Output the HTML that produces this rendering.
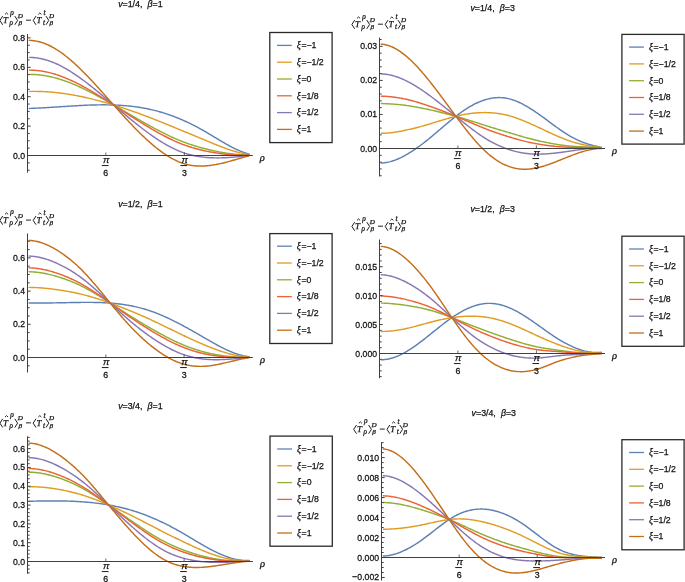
<!DOCTYPE html>
<html><head><meta charset="utf-8"><style>
html,body{margin:0;padding:0;background:#fff;}
svg{display:block;will-change:transform;}
svg{font-family:"Liberation Sans",sans-serif;}
text{fill:#111;stroke:#111;stroke-width:0.25px;}
</style></head><body>
<svg width="685" height="582" viewBox="0 0 685 582">
<rect width="685" height="582" fill="#fff"/>
<g fill="none" stroke-width="1.45" stroke-linejoin="round" stroke-linecap="round"><path d="M29.3 108.42 L30.3 108.38 L31.3 108.35 L32.3 108.31 L33.3 108.28 L34.3 108.24 L35.3 108.2 L36.3 108.15 L37.3 108.11 L38.3 108.06 L39.3 108.01 L40.3 107.96 L41.3 107.91 L42.3 107.86 L43.3 107.8 L44.3 107.75 L45.3 107.69 L46.3 107.63 L47.3 107.57 L48.3 107.51 L49.3 107.45 L50.3 107.39 L51.3 107.33 L52.3 107.27 L53.3 107.2 L54.3 107.14 L55.3 107.08 L56.3 107.01 L57.3 106.94 L58.3 106.88 L59.3 106.81 L60.3 106.75 L61.3 106.68 L62.3 106.62 L63.3 106.55 L64.3 106.48 L65.3 106.42 L66.3 106.35 L67.3 106.29 L68.3 106.23 L69.3 106.16 L70.3 106.1 L71.3 106.04 L72.3 105.98 L73.3 105.91 L74.3 105.85 L75.3 105.8 L76.3 105.74 L77.3 105.68 L78.3 105.63 L79.3 105.57 L80.3 105.52 L81.3 105.47 L82.3 105.42 L83.3 105.37 L84.3 105.32 L85.3 105.28 L86.3 105.23 L87.3 105.19 L88.3 105.15 L89.3 105.11 L90.3 105.08 L91.3 105.05 L92.3 105.01 L93.3 104.98 L94.3 104.96 L95.3 104.93 L96.3 104.91 L97.3 104.89 L98.3 104.88 L99.3 104.86 L100.3 104.85 L101.3 104.84 L102.3 104.84 L103.3 104.84 L104.3 104.84 L105.3 104.84 L106.3 104.85 L107.3 104.86 L108.3 104.87 L109.3 104.89 L110.3 104.91 L111.3 104.93 L112.3 104.96 L113.3 104.99 L114.3 105.03 L115.3 105.07 L116.3 105.11 L117.3 105.15 L118.3 105.21 L119.3 105.26 L120.3 105.32 L121.3 105.38 L122.3 105.45 L123.3 105.52 L124.3 105.6 L125.3 105.68 L126.3 105.77 L127.3 105.86 L128.3 105.96 L129.3 106.06 L130.3 106.16 L131.3 106.27 L132.3 106.39 L133.3 106.51 L134.3 106.63 L135.3 106.76 L136.3 106.9 L137.3 107.04 L138.3 107.19 L139.3 107.34 L140.3 107.5 L141.3 107.67 L142.3 107.84 L143.3 108.01 L144.3 108.19 L145.3 108.38 L146.3 108.58 L147.3 108.78 L148.3 108.98 L149.3 109.2 L150.3 109.42 L151.3 109.64 L152.3 109.87 L153.3 110.11 L154.3 110.36 L155.3 110.61 L156.3 110.87 L157.3 111.13 L158.3 111.41 L159.3 111.68 L160.3 111.97 L161.3 112.26 L162.3 112.56 L163.3 112.87 L164.3 113.18 L165.3 113.5 L166.3 113.83 L167.3 114.16 L168.3 114.5 L169.3 114.84 L170.3 115.2 L171.3 115.56 L172.3 115.92 L173.3 116.29 L174.3 116.67 L175.3 117.06 L176.3 117.45 L177.3 117.85 L178.3 118.26 L179.3 118.67 L180.3 119.09 L181.3 119.51 L182.3 119.94 L183.3 120.38 L184.3 120.83 L185.3 121.28 L186.3 121.73 L187.3 122.2 L188.3 122.67 L189.3 123.15 L190.3 123.63 L191.3 124.12 L192.3 124.62 L193.3 125.12 L194.3 125.63 L195.3 126.14 L196.3 126.67 L197.3 127.2 L198.3 127.73 L199.3 128.27 L200.3 128.82 L201.3 129.37 L202.3 129.93 L203.3 130.5 L204.3 131.07 L205.3 131.65 L206.3 132.23 L207.3 132.82 L208.3 133.41 L209.3 134.01 L210.3 134.61 L211.3 135.21 L212.3 135.81 L213.3 136.41 L214.3 137.02 L215.3 137.62 L216.3 138.22 L217.3 138.82 L218.3 139.42 L219.3 140.02 L220.3 140.62 L221.3 141.21 L222.3 141.8 L223.3 142.38 L224.3 142.96 L225.3 143.53 L226.3 144.1 L227.3 144.66 L228.3 145.21 L229.3 145.75 L230.3 146.29 L231.3 146.82 L232.3 147.33 L233.3 147.84 L234.3 148.34 L235.3 148.82 L236.3 149.3 L237.3 149.76 L238.3 150.21 L239.3 150.64 L240.3 151.06 L241.3 151.47 L242.3 151.86 L243.3 152.24 L244.3 152.6 L245.3 152.94 L246.3 153.26 L247.3 153.57 L248.3 153.86 L249 154.05" stroke="#5E81B5"/><path d="M29.3 91.4 L30.3 91.39 L31.3 91.38 L32.3 91.37 L33.3 91.37 L34.3 91.38 L35.3 91.39 L36.3 91.4 L37.3 91.41 L38.3 91.43 L39.3 91.46 L40.3 91.49 L41.3 91.52 L42.3 91.56 L43.3 91.6 L44.3 91.65 L45.3 91.71 L46.3 91.76 L47.3 91.83 L48.3 91.89 L49.3 91.97 L50.3 92.04 L51.3 92.12 L52.3 92.21 L53.3 92.3 L54.3 92.4 L55.3 92.5 L56.3 92.6 L57.3 92.71 L58.3 92.82 L59.3 92.94 L60.3 93.06 L61.3 93.19 L62.3 93.32 L63.3 93.46 L64.3 93.6 L65.3 93.74 L66.3 93.89 L67.3 94.04 L68.3 94.2 L69.3 94.36 L70.3 94.52 L71.3 94.69 L72.3 94.86 L73.3 95.04 L74.3 95.22 L75.3 95.4 L76.3 95.59 L77.3 95.78 L78.3 95.97 L79.3 96.17 L80.3 96.38 L81.3 96.58 L82.3 96.79 L83.3 97.01 L84.3 97.22 L85.3 97.44 L86.3 97.67 L87.3 97.89 L88.3 98.12 L89.3 98.36 L90.3 98.6 L91.3 98.84 L92.3 99.08 L93.3 99.33 L94.3 99.58 L95.3 99.83 L96.3 100.09 L97.3 100.35 L98.3 100.61 L99.3 100.88 L100.3 101.15 L101.3 101.42 L102.3 101.69 L103.3 101.97 L104.3 102.25 L105.3 102.53 L106.3 102.82 L107.3 103.11 L108.3 103.4 L109.3 103.69 L110.3 103.99 L111.3 104.29 L112.3 104.59 L113.3 104.9 L114.3 105.2 L115.3 105.51 L116.3 105.82 L117.3 106.14 L118.3 106.45 L119.3 106.77 L120.3 107.09 L121.3 107.42 L122.3 107.74 L123.3 108.07 L124.3 108.4 L125.3 108.74 L126.3 109.07 L127.3 109.41 L128.3 109.75 L129.3 110.09 L130.3 110.43 L131.3 110.78 L132.3 111.13 L133.3 111.48 L134.3 111.83 L135.3 112.19 L136.3 112.55 L137.3 112.9 L138.3 113.27 L139.3 113.63 L140.3 113.99 L141.3 114.36 L142.3 114.73 L143.3 115.1 L144.3 115.48 L145.3 115.85 L146.3 116.23 L147.3 116.61 L148.3 116.99 L149.3 117.37 L150.3 117.76 L151.3 118.14 L152.3 118.53 L153.3 118.92 L154.3 119.31 L155.3 119.71 L156.3 120.1 L157.3 120.5 L158.3 120.9 L159.3 121.3 L160.3 121.7 L161.3 122.1 L162.3 122.51 L163.3 122.91 L164.3 123.32 L165.3 123.72 L166.3 124.13 L167.3 124.54 L168.3 124.95 L169.3 125.36 L170.3 125.77 L171.3 126.19 L172.3 126.6 L173.3 127.01 L174.3 127.42 L175.3 127.84 L176.3 128.25 L177.3 128.67 L178.3 129.08 L179.3 129.49 L180.3 129.91 L181.3 130.32 L182.3 130.73 L183.3 131.14 L184.3 131.56 L185.3 131.97 L186.3 132.38 L187.3 132.79 L188.3 133.2 L189.3 133.61 L190.3 134.02 L191.3 134.43 L192.3 134.84 L193.3 135.25 L194.3 135.66 L195.3 136.07 L196.3 136.48 L197.3 136.89 L198.3 137.3 L199.3 137.72 L200.3 138.13 L201.3 138.55 L202.3 138.96 L203.3 139.38 L204.3 139.8 L205.3 140.22 L206.3 140.64 L207.3 141.05 L208.3 141.47 L209.3 141.89 L210.3 142.31 L211.3 142.73 L212.3 143.14 L213.3 143.55 L214.3 143.97 L215.3 144.37 L216.3 144.78 L217.3 145.18 L218.3 145.58 L219.3 145.98 L220.3 146.37 L221.3 146.76 L222.3 147.14 L223.3 147.52 L224.3 147.89 L225.3 148.26 L226.3 148.62 L227.3 148.97 L228.3 149.32 L229.3 149.66 L230.3 149.99 L231.3 150.32 L232.3 150.64 L233.3 150.95 L234.3 151.25 L235.3 151.54 L236.3 151.82 L237.3 152.1 L238.3 152.36 L239.3 152.61 L240.3 152.86 L241.3 153.09 L242.3 153.31 L243.3 153.52 L244.3 153.72 L245.3 153.9 L246.3 154.08 L247.3 154.24 L248.3 154.39 L249 154.48" stroke="#E19C24"/><path d="M29.3 74.38 L30.3 74.39 L31.3 74.41 L32.3 74.43 L33.3 74.47 L34.3 74.52 L35.3 74.58 L36.3 74.64 L37.3 74.72 L38.3 74.81 L39.3 74.91 L40.3 75.02 L41.3 75.14 L42.3 75.27 L43.3 75.41 L44.3 75.56 L45.3 75.72 L46.3 75.89 L47.3 76.08 L48.3 76.27 L49.3 76.48 L50.3 76.69 L51.3 76.92 L52.3 77.15 L53.3 77.4 L54.3 77.65 L55.3 77.92 L56.3 78.19 L57.3 78.47 L58.3 78.77 L59.3 79.07 L60.3 79.38 L61.3 79.7 L62.3 80.03 L63.3 80.36 L64.3 80.71 L65.3 81.06 L66.3 81.42 L67.3 81.79 L68.3 82.16 L69.3 82.55 L70.3 82.94 L71.3 83.34 L72.3 83.74 L73.3 84.16 L74.3 84.58 L75.3 85 L76.3 85.44 L77.3 85.88 L78.3 86.32 L79.3 86.77 L80.3 87.23 L81.3 87.7 L82.3 88.17 L83.3 88.64 L84.3 89.12 L85.3 89.61 L86.3 90.1 L87.3 90.6 L88.3 91.1 L89.3 91.6 L90.3 92.11 L91.3 92.63 L92.3 93.15 L93.3 93.67 L94.3 94.2 L95.3 94.73 L96.3 95.27 L97.3 95.8 L98.3 96.35 L99.3 96.89 L100.3 97.44 L101.3 97.99 L102.3 98.55 L103.3 99.11 L104.3 99.67 L105.3 100.23 L106.3 100.79 L107.3 101.36 L108.3 101.93 L109.3 102.5 L110.3 103.07 L111.3 103.65 L112.3 104.22 L113.3 104.8 L114.3 105.38 L115.3 105.96 L116.3 106.54 L117.3 107.12 L118.3 107.7 L119.3 108.28 L120.3 108.87 L121.3 109.45 L122.3 110.03 L123.3 110.62 L124.3 111.2 L125.3 111.79 L126.3 112.37 L127.3 112.96 L128.3 113.54 L129.3 114.12 L130.3 114.71 L131.3 115.29 L132.3 115.87 L133.3 116.45 L134.3 117.03 L135.3 117.61 L136.3 118.19 L137.3 118.77 L138.3 119.34 L139.3 119.91 L140.3 120.49 L141.3 121.06 L142.3 121.62 L143.3 122.19 L144.3 122.76 L145.3 123.32 L146.3 123.88 L147.3 124.44 L148.3 124.99 L149.3 125.55 L150.3 126.1 L151.3 126.64 L152.3 127.19 L153.3 127.73 L154.3 128.27 L155.3 128.8 L156.3 129.34 L157.3 129.86 L158.3 130.39 L159.3 130.91 L160.3 131.43 L161.3 131.94 L162.3 132.45 L163.3 132.95 L164.3 133.45 L165.3 133.95 L166.3 134.44 L167.3 134.93 L168.3 135.41 L169.3 135.88 L170.3 136.35 L171.3 136.82 L172.3 137.28 L173.3 137.73 L174.3 138.18 L175.3 138.62 L176.3 139.05 L177.3 139.48 L178.3 139.9 L179.3 140.32 L180.3 140.72 L181.3 141.13 L182.3 141.52 L183.3 141.91 L184.3 142.28 L185.3 142.66 L186.3 143.02 L187.3 143.38 L188.3 143.73 L189.3 144.07 L190.3 144.41 L191.3 144.74 L192.3 145.06 L193.3 145.38 L194.3 145.69 L195.3 145.99 L196.3 146.29 L197.3 146.59 L198.3 146.88 L199.3 147.16 L200.3 147.44 L201.3 147.72 L202.3 147.99 L203.3 148.26 L204.3 148.52 L205.3 148.78 L206.3 149.04 L207.3 149.29 L208.3 149.53 L209.3 149.78 L210.3 150.01 L211.3 150.25 L212.3 150.47 L213.3 150.7 L214.3 150.92 L215.3 151.13 L216.3 151.34 L217.3 151.54 L218.3 151.74 L219.3 151.94 L220.3 152.12 L221.3 152.31 L222.3 152.48 L223.3 152.66 L224.3 152.82 L225.3 152.98 L226.3 153.14 L227.3 153.28 L228.3 153.43 L229.3 153.56 L230.3 153.7 L231.3 153.82 L232.3 153.94 L233.3 154.05 L234.3 154.16 L235.3 154.25 L236.3 154.35 L237.3 154.43 L238.3 154.51 L239.3 154.58 L240.3 154.65 L241.3 154.71 L242.3 154.76 L243.3 154.8 L244.3 154.84 L245.3 154.87 L246.3 154.89 L247.3 154.91 L248.3 154.91 L249 154.91" stroke="#8FB032"/><path d="M29.3 70.13 L30.3 70.14 L31.3 70.16 L32.3 70.2 L33.3 70.25 L34.3 70.3 L35.3 70.37 L36.3 70.45 L37.3 70.55 L38.3 70.65 L39.3 70.77 L40.3 70.9 L41.3 71.04 L42.3 71.19 L43.3 71.36 L44.3 71.53 L45.3 71.72 L46.3 71.93 L47.3 72.14 L48.3 72.37 L49.3 72.6 L50.3 72.85 L51.3 73.11 L52.3 73.39 L53.3 73.67 L54.3 73.97 L55.3 74.27 L56.3 74.59 L57.3 74.92 L58.3 75.25 L59.3 75.6 L60.3 75.96 L61.3 76.32 L62.3 76.7 L63.3 77.09 L64.3 77.48 L65.3 77.89 L66.3 78.3 L67.3 78.73 L68.3 79.16 L69.3 79.6 L70.3 80.05 L71.3 80.5 L72.3 80.97 L73.3 81.44 L74.3 81.92 L75.3 82.4 L76.3 82.9 L77.3 83.4 L78.3 83.91 L79.3 84.42 L80.3 84.95 L81.3 85.48 L82.3 86.01 L83.3 86.55 L84.3 87.1 L85.3 87.65 L86.3 88.21 L87.3 88.77 L88.3 89.34 L89.3 89.91 L90.3 90.49 L91.3 91.08 L92.3 91.67 L93.3 92.26 L94.3 92.85 L95.3 93.46 L96.3 94.06 L97.3 94.67 L98.3 95.28 L99.3 95.9 L100.3 96.52 L101.3 97.14 L102.3 97.76 L103.3 98.39 L104.3 99.02 L105.3 99.65 L106.3 100.29 L107.3 100.92 L108.3 101.56 L109.3 102.2 L110.3 102.84 L111.3 103.49 L112.3 104.13 L113.3 104.78 L114.3 105.42 L115.3 106.07 L116.3 106.72 L117.3 107.36 L118.3 108.01 L119.3 108.66 L120.3 109.31 L121.3 109.96 L122.3 110.61 L123.3 111.26 L124.3 111.9 L125.3 112.55 L126.3 113.2 L127.3 113.84 L128.3 114.49 L129.3 115.13 L130.3 115.78 L131.3 116.42 L132.3 117.06 L133.3 117.7 L134.3 118.33 L135.3 118.97 L136.3 119.6 L137.3 120.23 L138.3 120.86 L139.3 121.49 L140.3 122.11 L141.3 122.73 L142.3 123.35 L143.3 123.96 L144.3 124.58 L145.3 125.19 L146.3 125.79 L147.3 126.39 L148.3 126.99 L149.3 127.59 L150.3 128.18 L151.3 128.77 L152.3 129.35 L153.3 129.93 L154.3 130.51 L155.3 131.08 L156.3 131.64 L157.3 132.2 L158.3 132.76 L159.3 133.31 L160.3 133.86 L161.3 134.4 L162.3 134.94 L163.3 135.46 L164.3 135.99 L165.3 136.51 L166.3 137.02 L167.3 137.52 L168.3 138.02 L169.3 138.51 L170.3 139 L171.3 139.47 L172.3 139.95 L173.3 140.41 L174.3 140.86 L175.3 141.31 L176.3 141.75 L177.3 142.18 L178.3 142.61 L179.3 143.02 L180.3 143.43 L181.3 143.83 L182.3 144.22 L183.3 144.6 L184.3 144.97 L185.3 145.33 L186.3 145.68 L187.3 146.02 L188.3 146.36 L189.3 146.69 L190.3 147 L191.3 147.31 L192.3 147.61 L193.3 147.91 L194.3 148.2 L195.3 148.48 L196.3 148.75 L197.3 149.01 L198.3 149.27 L199.3 149.53 L200.3 149.77 L201.3 150.01 L202.3 150.25 L203.3 150.48 L204.3 150.7 L205.3 150.92 L206.3 151.14 L207.3 151.35 L208.3 151.55 L209.3 151.75 L210.3 151.94 L211.3 152.13 L212.3 152.31 L213.3 152.48 L214.3 152.65 L215.3 152.82 L216.3 152.98 L217.3 153.13 L218.3 153.28 L219.3 153.42 L220.3 153.56 L221.3 153.69 L222.3 153.82 L223.3 153.94 L224.3 154.05 L225.3 154.16 L226.3 154.27 L227.3 154.36 L228.3 154.46 L229.3 154.54 L230.3 154.62 L231.3 154.7 L232.3 154.76 L233.3 154.83 L234.3 154.88 L235.3 154.93 L236.3 154.98 L237.3 155.02 L238.3 155.05 L239.3 155.08 L240.3 155.1 L241.3 155.11 L242.3 155.12 L243.3 155.12 L244.3 155.12 L245.3 155.11 L246.3 155.09 L247.3 155.07 L248.3 155.04 L249 155.02" stroke="#EB6235"/><path d="M29.3 57.37 L30.3 57.39 L31.3 57.44 L32.3 57.49 L33.3 57.57 L34.3 57.66 L35.3 57.77 L36.3 57.89 L37.3 58.03 L38.3 58.18 L39.3 58.36 L40.3 58.54 L41.3 58.75 L42.3 58.97 L43.3 59.21 L44.3 59.46 L45.3 59.73 L46.3 60.02 L47.3 60.33 L48.3 60.65 L49.3 60.99 L50.3 61.34 L51.3 61.71 L52.3 62.09 L53.3 62.49 L54.3 62.91 L55.3 63.34 L56.3 63.78 L57.3 64.24 L58.3 64.71 L59.3 65.2 L60.3 65.69 L61.3 66.21 L62.3 66.73 L63.3 67.27 L64.3 67.82 L65.3 68.38 L66.3 68.95 L67.3 69.54 L68.3 70.13 L69.3 70.74 L70.3 71.36 L71.3 71.99 L72.3 72.63 L73.3 73.28 L74.3 73.94 L75.3 74.61 L76.3 75.29 L77.3 75.97 L78.3 76.67 L79.3 77.38 L80.3 78.09 L81.3 78.81 L82.3 79.54 L83.3 80.28 L84.3 81.02 L85.3 81.77 L86.3 82.53 L87.3 83.3 L88.3 84.07 L89.3 84.85 L90.3 85.63 L91.3 86.42 L92.3 87.22 L93.3 88.02 L94.3 88.82 L95.3 89.63 L96.3 90.44 L97.3 91.26 L98.3 92.08 L99.3 92.91 L100.3 93.74 L101.3 94.57 L102.3 95.4 L103.3 96.24 L104.3 97.08 L105.3 97.92 L106.3 98.77 L107.3 99.61 L108.3 100.46 L109.3 101.31 L110.3 102.15 L111.3 103 L112.3 103.85 L113.3 104.7 L114.3 105.55 L115.3 106.4 L116.3 107.25 L117.3 108.1 L118.3 108.95 L119.3 109.8 L120.3 110.64 L121.3 111.48 L122.3 112.33 L123.3 113.17 L124.3 114 L125.3 114.84 L126.3 115.67 L127.3 116.51 L128.3 117.33 L129.3 118.16 L130.3 118.98 L131.3 119.8 L132.3 120.61 L133.3 121.42 L134.3 122.23 L135.3 123.03 L136.3 123.83 L137.3 124.63 L138.3 125.42 L139.3 126.2 L140.3 126.98 L141.3 127.75 L142.3 128.52 L143.3 129.28 L144.3 130.04 L145.3 130.79 L146.3 131.53 L147.3 132.27 L148.3 133 L149.3 133.72 L150.3 134.44 L151.3 135.14 L152.3 135.84 L153.3 136.54 L154.3 137.22 L155.3 137.9 L156.3 138.57 L157.3 139.23 L158.3 139.88 L159.3 140.52 L160.3 141.16 L161.3 141.78 L162.3 142.39 L163.3 143 L164.3 143.59 L165.3 144.17 L166.3 144.75 L167.3 145.31 L168.3 145.86 L169.3 146.4 L170.3 146.93 L171.3 147.45 L172.3 147.95 L173.3 148.45 L174.3 148.93 L175.3 149.4 L176.3 149.85 L177.3 150.29 L178.3 150.72 L179.3 151.14 L180.3 151.54 L181.3 151.93 L182.3 152.31 L183.3 152.67 L184.3 153.01 L185.3 153.35 L186.3 153.66 L187.3 153.97 L188.3 154.26 L189.3 154.53 L190.3 154.79 L191.3 155.04 L192.3 155.28 L193.3 155.51 L194.3 155.72 L195.3 155.92 L196.3 156.11 L197.3 156.29 L198.3 156.45 L199.3 156.61 L200.3 156.76 L201.3 156.89 L202.3 157.02 L203.3 157.14 L204.3 157.25 L205.3 157.35 L206.3 157.44 L207.3 157.52 L208.3 157.59 L209.3 157.66 L210.3 157.72 L211.3 157.77 L212.3 157.81 L213.3 157.84 L214.3 157.87 L215.3 157.89 L216.3 157.9 L217.3 157.9 L218.3 157.9 L219.3 157.89 L220.3 157.88 L221.3 157.86 L222.3 157.83 L223.3 157.79 L224.3 157.75 L225.3 157.71 L226.3 157.66 L227.3 157.6 L228.3 157.54 L229.3 157.47 L230.3 157.4 L231.3 157.32 L232.3 157.24 L233.3 157.15 L234.3 157.06 L235.3 156.97 L236.3 156.87 L237.3 156.77 L238.3 156.66 L239.3 156.55 L240.3 156.44 L241.3 156.33 L242.3 156.21 L243.3 156.08 L244.3 155.96 L245.3 155.83 L246.3 155.7 L247.3 155.57 L248.3 155.44 L249 155.34" stroke="#8778B3"/><path d="M29.3 40.35 L30.3 40.4 L31.3 40.46 L32.3 40.55 L33.3 40.67 L34.3 40.8 L35.3 40.96 L36.3 41.13 L37.3 41.34 L38.3 41.56 L39.3 41.8 L40.3 42.07 L41.3 42.36 L42.3 42.67 L43.3 43.01 L44.3 43.37 L45.3 43.75 L46.3 44.15 L47.3 44.58 L48.3 45.03 L49.3 45.5 L50.3 45.99 L51.3 46.5 L52.3 47.04 L53.3 47.59 L54.3 48.16 L55.3 48.76 L56.3 49.37 L57.3 50 L58.3 50.65 L59.3 51.32 L60.3 52.01 L61.3 52.71 L62.3 53.44 L63.3 54.17 L64.3 54.93 L65.3 55.7 L66.3 56.49 L67.3 57.29 L68.3 58.1 L69.3 58.94 L70.3 59.78 L71.3 60.64 L72.3 61.51 L73.3 62.4 L74.3 63.3 L75.3 64.21 L76.3 65.14 L77.3 66.07 L78.3 67.02 L79.3 67.98 L80.3 68.95 L81.3 69.93 L82.3 70.92 L83.3 71.91 L84.3 72.92 L85.3 73.94 L86.3 74.97 L87.3 76 L88.3 77.04 L89.3 78.09 L90.3 79.15 L91.3 80.21 L92.3 81.28 L93.3 82.36 L94.3 83.44 L95.3 84.53 L96.3 85.62 L97.3 86.72 L98.3 87.82 L99.3 88.92 L100.3 90.03 L101.3 91.14 L102.3 92.26 L103.3 93.38 L104.3 94.5 L105.3 95.62 L106.3 96.74 L107.3 97.86 L108.3 98.99 L109.3 100.11 L110.3 101.24 L111.3 102.36 L112.3 103.49 L113.3 104.61 L114.3 105.73 L115.3 106.85 L116.3 107.97 L117.3 109.08 L118.3 110.2 L119.3 111.31 L120.3 112.41 L121.3 113.52 L122.3 114.62 L123.3 115.71 L124.3 116.81 L125.3 117.89 L126.3 118.98 L127.3 120.05 L128.3 121.13 L129.3 122.19 L130.3 123.25 L131.3 124.31 L132.3 125.36 L133.3 126.4 L134.3 127.43 L135.3 128.46 L136.3 129.48 L137.3 130.49 L138.3 131.49 L139.3 132.48 L140.3 133.47 L141.3 134.45 L142.3 135.41 L143.3 136.37 L144.3 137.32 L145.3 138.25 L146.3 139.18 L147.3 140.1 L148.3 141 L149.3 141.89 L150.3 142.78 L151.3 143.64 L152.3 144.5 L153.3 145.35 L154.3 146.18 L155.3 147 L156.3 147.8 L157.3 148.59 L158.3 149.37 L159.3 150.14 L160.3 150.88 L161.3 151.62 L162.3 152.34 L163.3 153.04 L164.3 153.73 L165.3 154.4 L166.3 155.06 L167.3 155.69 L168.3 156.32 L169.3 156.92 L170.3 157.51 L171.3 158.08 L172.3 158.63 L173.3 159.16 L174.3 159.68 L175.3 160.17 L176.3 160.65 L177.3 161.11 L178.3 161.55 L179.3 161.96 L180.3 162.36 L181.3 162.74 L182.3 163.1 L183.3 163.43 L184.3 163.74 L185.3 164.04 L186.3 164.31 L187.3 164.56 L188.3 164.78 L189.3 164.99 L190.3 165.18 L191.3 165.35 L192.3 165.5 L193.3 165.63 L194.3 165.75 L195.3 165.84 L196.3 165.92 L197.3 165.98 L198.3 166.03 L199.3 166.06 L200.3 166.07 L201.3 166.07 L202.3 166.05 L203.3 166.02 L204.3 165.97 L205.3 165.91 L206.3 165.84 L207.3 165.75 L208.3 165.65 L209.3 165.54 L210.3 165.42 L211.3 165.29 L212.3 165.14 L213.3 164.98 L214.3 164.82 L215.3 164.64 L216.3 164.46 L217.3 164.26 L218.3 164.06 L219.3 163.85 L220.3 163.63 L221.3 163.4 L222.3 163.17 L223.3 162.93 L224.3 162.69 L225.3 162.43 L226.3 162.18 L227.3 161.91 L228.3 161.65 L229.3 161.38 L230.3 161.1 L231.3 160.82 L232.3 160.54 L233.3 160.26 L234.3 159.97 L235.3 159.69 L236.3 159.4 L237.3 159.11 L238.3 158.82 L239.3 158.52 L240.3 158.23 L241.3 157.94 L242.3 157.65 L243.3 157.37 L244.3 157.08 L245.3 156.8 L246.3 156.52 L247.3 156.24 L248.3 155.96 L249 155.77" stroke="#C56E1A"/></g><path d="M27.5 34 V172.6 M27.5 155.5 H252.8" stroke="#404040" stroke-width="1.0" fill="none"/><path d="M27.5 170.2 h2.2 M27.5 162.85 h2.2 M27.5 155.5 h3.2 M27.5 148.15 h2.2 M27.5 140.8 h2.2 M27.5 133.45 h2.2 M27.5 126.1 h3.2 M27.5 118.75 h2.2 M27.5 111.4 h2.2 M27.5 104.05 h2.2 M27.5 96.7 h3.2 M27.5 89.35 h2.2 M27.5 82 h2.2 M27.5 74.65 h2.2 M27.5 67.3 h3.2 M27.5 59.95 h2.2 M27.5 52.6 h2.2 M27.5 45.25 h2.2 M27.5 37.9 h3.2" stroke="#404040" stroke-width="1.0" fill="none"/><text transform="translate(25.1 158.5) scale(1 1.13)" text-anchor="end" font-size="8.7">0.0</text><text transform="translate(25.1 129.1) scale(1 1.13)" text-anchor="end" font-size="8.7">0.2</text><text transform="translate(25.1 99.7) scale(1 1.13)" text-anchor="end" font-size="8.7">0.4</text><text transform="translate(25.1 70.3) scale(1 1.13)" text-anchor="end" font-size="8.7">0.6</text><text transform="translate(25.1 40.9) scale(1 1.13)" text-anchor="end" font-size="8.7">0.8</text><path d="M105.8 155.5 v-3" stroke="#404040" stroke-width="0.8" fill="none"/><text x="106.2" y="163.2" text-anchor="middle" font-family="Liberation Sans" font-style="italic" font-size="9.6">π</text><rect x="101.8" y="165.1" width="6.7" height="0.95" fill="#111"/><text transform="translate(105.8 175.9) scale(1 1.08)" text-anchor="middle" font-size="8.8">6</text><path d="M184.4 155.5 v-3" stroke="#404040" stroke-width="0.8" fill="none"/><text x="184.8" y="163.2" text-anchor="middle" font-family="Liberation Sans" font-style="italic" font-size="9.6">π</text><rect x="180.4" y="165.1" width="6.7" height="0.95" fill="#111"/><text transform="translate(184.4 175.9) scale(1 1.08)" text-anchor="middle" font-size="8.8">3</text><text x="258.8" y="160.6" font-family="Liberation Serif" font-style="italic" font-size="10.6" dx="1.0">ρ</text><text x="118.2" y="7.4" font-size="8.8"><tspan font-style="italic">v</tspan>=1/4,<tspan font-style="italic" dx="5.1">β</tspan>=1</text><path d="M2.7 16.1 L-0.1 20.45 L2.7 24.8" fill="none" stroke="#111" stroke-width="0.95"/><text x="3.1" y="22.9" font-family="Liberation Serif" font-style="italic" font-size="8.9">T</text><path d="M5 14.4 L6.55 12.9 L8.1 14.4" fill="none" stroke="#111" stroke-width="0.9"/><text x="10.3" y="14.5" font-family="Liberation Serif" font-style="italic" font-size="7.4">ρ</text><text x="9.6" y="25.1" font-family="Liberation Serif" font-style="italic" font-size="7.2">ρ</text><path d="M14.8 16.1 L17.6 20.45 L14.8 24.8" fill="none" stroke="#111" stroke-width="0.95"/><text x="17.8" y="17.7" font-family="Liberation Serif" font-style="italic" font-size="7.1">D</text><text x="18.4" y="25.4" font-family="Liberation Serif" font-style="italic" font-size="7.1">β</text><rect x="26" y="19.7" width="4.9" height="0.95" fill="#111"/><path d="M36 16.1 L33.2 20.45 L36 24.8" fill="none" stroke="#111" stroke-width="0.95"/><text x="36.4" y="22.9" font-family="Liberation Serif" font-style="italic" font-size="8.9">T</text><path d="M38.3 14.4 L39.85 12.9 L41.4 14.4" fill="none" stroke="#111" stroke-width="0.9"/><text x="43.6" y="14.8" font-family="Liberation Serif" font-style="italic" font-size="7.4">t</text><text x="42.9" y="24.8" font-family="Liberation Serif" font-style="italic" font-size="7.2">t</text><path d="M46 16.1 L48.8 20.45 L46 24.8" fill="none" stroke="#111" stroke-width="0.95"/><text x="49" y="17.7" font-family="Liberation Serif" font-style="italic" font-size="7.1">D</text><text x="49.6" y="25.4" font-family="Liberation Serif" font-style="italic" font-size="7.1">β</text><rect x="269.8" y="32.5" width="62.3" height="110.1" fill="#fff" stroke="#2a2a2a" stroke-width="1.3"/><path d="M277 45.4 h14.8" stroke="#5E81B5" stroke-width="1.3"/><text x="296.8" y="48.2" font-size="8.7"><tspan font-family="Liberation Serif" font-style="italic" font-size="9.4">ξ</tspan><tspan dx="0.6">=−1</tspan></text><path d="M277 62.2 h14.8" stroke="#E19C24" stroke-width="1.3"/><text x="296.8" y="65" font-size="8.7"><tspan font-family="Liberation Serif" font-style="italic" font-size="9.4">ξ</tspan><tspan dx="0.6">=−1/2</tspan></text><path d="M277 79 h14.8" stroke="#8FB032" stroke-width="1.3"/><text x="296.8" y="81.8" font-size="8.7"><tspan font-family="Liberation Serif" font-style="italic" font-size="9.4">ξ</tspan><tspan dx="0.6">=0</tspan></text><path d="M277 95.8 h14.8" stroke="#EB6235" stroke-width="1.3"/><text x="296.8" y="98.6" font-size="8.7"><tspan font-family="Liberation Serif" font-style="italic" font-size="9.4">ξ</tspan><tspan dx="0.6">=1/8</tspan></text><path d="M277 112.6 h14.8" stroke="#8778B3" stroke-width="1.3"/><text x="296.8" y="115.4" font-size="8.7"><tspan font-family="Liberation Serif" font-style="italic" font-size="9.4">ξ</tspan><tspan dx="0.6">=1/2</tspan></text><path d="M277 129.4 h14.8" stroke="#C56E1A" stroke-width="1.3"/><text x="296.8" y="132.2" font-size="8.7"><tspan font-family="Liberation Serif" font-style="italic" font-size="9.4">ξ</tspan><tspan dx="0.6">=1</tspan></text><g fill="none" stroke-width="1.45" stroke-linejoin="round" stroke-linecap="round"><path d="M381.3 162.98 L382.3 162.93 L383.3 162.86 L384.3 162.76 L385.3 162.64 L386.3 162.49 L387.3 162.32 L388.3 162.11 L389.3 161.89 L390.3 161.64 L391.3 161.36 L392.3 161.06 L393.3 160.73 L394.3 160.39 L395.3 160.02 L396.3 159.63 L397.3 159.21 L398.3 158.78 L399.3 158.33 L400.3 157.86 L401.3 157.38 L402.3 156.87 L403.3 156.35 L404.3 155.82 L405.3 155.27 L406.3 154.7 L407.3 154.12 L408.3 153.52 L409.3 152.92 L410.3 152.3 L411.3 151.67 L412.3 151.03 L413.3 150.38 L414.3 149.72 L415.3 149.04 L416.3 148.35 L417.3 147.66 L418.3 146.95 L419.3 146.23 L420.3 145.5 L421.3 144.76 L422.3 144 L423.3 143.24 L424.3 142.47 L425.3 141.68 L426.3 140.89 L427.3 140.09 L428.3 139.28 L429.3 138.47 L430.3 137.65 L431.3 136.82 L432.3 135.98 L433.3 135.15 L434.3 134.3 L435.3 133.46 L436.3 132.61 L437.3 131.76 L438.3 130.9 L439.3 130.05 L440.3 129.2 L441.3 128.34 L442.3 127.49 L443.3 126.64 L444.3 125.79 L445.3 124.94 L446.3 124.09 L447.3 123.25 L448.3 122.42 L449.3 121.59 L450.3 120.76 L451.3 119.94 L452.3 119.13 L453.3 118.33 L454.3 117.53 L455.3 116.74 L456.3 115.97 L457.3 115.2 L458.3 114.44 L459.3 113.7 L460.3 112.96 L461.3 112.24 L462.3 111.53 L463.3 110.84 L464.3 110.16 L465.3 109.49 L466.3 108.84 L467.3 108.21 L468.3 107.59 L469.3 106.99 L470.3 106.4 L471.3 105.83 L472.3 105.28 L473.3 104.74 L474.3 104.22 L475.3 103.72 L476.3 103.23 L477.3 102.77 L478.3 102.32 L479.3 101.89 L480.3 101.48 L481.3 101.09 L482.3 100.72 L483.3 100.36 L484.3 100.03 L485.3 99.72 L486.3 99.42 L487.3 99.15 L488.3 98.9 L489.3 98.67 L490.3 98.46 L491.3 98.27 L492.3 98.11 L493.3 97.96 L494.3 97.84 L495.3 97.74 L496.3 97.67 L497.3 97.61 L498.3 97.58 L499.3 97.58 L500.3 97.6 L501.3 97.64 L502.3 97.7 L503.3 97.8 L504.3 97.91 L505.3 98.05 L506.3 98.22 L507.3 98.41 L508.3 98.63 L509.3 98.87 L510.3 99.14 L511.3 99.42 L512.3 99.73 L513.3 100.07 L514.3 100.42 L515.3 100.8 L516.3 101.19 L517.3 101.61 L518.3 102.04 L519.3 102.49 L520.3 102.96 L521.3 103.45 L522.3 103.96 L523.3 104.48 L524.3 105.02 L525.3 105.57 L526.3 106.14 L527.3 106.72 L528.3 107.31 L529.3 107.92 L530.3 108.54 L531.3 109.17 L532.3 109.81 L533.3 110.47 L534.3 111.13 L535.3 111.8 L536.3 112.49 L537.3 113.18 L538.3 113.87 L539.3 114.58 L540.3 115.29 L541.3 116.01 L542.3 116.73 L543.3 117.46 L544.3 118.19 L545.3 118.93 L546.3 119.66 L547.3 120.4 L548.3 121.14 L549.3 121.88 L550.3 122.62 L551.3 123.36 L552.3 124.09 L553.3 124.83 L554.3 125.56 L555.3 126.29 L556.3 127.01 L557.3 127.73 L558.3 128.44 L559.3 129.14 L560.3 129.84 L561.3 130.53 L562.3 131.21 L563.3 131.88 L564.3 132.54 L565.3 133.2 L566.3 133.83 L567.3 134.46 L568.3 135.08 L569.3 135.68 L570.3 136.26 L571.3 136.83 L572.3 137.39 L573.3 137.93 L574.3 138.45 L575.3 138.96 L576.3 139.45 L577.3 139.92 L578.3 140.38 L579.3 140.82 L580.3 141.25 L581.3 141.66 L582.3 142.06 L583.3 142.45 L584.3 142.82 L585.3 143.18 L586.3 143.52 L587.3 143.85 L588.3 144.17 L589.3 144.47 L590.3 144.77 L591.3 145.05 L592.3 145.32 L593.3 145.58 L594.3 145.83 L595.3 146.06 L596.3 146.29 L597.3 146.5 L598.3 146.71 L599.3 146.91 L600.3 147.09 L601.2 147.26" stroke="#5E81B5"/><path d="M381.3 133.27 L382.3 133.26 L383.3 133.24 L384.3 133.2 L385.3 133.16 L386.3 133.1 L387.3 133.04 L388.3 132.96 L389.3 132.87 L390.3 132.78 L391.3 132.67 L392.3 132.55 L393.3 132.42 L394.3 132.29 L395.3 132.14 L396.3 131.99 L397.3 131.83 L398.3 131.66 L399.3 131.48 L400.3 131.3 L401.3 131.11 L402.3 130.92 L403.3 130.71 L404.3 130.51 L405.3 130.3 L406.3 130.08 L407.3 129.86 L408.3 129.63 L409.3 129.4 L410.3 129.17 L411.3 128.94 L412.3 128.7 L413.3 128.46 L414.3 128.21 L415.3 127.96 L416.3 127.71 L417.3 127.46 L418.3 127.2 L419.3 126.93 L420.3 126.66 L421.3 126.39 L422.3 126.12 L423.3 125.83 L424.3 125.55 L425.3 125.26 L426.3 124.97 L427.3 124.68 L428.3 124.38 L429.3 124.08 L430.3 123.77 L431.3 123.47 L432.3 123.16 L433.3 122.86 L434.3 122.55 L435.3 122.24 L436.3 121.93 L437.3 121.62 L438.3 121.31 L439.3 121.01 L440.3 120.7 L441.3 120.39 L442.3 120.09 L443.3 119.79 L444.3 119.49 L445.3 119.19 L446.3 118.9 L447.3 118.61 L448.3 118.32 L449.3 118.03 L450.3 117.76 L451.3 117.48 L452.3 117.21 L453.3 116.95 L454.3 116.69 L455.3 116.43 L456.3 116.19 L457.3 115.95 L458.3 115.71 L459.3 115.48 L460.3 115.26 L461.3 115.05 L462.3 114.85 L463.3 114.65 L464.3 114.46 L465.3 114.29 L466.3 114.12 L467.3 113.96 L468.3 113.8 L469.3 113.66 L470.3 113.53 L471.3 113.4 L472.3 113.28 L473.3 113.18 L474.3 113.08 L475.3 112.99 L476.3 112.91 L477.3 112.83 L478.3 112.77 L479.3 112.72 L480.3 112.68 L481.3 112.64 L482.3 112.61 L483.3 112.6 L484.3 112.59 L485.3 112.59 L486.3 112.6 L487.3 112.63 L488.3 112.66 L489.3 112.7 L490.3 112.74 L491.3 112.8 L492.3 112.87 L493.3 112.95 L494.3 113.04 L495.3 113.14 L496.3 113.25 L497.3 113.38 L498.3 113.51 L499.3 113.66 L500.3 113.81 L501.3 113.98 L502.3 114.16 L503.3 114.36 L504.3 114.57 L505.3 114.79 L506.3 115.02 L507.3 115.26 L508.3 115.52 L509.3 115.79 L510.3 116.08 L511.3 116.37 L512.3 116.68 L513.3 116.99 L514.3 117.32 L515.3 117.66 L516.3 118 L517.3 118.36 L518.3 118.72 L519.3 119.1 L520.3 119.48 L521.3 119.87 L522.3 120.26 L523.3 120.67 L524.3 121.08 L525.3 121.49 L526.3 121.91 L527.3 122.34 L528.3 122.77 L529.3 123.2 L530.3 123.64 L531.3 124.09 L532.3 124.54 L533.3 124.99 L534.3 125.45 L535.3 125.9 L536.3 126.36 L537.3 126.83 L538.3 127.29 L539.3 127.76 L540.3 128.23 L541.3 128.7 L542.3 129.18 L543.3 129.65 L544.3 130.12 L545.3 130.59 L546.3 131.06 L547.3 131.53 L548.3 132 L549.3 132.47 L550.3 132.93 L551.3 133.4 L552.3 133.85 L553.3 134.31 L554.3 134.76 L555.3 135.21 L556.3 135.65 L557.3 136.09 L558.3 136.53 L559.3 136.96 L560.3 137.38 L561.3 137.79 L562.3 138.2 L563.3 138.6 L564.3 139 L565.3 139.39 L566.3 139.76 L567.3 140.13 L568.3 140.49 L569.3 140.85 L570.3 141.19 L571.3 141.52 L572.3 141.84 L573.3 142.15 L574.3 142.45 L575.3 142.73 L576.3 143.01 L577.3 143.28 L578.3 143.54 L579.3 143.78 L580.3 144.02 L581.3 144.25 L582.3 144.48 L583.3 144.69 L584.3 144.9 L585.3 145.1 L586.3 145.29 L587.3 145.47 L588.3 145.65 L589.3 145.83 L590.3 145.99 L591.3 146.16 L592.3 146.31 L593.3 146.47 L594.3 146.62 L595.3 146.76 L596.3 146.9 L597.3 147.04 L598.3 147.18 L599.3 147.31 L600.3 147.44 L601.2 147.56" stroke="#E19C24"/><path d="M381.3 103.57 L382.3 103.59 L383.3 103.61 L384.3 103.64 L385.3 103.67 L386.3 103.71 L387.3 103.76 L388.3 103.81 L389.3 103.86 L390.3 103.92 L391.3 103.98 L392.3 104.04 L393.3 104.11 L394.3 104.19 L395.3 104.27 L396.3 104.35 L397.3 104.44 L398.3 104.54 L399.3 104.63 L400.3 104.74 L401.3 104.85 L402.3 104.96 L403.3 105.08 L404.3 105.2 L405.3 105.33 L406.3 105.46 L407.3 105.6 L408.3 105.74 L409.3 105.89 L410.3 106.04 L411.3 106.2 L412.3 106.37 L413.3 106.54 L414.3 106.71 L415.3 106.89 L416.3 107.07 L417.3 107.26 L418.3 107.44 L419.3 107.64 L420.3 107.83 L421.3 108.03 L422.3 108.23 L423.3 108.43 L424.3 108.63 L425.3 108.84 L426.3 109.05 L427.3 109.26 L428.3 109.47 L429.3 109.69 L430.3 109.9 L431.3 110.12 L432.3 110.34 L433.3 110.57 L434.3 110.79 L435.3 111.02 L436.3 111.25 L437.3 111.49 L438.3 111.72 L439.3 111.96 L440.3 112.2 L441.3 112.45 L442.3 112.69 L443.3 112.94 L444.3 113.19 L445.3 113.44 L446.3 113.7 L447.3 113.96 L448.3 114.22 L449.3 114.48 L450.3 114.75 L451.3 115.02 L452.3 115.29 L453.3 115.57 L454.3 115.84 L455.3 116.12 L456.3 116.41 L457.3 116.69 L458.3 116.98 L459.3 117.27 L460.3 117.57 L461.3 117.86 L462.3 118.16 L463.3 118.47 L464.3 118.77 L465.3 119.08 L466.3 119.39 L467.3 119.7 L468.3 120.02 L469.3 120.33 L470.3 120.65 L471.3 120.97 L472.3 121.29 L473.3 121.61 L474.3 121.93 L475.3 122.26 L476.3 122.58 L477.3 122.9 L478.3 123.23 L479.3 123.55 L480.3 123.87 L481.3 124.19 L482.3 124.51 L483.3 124.83 L484.3 125.15 L485.3 125.47 L486.3 125.79 L487.3 126.1 L488.3 126.41 L489.3 126.72 L490.3 127.03 L491.3 127.34 L492.3 127.64 L493.3 127.94 L494.3 128.24 L495.3 128.54 L496.3 128.84 L497.3 129.14 L498.3 129.44 L499.3 129.73 L500.3 130.03 L501.3 130.33 L502.3 130.62 L503.3 130.92 L504.3 131.22 L505.3 131.52 L506.3 131.82 L507.3 132.12 L508.3 132.42 L509.3 132.72 L510.3 133.02 L511.3 133.32 L512.3 133.62 L513.3 133.92 L514.3 134.22 L515.3 134.52 L516.3 134.82 L517.3 135.11 L518.3 135.41 L519.3 135.7 L520.3 135.99 L521.3 136.28 L522.3 136.57 L523.3 136.85 L524.3 137.13 L525.3 137.41 L526.3 137.69 L527.3 137.96 L528.3 138.22 L529.3 138.49 L530.3 138.75 L531.3 139.01 L532.3 139.26 L533.3 139.51 L534.3 139.76 L535.3 140 L536.3 140.24 L537.3 140.48 L538.3 140.72 L539.3 140.95 L540.3 141.17 L541.3 141.4 L542.3 141.62 L543.3 141.83 L544.3 142.05 L545.3 142.26 L546.3 142.46 L547.3 142.66 L548.3 142.86 L549.3 143.06 L550.3 143.25 L551.3 143.43 L552.3 143.61 L553.3 143.79 L554.3 143.97 L555.3 144.13 L556.3 144.3 L557.3 144.46 L558.3 144.62 L559.3 144.77 L560.3 144.91 L561.3 145.06 L562.3 145.19 L563.3 145.32 L564.3 145.45 L565.3 145.57 L566.3 145.69 L567.3 145.8 L568.3 145.91 L569.3 146.01 L570.3 146.11 L571.3 146.2 L572.3 146.29 L573.3 146.37 L574.3 146.44 L575.3 146.51 L576.3 146.58 L577.3 146.64 L578.3 146.69 L579.3 146.75 L580.3 146.8 L581.3 146.84 L582.3 146.89 L583.3 146.93 L584.3 146.98 L585.3 147.02 L586.3 147.06 L587.3 147.1 L588.3 147.14 L589.3 147.18 L590.3 147.22 L591.3 147.26 L592.3 147.31 L593.3 147.35 L594.3 147.4 L595.3 147.46 L596.3 147.51 L597.3 147.57 L598.3 147.64 L599.3 147.71 L600.3 147.78 L601.2 147.85" stroke="#8FB032"/><path d="M381.3 96.14 L382.3 96.17 L383.3 96.2 L384.3 96.25 L385.3 96.3 L386.3 96.37 L387.3 96.44 L388.3 96.52 L389.3 96.61 L390.3 96.7 L391.3 96.81 L392.3 96.92 L393.3 97.04 L394.3 97.16 L395.3 97.3 L396.3 97.44 L397.3 97.6 L398.3 97.75 L399.3 97.92 L400.3 98.1 L401.3 98.28 L402.3 98.47 L403.3 98.67 L404.3 98.87 L405.3 99.08 L406.3 99.31 L407.3 99.53 L408.3 99.77 L409.3 100.01 L410.3 100.26 L411.3 100.52 L412.3 100.79 L413.3 101.06 L414.3 101.34 L415.3 101.62 L416.3 101.91 L417.3 102.21 L418.3 102.51 L419.3 102.81 L420.3 103.12 L421.3 103.44 L422.3 103.76 L423.3 104.08 L424.3 104.4 L425.3 104.73 L426.3 105.07 L427.3 105.4 L428.3 105.74 L429.3 106.09 L430.3 106.44 L431.3 106.79 L432.3 107.14 L433.3 107.5 L434.3 107.86 L435.3 108.22 L436.3 108.59 L437.3 108.95 L438.3 109.33 L439.3 109.7 L440.3 110.08 L441.3 110.46 L442.3 110.84 L443.3 111.23 L444.3 111.62 L445.3 112.01 L446.3 112.4 L447.3 112.8 L448.3 113.19 L449.3 113.59 L450.3 114 L451.3 114.4 L452.3 114.81 L453.3 115.22 L454.3 115.63 L455.3 116.05 L456.3 116.46 L457.3 116.88 L458.3 117.3 L459.3 117.72 L460.3 118.14 L461.3 118.57 L462.3 118.99 L463.3 119.42 L464.3 119.85 L465.3 120.28 L466.3 120.71 L467.3 121.14 L468.3 121.57 L469.3 122 L470.3 122.43 L471.3 122.86 L472.3 123.29 L473.3 123.72 L474.3 124.15 L475.3 124.57 L476.3 125 L477.3 125.42 L478.3 125.84 L479.3 126.26 L480.3 126.67 L481.3 127.08 L482.3 127.49 L483.3 127.89 L484.3 128.29 L485.3 128.69 L486.3 129.08 L487.3 129.47 L488.3 129.85 L489.3 130.23 L490.3 130.6 L491.3 130.97 L492.3 131.33 L493.3 131.69 L494.3 132.04 L495.3 132.39 L496.3 132.74 L497.3 133.08 L498.3 133.42 L499.3 133.75 L500.3 134.09 L501.3 134.41 L502.3 134.74 L503.3 135.06 L504.3 135.38 L505.3 135.7 L506.3 136.02 L507.3 136.33 L508.3 136.64 L509.3 136.95 L510.3 137.25 L511.3 137.56 L512.3 137.86 L513.3 138.15 L514.3 138.45 L515.3 138.74 L516.3 139.02 L517.3 139.3 L518.3 139.58 L519.3 139.85 L520.3 140.12 L521.3 140.39 L522.3 140.65 L523.3 140.9 L524.3 141.15 L525.3 141.39 L526.3 141.63 L527.3 141.86 L528.3 142.09 L529.3 142.31 L530.3 142.53 L531.3 142.74 L532.3 142.94 L533.3 143.14 L534.3 143.34 L535.3 143.53 L536.3 143.71 L537.3 143.89 L538.3 144.07 L539.3 144.24 L540.3 144.41 L541.3 144.57 L542.3 144.73 L543.3 144.88 L544.3 145.03 L545.3 145.17 L546.3 145.31 L547.3 145.45 L548.3 145.58 L549.3 145.7 L550.3 145.83 L551.3 145.94 L552.3 146.05 L553.3 146.16 L554.3 146.27 L555.3 146.37 L556.3 146.46 L557.3 146.55 L558.3 146.64 L559.3 146.72 L560.3 146.8 L561.3 146.87 L562.3 146.94 L563.3 147.01 L564.3 147.07 L565.3 147.12 L566.3 147.17 L567.3 147.22 L568.3 147.27 L569.3 147.31 L570.3 147.34 L571.3 147.37 L572.3 147.4 L573.3 147.42 L574.3 147.44 L575.3 147.46 L576.3 147.47 L577.3 147.48 L578.3 147.48 L579.3 147.49 L580.3 147.49 L581.3 147.49 L582.3 147.49 L583.3 147.49 L584.3 147.49 L585.3 147.5 L586.3 147.5 L587.3 147.5 L588.3 147.51 L589.3 147.52 L590.3 147.53 L591.3 147.54 L592.3 147.56 L593.3 147.58 L594.3 147.6 L595.3 147.63 L596.3 147.67 L597.3 147.71 L598.3 147.76 L599.3 147.81 L600.3 147.87 L601.2 147.93" stroke="#EB6235"/><path d="M381.3 73.87 L382.3 73.91 L383.3 73.99 L384.3 74.08 L385.3 74.19 L386.3 74.32 L387.3 74.48 L388.3 74.65 L389.3 74.84 L390.3 75.06 L391.3 75.29 L392.3 75.54 L393.3 75.81 L394.3 76.09 L395.3 76.4 L396.3 76.72 L397.3 77.06 L398.3 77.41 L399.3 77.78 L400.3 78.17 L401.3 78.58 L402.3 79 L403.3 79.44 L404.3 79.89 L405.3 80.36 L406.3 80.84 L407.3 81.34 L408.3 81.85 L409.3 82.38 L410.3 82.92 L411.3 83.47 L412.3 84.04 L413.3 84.62 L414.3 85.21 L415.3 85.81 L416.3 86.43 L417.3 87.06 L418.3 87.69 L419.3 88.34 L420.3 89 L421.3 89.66 L422.3 90.34 L423.3 91.02 L424.3 91.72 L425.3 92.42 L426.3 93.13 L427.3 93.84 L428.3 94.57 L429.3 95.3 L430.3 96.03 L431.3 96.78 L432.3 97.52 L433.3 98.28 L434.3 99.04 L435.3 99.81 L436.3 100.58 L437.3 101.35 L438.3 102.13 L439.3 102.92 L440.3 103.71 L441.3 104.5 L442.3 105.29 L443.3 106.09 L444.3 106.89 L445.3 107.7 L446.3 108.5 L447.3 109.31 L448.3 110.12 L449.3 110.93 L450.3 111.74 L451.3 112.56 L452.3 113.37 L453.3 114.18 L454.3 115 L455.3 115.81 L456.3 116.63 L457.3 117.44 L458.3 118.25 L459.3 119.06 L460.3 119.87 L461.3 120.67 L462.3 121.48 L463.3 122.28 L464.3 123.08 L465.3 123.87 L466.3 124.66 L467.3 125.45 L468.3 126.23 L469.3 127 L470.3 127.77 L471.3 128.54 L472.3 129.3 L473.3 130.05 L474.3 130.79 L475.3 131.52 L476.3 132.25 L477.3 132.97 L478.3 133.68 L479.3 134.38 L480.3 135.07 L481.3 135.75 L482.3 136.41 L483.3 137.07 L484.3 137.72 L485.3 138.35 L486.3 138.97 L487.3 139.58 L488.3 140.17 L489.3 140.75 L490.3 141.32 L491.3 141.87 L492.3 142.41 L493.3 142.93 L494.3 143.44 L495.3 143.94 L496.3 144.43 L497.3 144.9 L498.3 145.36 L499.3 145.81 L500.3 146.25 L501.3 146.67 L502.3 147.08 L503.3 147.48 L504.3 147.87 L505.3 148.25 L506.3 148.61 L507.3 148.97 L508.3 149.31 L509.3 149.64 L510.3 149.96 L511.3 150.27 L512.3 150.56 L513.3 150.85 L514.3 151.12 L515.3 151.38 L516.3 151.63 L517.3 151.87 L518.3 152.09 L519.3 152.31 L520.3 152.51 L521.3 152.7 L522.3 152.88 L523.3 153.04 L524.3 153.19 L525.3 153.33 L526.3 153.46 L527.3 153.58 L528.3 153.68 L529.3 153.77 L530.3 153.85 L531.3 153.93 L532.3 153.99 L533.3 154.03 L534.3 154.07 L535.3 154.1 L536.3 154.12 L537.3 154.13 L538.3 154.14 L539.3 154.13 L540.3 154.12 L541.3 154.09 L542.3 154.06 L543.3 154.02 L544.3 153.98 L545.3 153.92 L546.3 153.86 L547.3 153.8 L548.3 153.72 L549.3 153.65 L550.3 153.56 L551.3 153.47 L552.3 153.37 L553.3 153.27 L554.3 153.17 L555.3 153.06 L556.3 152.94 L557.3 152.83 L558.3 152.7 L559.3 152.58 L560.3 152.45 L561.3 152.32 L562.3 152.18 L563.3 152.05 L564.3 151.91 L565.3 151.76 L566.3 151.62 L567.3 151.48 L568.3 151.33 L569.3 151.18 L570.3 151.04 L571.3 150.89 L572.3 150.74 L573.3 150.59 L574.3 150.44 L575.3 150.29 L576.3 150.14 L577.3 150 L578.3 149.85 L579.3 149.71 L580.3 149.57 L581.3 149.44 L582.3 149.3 L583.3 149.18 L584.3 149.05 L585.3 148.94 L586.3 148.82 L587.3 148.72 L588.3 148.62 L589.3 148.53 L590.3 148.44 L591.3 148.37 L592.3 148.3 L593.3 148.24 L594.3 148.19 L595.3 148.16 L596.3 148.13 L597.3 148.11 L598.3 148.1 L599.3 148.11 L600.3 148.13 L601.2 148.15" stroke="#8778B3"/><path d="M381.3 44.16 L382.3 44.24 L383.3 44.36 L384.3 44.52 L385.3 44.71 L386.3 44.93 L387.3 45.2 L388.3 45.5 L389.3 45.83 L390.3 46.2 L391.3 46.6 L392.3 47.03 L393.3 47.5 L394.3 47.99 L395.3 48.52 L396.3 49.08 L397.3 49.67 L398.3 50.29 L399.3 50.93 L400.3 51.61 L401.3 52.31 L402.3 53.04 L403.3 53.8 L404.3 54.58 L405.3 55.39 L406.3 56.22 L407.3 57.08 L408.3 57.96 L409.3 58.86 L410.3 59.79 L411.3 60.74 L412.3 61.71 L413.3 62.7 L414.3 63.71 L415.3 64.74 L416.3 65.79 L417.3 66.85 L418.3 67.94 L419.3 69.04 L420.3 70.16 L421.3 71.3 L422.3 72.45 L423.3 73.62 L424.3 74.8 L425.3 75.99 L426.3 77.2 L427.3 78.43 L428.3 79.66 L429.3 80.9 L430.3 82.16 L431.3 83.43 L432.3 84.7 L433.3 85.99 L434.3 87.29 L435.3 88.59 L436.3 89.9 L437.3 91.22 L438.3 92.54 L439.3 93.87 L440.3 95.21 L441.3 96.55 L442.3 97.9 L443.3 99.24 L444.3 100.6 L445.3 101.95 L446.3 103.31 L447.3 104.66 L448.3 106.02 L449.3 107.38 L450.3 108.74 L451.3 110.09 L452.3 111.45 L453.3 112.8 L454.3 114.15 L455.3 115.5 L456.3 116.85 L457.3 118.19 L458.3 119.52 L459.3 120.85 L460.3 122.17 L461.3 123.49 L462.3 124.79 L463.3 126.09 L464.3 127.38 L465.3 128.66 L466.3 129.93 L467.3 131.19 L468.3 132.44 L469.3 133.68 L470.3 134.9 L471.3 136.11 L472.3 137.3 L473.3 138.48 L474.3 139.64 L475.3 140.79 L476.3 141.92 L477.3 143.04 L478.3 144.13 L479.3 145.21 L480.3 146.26 L481.3 147.3 L482.3 148.31 L483.3 149.31 L484.3 150.28 L485.3 151.23 L486.3 152.15 L487.3 153.05 L488.3 153.93 L489.3 154.78 L490.3 155.6 L491.3 156.4 L492.3 157.17 L493.3 157.92 L494.3 158.65 L495.3 159.34 L496.3 160.02 L497.3 160.67 L498.3 161.29 L499.3 161.89 L500.3 162.47 L501.3 163.02 L502.3 163.54 L503.3 164.05 L504.3 164.53 L505.3 164.98 L506.3 165.41 L507.3 165.82 L508.3 166.2 L509.3 166.56 L510.3 166.9 L511.3 167.22 L512.3 167.51 L513.3 167.78 L514.3 168.02 L515.3 168.25 L516.3 168.45 L517.3 168.62 L518.3 168.78 L519.3 168.91 L520.3 169.02 L521.3 169.11 L522.3 169.18 L523.3 169.23 L524.3 169.25 L525.3 169.25 L526.3 169.24 L527.3 169.2 L528.3 169.14 L529.3 169.06 L530.3 168.96 L531.3 168.84 L532.3 168.71 L533.3 168.56 L534.3 168.39 L535.3 168.2 L536.3 168 L537.3 167.79 L538.3 167.56 L539.3 167.31 L540.3 167.06 L541.3 166.79 L542.3 166.5 L543.3 166.21 L544.3 165.9 L545.3 165.59 L546.3 165.26 L547.3 164.93 L548.3 164.59 L549.3 164.23 L550.3 163.87 L551.3 163.51 L552.3 163.13 L553.3 162.76 L554.3 162.37 L555.3 161.98 L556.3 161.59 L557.3 161.19 L558.3 160.79 L559.3 160.39 L560.3 159.99 L561.3 159.58 L562.3 159.17 L563.3 158.77 L564.3 158.36 L565.3 157.95 L566.3 157.55 L567.3 157.15 L568.3 156.75 L569.3 156.35 L570.3 155.96 L571.3 155.57 L572.3 155.19 L573.3 154.81 L574.3 154.43 L575.3 154.07 L576.3 153.71 L577.3 153.35 L578.3 153.01 L579.3 152.67 L580.3 152.34 L581.3 152.03 L582.3 151.72 L583.3 151.42 L584.3 151.13 L585.3 150.86 L586.3 150.59 L587.3 150.34 L588.3 150.1 L589.3 149.88 L590.3 149.67 L591.3 149.48 L592.3 149.3 L593.3 149.13 L594.3 148.98 L595.3 148.85 L596.3 148.74 L597.3 148.64 L598.3 148.57 L599.3 148.51 L600.3 148.47 L601.2 148.45" stroke="#C56E1A"/></g><path d="M379.5 37.6 V176.4 M379.5 148.5 H605" stroke="#404040" stroke-width="1.0" fill="none"/><path d="M379.5 175.74 h2.2 M379.5 168.93 h2.2 M379.5 162.12 h2.2 M379.5 155.31 h2.2 M379.5 148.5 h3.2 M379.5 141.69 h2.2 M379.5 134.88 h2.2 M379.5 128.07 h2.2 M379.5 121.26 h2.2 M379.5 114.45 h3.2 M379.5 107.64 h2.2 M379.5 100.83 h2.2 M379.5 94.02 h2.2 M379.5 87.21 h2.2 M379.5 80.4 h3.2 M379.5 73.59 h2.2 M379.5 66.78 h2.2 M379.5 59.97 h2.2 M379.5 53.16 h2.2 M379.5 46.35 h3.2 M379.5 39.54 h2.2" stroke="#404040" stroke-width="1.0" fill="none"/><text transform="translate(377.1 151.5) scale(1 1.13)" text-anchor="end" font-size="8.7">0.00</text><text transform="translate(377.1 117.45) scale(1 1.13)" text-anchor="end" font-size="8.7">0.01</text><text transform="translate(377.1 83.4) scale(1 1.13)" text-anchor="end" font-size="8.7">0.02</text><text transform="translate(377.1 49.35) scale(1 1.13)" text-anchor="end" font-size="8.7">0.03</text><path d="M457.9 148.5 v-3" stroke="#404040" stroke-width="0.8" fill="none"/><text x="458.3" y="156.2" text-anchor="middle" font-family="Liberation Sans" font-style="italic" font-size="9.6">π</text><rect x="453.9" y="158.1" width="6.7" height="0.95" fill="#111"/><text transform="translate(457.9 168.9) scale(1 1.08)" text-anchor="middle" font-size="8.8">6</text><path d="M536.4 148.5 v-3" stroke="#404040" stroke-width="0.8" fill="none"/><text x="536.8" y="156.2" text-anchor="middle" font-family="Liberation Sans" font-style="italic" font-size="9.6">π</text><rect x="532.4" y="158.1" width="6.7" height="0.95" fill="#111"/><text transform="translate(536.4 168.9) scale(1 1.08)" text-anchor="middle" font-size="8.8">3</text><text x="611" y="153.6" font-family="Liberation Serif" font-style="italic" font-size="10.6" dx="1.0">ρ</text><text x="470.4" y="10.8" font-size="8.8"><tspan font-style="italic">v</tspan>=1/4,<tspan font-style="italic" dx="5.1">β</tspan>=3</text><path d="M354.7 20.1 L351.9 24.45 L354.7 28.8" fill="none" stroke="#111" stroke-width="0.95"/><text x="355.1" y="26.9" font-family="Liberation Serif" font-style="italic" font-size="8.9">T</text><path d="M357 18.4 L358.55 16.9 L360.1 18.4" fill="none" stroke="#111" stroke-width="0.9"/><text x="362.3" y="18.5" font-family="Liberation Serif" font-style="italic" font-size="7.4">ρ</text><text x="361.6" y="29.1" font-family="Liberation Serif" font-style="italic" font-size="7.2">ρ</text><path d="M366.8 20.1 L369.6 24.45 L366.8 28.8" fill="none" stroke="#111" stroke-width="0.95"/><text x="369.8" y="21.7" font-family="Liberation Serif" font-style="italic" font-size="7.1">D</text><text x="370.4" y="29.4" font-family="Liberation Serif" font-style="italic" font-size="7.1">β</text><rect x="378" y="23.7" width="4.9" height="0.95" fill="#111"/><path d="M388 20.1 L385.2 24.45 L388 28.8" fill="none" stroke="#111" stroke-width="0.95"/><text x="388.4" y="26.9" font-family="Liberation Serif" font-style="italic" font-size="8.9">T</text><path d="M390.3 18.4 L391.85 16.9 L393.4 18.4" fill="none" stroke="#111" stroke-width="0.9"/><text x="395.6" y="18.8" font-family="Liberation Serif" font-style="italic" font-size="7.4">t</text><text x="394.9" y="28.8" font-family="Liberation Serif" font-style="italic" font-size="7.2">t</text><path d="M398 20.1 L400.8 24.45 L398 28.8" fill="none" stroke="#111" stroke-width="0.95"/><text x="401" y="21.7" font-family="Liberation Serif" font-style="italic" font-size="7.1">D</text><text x="401.6" y="29.4" font-family="Liberation Serif" font-style="italic" font-size="7.1">β</text><rect x="621.9" y="34.4" width="62.2" height="109.7" fill="#fff" stroke="#2a2a2a" stroke-width="1.3"/><path d="M629.1 47.1 h14.8" stroke="#5E81B5" stroke-width="1.3"/><text x="648.9" y="49.9" font-size="8.7"><tspan font-family="Liberation Serif" font-style="italic" font-size="9.4">ξ</tspan><tspan dx="0.6">=−1</tspan></text><path d="M629.1 63.9 h14.8" stroke="#E19C24" stroke-width="1.3"/><text x="648.9" y="66.7" font-size="8.7"><tspan font-family="Liberation Serif" font-style="italic" font-size="9.4">ξ</tspan><tspan dx="0.6">=−1/2</tspan></text><path d="M629.1 80.7 h14.8" stroke="#8FB032" stroke-width="1.3"/><text x="648.9" y="83.5" font-size="8.7"><tspan font-family="Liberation Serif" font-style="italic" font-size="9.4">ξ</tspan><tspan dx="0.6">=0</tspan></text><path d="M629.1 97.5 h14.8" stroke="#EB6235" stroke-width="1.3"/><text x="648.9" y="100.3" font-size="8.7"><tspan font-family="Liberation Serif" font-style="italic" font-size="9.4">ξ</tspan><tspan dx="0.6">=1/8</tspan></text><path d="M629.1 114.3 h14.8" stroke="#8778B3" stroke-width="1.3"/><text x="648.9" y="117.1" font-size="8.7"><tspan font-family="Liberation Serif" font-style="italic" font-size="9.4">ξ</tspan><tspan dx="0.6">=1/2</tspan></text><path d="M629.1 131.1 h14.8" stroke="#C56E1A" stroke-width="1.3"/><text x="648.9" y="133.9" font-size="8.7"><tspan font-family="Liberation Serif" font-style="italic" font-size="9.4">ξ</tspan><tspan dx="0.6">=1</tspan></text><g fill="none" stroke-width="1.45" stroke-linejoin="round" stroke-linecap="round"><path d="M29.1 303.03 L30.1 303.03 L31.1 303.03 L32.1 303.03 L33.1 303.03 L34.1 303.03 L35.1 303.03 L36.1 303.03 L37.1 303.03 L38.1 303.02 L39.1 303.02 L40.1 303.01 L41.1 303.01 L42.1 303 L43.1 303 L44.1 302.99 L45.1 302.98 L46.1 302.97 L47.1 302.96 L48.1 302.95 L49.1 302.94 L50.1 302.93 L51.1 302.92 L52.1 302.91 L53.1 302.9 L54.1 302.88 L55.1 302.87 L56.1 302.86 L57.1 302.84 L58.1 302.82 L59.1 302.81 L60.1 302.79 L61.1 302.77 L62.1 302.75 L63.1 302.74 L64.1 302.72 L65.1 302.7 L66.1 302.68 L67.1 302.65 L68.1 302.63 L69.1 302.61 L70.1 302.59 L71.1 302.57 L72.1 302.55 L73.1 302.53 L74.1 302.51 L75.1 302.49 L76.1 302.48 L77.1 302.46 L78.1 302.44 L79.1 302.43 L80.1 302.41 L81.1 302.4 L82.1 302.39 L83.1 302.38 L84.1 302.37 L85.1 302.37 L86.1 302.36 L87.1 302.36 L88.1 302.36 L89.1 302.36 L90.1 302.37 L91.1 302.37 L92.1 302.38 L93.1 302.39 L94.1 302.41 L95.1 302.42 L96.1 302.44 L97.1 302.47 L98.1 302.49 L99.1 302.52 L100.1 302.56 L101.1 302.59 L102.1 302.63 L103.1 302.68 L104.1 302.72 L105.1 302.77 L106.1 302.83 L107.1 302.89 L108.1 302.95 L109.1 303.02 L110.1 303.09 L111.1 303.17 L112.1 303.25 L113.1 303.33 L114.1 303.43 L115.1 303.52 L116.1 303.62 L117.1 303.73 L118.1 303.84 L119.1 303.96 L120.1 304.08 L121.1 304.21 L122.1 304.34 L123.1 304.48 L124.1 304.63 L125.1 304.78 L126.1 304.94 L127.1 305.1 L128.1 305.27 L129.1 305.45 L130.1 305.63 L131.1 305.82 L132.1 306.02 L133.1 306.22 L134.1 306.43 L135.1 306.65 L136.1 306.88 L137.1 307.11 L138.1 307.35 L139.1 307.6 L140.1 307.85 L141.1 308.11 L142.1 308.38 L143.1 308.66 L144.1 308.95 L145.1 309.25 L146.1 309.55 L147.1 309.86 L148.1 310.18 L149.1 310.51 L150.1 310.85 L151.1 311.19 L152.1 311.55 L153.1 311.91 L154.1 312.28 L155.1 312.66 L156.1 313.04 L157.1 313.43 L158.1 313.83 L159.1 314.24 L160.1 314.65 L161.1 315.07 L162.1 315.5 L163.1 315.93 L164.1 316.37 L165.1 316.82 L166.1 317.27 L167.1 317.73 L168.1 318.19 L169.1 318.66 L170.1 319.14 L171.1 319.62 L172.1 320.1 L173.1 320.6 L174.1 321.09 L175.1 321.59 L176.1 322.1 L177.1 322.61 L178.1 323.12 L179.1 323.64 L180.1 324.16 L181.1 324.69 L182.1 325.22 L183.1 325.76 L184.1 326.29 L185.1 326.84 L186.1 327.38 L187.1 327.93 L188.1 328.48 L189.1 329.03 L190.1 329.59 L191.1 330.15 L192.1 330.71 L193.1 331.28 L194.1 331.84 L195.1 332.41 L196.1 332.98 L197.1 333.55 L198.1 334.13 L199.1 334.7 L200.1 335.28 L201.1 335.86 L202.1 336.43 L203.1 337.01 L204.1 337.59 L205.1 338.17 L206.1 338.76 L207.1 339.33 L208.1 339.91 L209.1 340.49 L210.1 341.06 L211.1 341.64 L212.1 342.21 L213.1 342.77 L214.1 343.33 L215.1 343.89 L216.1 344.44 L217.1 344.99 L218.1 345.53 L219.1 346.06 L220.1 346.59 L221.1 347.11 L222.1 347.62 L223.1 348.12 L224.1 348.62 L225.1 349.1 L226.1 349.58 L227.1 350.04 L228.1 350.5 L229.1 350.94 L230.1 351.37 L231.1 351.79 L232.1 352.2 L233.1 352.59 L234.1 352.97 L235.1 353.33 L236.1 353.68 L237.1 354.02 L238.1 354.34 L239.1 354.64 L240.1 354.93 L241.1 355.2 L242.1 355.45 L243.1 355.69 L244.1 355.9 L245.1 356.1 L246.1 356.28 L247.1 356.44 L248.1 356.58 L249.1 356.69" stroke="#5E81B5"/><path d="M29.1 287.39 L30.1 287.4 L31.1 287.42 L32.1 287.44 L33.1 287.47 L34.1 287.51 L35.1 287.55 L36.1 287.6 L37.1 287.65 L38.1 287.71 L39.1 287.77 L40.1 287.84 L41.1 287.91 L42.1 287.99 L43.1 288.07 L44.1 288.16 L45.1 288.25 L46.1 288.35 L47.1 288.45 L48.1 288.56 L49.1 288.67 L50.1 288.78 L51.1 288.9 L52.1 289.02 L53.1 289.15 L54.1 289.28 L55.1 289.41 L56.1 289.55 L57.1 289.69 L58.1 289.83 L59.1 289.98 L60.1 290.13 L61.1 290.28 L62.1 290.44 L63.1 290.59 L64.1 290.76 L65.1 290.92 L66.1 291.09 L67.1 291.26 L68.1 291.44 L69.1 291.62 L70.1 291.8 L71.1 291.99 L72.1 292.18 L73.1 292.38 L74.1 292.58 L75.1 292.79 L76.1 293 L77.1 293.22 L78.1 293.44 L79.1 293.67 L80.1 293.9 L81.1 294.14 L82.1 294.38 L83.1 294.63 L84.1 294.88 L85.1 295.14 L86.1 295.41 L87.1 295.67 L88.1 295.95 L89.1 296.23 L90.1 296.51 L91.1 296.8 L92.1 297.09 L93.1 297.39 L94.1 297.69 L95.1 297.99 L96.1 298.3 L97.1 298.62 L98.1 298.93 L99.1 299.26 L100.1 299.58 L101.1 299.91 L102.1 300.24 L103.1 300.58 L104.1 300.92 L105.1 301.27 L106.1 301.61 L107.1 301.96 L108.1 302.32 L109.1 302.68 L110.1 303.04 L111.1 303.4 L112.1 303.76 L113.1 304.13 L114.1 304.5 L115.1 304.88 L116.1 305.25 L117.1 305.63 L118.1 306.02 L119.1 306.4 L120.1 306.78 L121.1 307.17 L122.1 307.56 L123.1 307.95 L124.1 308.35 L125.1 308.74 L126.1 309.14 L127.1 309.54 L128.1 309.94 L129.1 310.34 L130.1 310.75 L131.1 311.16 L132.1 311.57 L133.1 311.98 L134.1 312.39 L135.1 312.81 L136.1 313.23 L137.1 313.65 L138.1 314.08 L139.1 314.5 L140.1 314.93 L141.1 315.37 L142.1 315.8 L143.1 316.24 L144.1 316.68 L145.1 317.12 L146.1 317.57 L147.1 318.02 L148.1 318.47 L149.1 318.93 L150.1 319.39 L151.1 319.85 L152.1 320.32 L153.1 320.79 L154.1 321.26 L155.1 321.73 L156.1 322.21 L157.1 322.68 L158.1 323.16 L159.1 323.64 L160.1 324.12 L161.1 324.61 L162.1 325.09 L163.1 325.58 L164.1 326.07 L165.1 326.56 L166.1 327.05 L167.1 327.54 L168.1 328.03 L169.1 328.52 L170.1 329.01 L171.1 329.5 L172.1 329.99 L173.1 330.47 L174.1 330.96 L175.1 331.45 L176.1 331.94 L177.1 332.42 L178.1 332.91 L179.1 333.39 L180.1 333.87 L181.1 334.35 L182.1 334.83 L183.1 335.31 L184.1 335.78 L185.1 336.26 L186.1 336.73 L187.1 337.19 L188.1 337.66 L189.1 338.12 L190.1 338.58 L191.1 339.04 L192.1 339.5 L193.1 339.95 L194.1 340.4 L195.1 340.85 L196.1 341.3 L197.1 341.74 L198.1 342.18 L199.1 342.62 L200.1 343.05 L201.1 343.49 L202.1 343.92 L203.1 344.34 L204.1 344.77 L205.1 345.19 L206.1 345.61 L207.1 346.02 L208.1 346.43 L209.1 346.83 L210.1 347.24 L211.1 347.63 L212.1 348.02 L213.1 348.41 L214.1 348.79 L215.1 349.16 L216.1 349.53 L217.1 349.89 L218.1 350.25 L219.1 350.6 L220.1 350.94 L221.1 351.28 L222.1 351.6 L223.1 351.93 L224.1 352.24 L225.1 352.54 L226.1 352.84 L227.1 353.13 L228.1 353.41 L229.1 353.68 L230.1 353.94 L231.1 354.2 L232.1 354.44 L233.1 354.68 L234.1 354.9 L235.1 355.11 L236.1 355.32 L237.1 355.51 L238.1 355.69 L239.1 355.87 L240.1 356.03 L241.1 356.17 L242.1 356.31 L243.1 356.44 L244.1 356.55 L245.1 356.65 L246.1 356.74 L247.1 356.82 L248.1 356.88 L249.1 356.93" stroke="#E19C24"/><path d="M29.1 271.74 L30.1 271.77 L31.1 271.8 L32.1 271.85 L33.1 271.91 L34.1 271.98 L35.1 272.07 L36.1 272.16 L37.1 272.27 L38.1 272.39 L39.1 272.52 L40.1 272.66 L41.1 272.81 L42.1 272.98 L43.1 273.15 L44.1 273.33 L45.1 273.53 L46.1 273.73 L47.1 273.94 L48.1 274.16 L49.1 274.39 L50.1 274.63 L51.1 274.88 L52.1 275.14 L53.1 275.4 L54.1 275.67 L55.1 275.95 L56.1 276.24 L57.1 276.54 L58.1 276.84 L59.1 277.15 L60.1 277.47 L61.1 277.79 L62.1 278.12 L63.1 278.45 L64.1 278.8 L65.1 279.15 L66.1 279.5 L67.1 279.87 L68.1 280.24 L69.1 280.62 L70.1 281.01 L71.1 281.41 L72.1 281.82 L73.1 282.23 L74.1 282.65 L75.1 283.08 L76.1 283.52 L77.1 283.98 L78.1 284.44 L79.1 284.9 L80.1 285.38 L81.1 285.87 L82.1 286.37 L83.1 286.88 L84.1 287.39 L85.1 287.92 L86.1 288.45 L87.1 288.99 L88.1 289.53 L89.1 290.09 L90.1 290.65 L91.1 291.22 L92.1 291.8 L93.1 292.38 L94.1 292.97 L95.1 293.56 L96.1 294.16 L97.1 294.76 L98.1 295.37 L99.1 295.99 L100.1 296.61 L101.1 297.23 L102.1 297.86 L103.1 298.49 L104.1 299.12 L105.1 299.76 L106.1 300.4 L107.1 301.04 L108.1 301.69 L109.1 302.33 L110.1 302.98 L111.1 303.63 L112.1 304.28 L113.1 304.93 L114.1 305.58 L115.1 306.23 L116.1 306.89 L117.1 307.54 L118.1 308.19 L119.1 308.84 L120.1 309.49 L121.1 310.14 L122.1 310.78 L123.1 311.43 L124.1 312.07 L125.1 312.71 L126.1 313.35 L127.1 313.98 L128.1 314.61 L129.1 315.24 L130.1 315.87 L131.1 316.5 L132.1 317.12 L133.1 317.74 L134.1 318.36 L135.1 318.97 L136.1 319.58 L137.1 320.2 L138.1 320.8 L139.1 321.41 L140.1 322.01 L141.1 322.62 L142.1 323.22 L143.1 323.81 L144.1 324.41 L145.1 325 L146.1 325.59 L147.1 326.18 L148.1 326.77 L149.1 327.35 L150.1 327.93 L151.1 328.51 L152.1 329.09 L153.1 329.66 L154.1 330.23 L155.1 330.8 L156.1 331.37 L157.1 331.93 L158.1 332.49 L159.1 333.05 L160.1 333.6 L161.1 334.14 L162.1 334.69 L163.1 335.23 L164.1 335.76 L165.1 336.29 L166.1 336.82 L167.1 337.34 L168.1 337.86 L169.1 338.37 L170.1 338.87 L171.1 339.37 L172.1 339.87 L173.1 340.35 L174.1 340.84 L175.1 341.31 L176.1 341.78 L177.1 342.24 L178.1 342.7 L179.1 343.14 L180.1 343.59 L181.1 344.02 L182.1 344.44 L183.1 344.86 L184.1 345.27 L185.1 345.68 L186.1 346.07 L187.1 346.46 L188.1 346.84 L189.1 347.21 L190.1 347.57 L191.1 347.93 L192.1 348.28 L193.1 348.62 L194.1 348.96 L195.1 349.29 L196.1 349.61 L197.1 349.93 L198.1 350.23 L199.1 350.54 L200.1 350.83 L201.1 351.12 L202.1 351.4 L203.1 351.67 L204.1 351.94 L205.1 352.2 L206.1 352.46 L207.1 352.7 L208.1 352.95 L209.1 353.18 L210.1 353.41 L211.1 353.63 L212.1 353.84 L213.1 354.04 L214.1 354.24 L215.1 354.44 L216.1 354.62 L217.1 354.8 L218.1 354.97 L219.1 355.14 L220.1 355.29 L221.1 355.45 L222.1 355.59 L223.1 355.73 L224.1 355.86 L225.1 355.99 L226.1 356.11 L227.1 356.22 L228.1 356.32 L229.1 356.42 L230.1 356.52 L231.1 356.61 L232.1 356.69 L233.1 356.76 L234.1 356.83 L235.1 356.89 L236.1 356.95 L237.1 357 L238.1 357.05 L239.1 357.09 L240.1 357.12 L241.1 357.15 L242.1 357.17 L243.1 357.19 L244.1 357.2 L245.1 357.2 L246.1 357.2 L247.1 357.2 L248.1 357.18 L249.1 357.17" stroke="#8FB032"/><path d="M29.1 267.83 L30.1 267.86 L31.1 267.9 L32.1 267.95 L33.1 268.02 L34.1 268.1 L35.1 268.2 L36.1 268.31 L37.1 268.43 L38.1 268.56 L39.1 268.71 L40.1 268.87 L41.1 269.04 L42.1 269.22 L43.1 269.42 L44.1 269.63 L45.1 269.85 L46.1 270.07 L47.1 270.31 L48.1 270.56 L49.1 270.83 L50.1 271.1 L51.1 271.38 L52.1 271.67 L53.1 271.97 L54.1 272.27 L55.1 272.59 L56.1 272.92 L57.1 273.25 L58.1 273.59 L59.1 273.94 L60.1 274.3 L61.1 274.67 L62.1 275.04 L63.1 275.42 L64.1 275.81 L65.1 276.2 L66.1 276.61 L67.1 277.02 L68.1 277.44 L69.1 277.88 L70.1 278.32 L71.1 278.76 L72.1 279.22 L73.1 279.69 L74.1 280.17 L75.1 280.66 L76.1 281.16 L77.1 281.66 L78.1 282.18 L79.1 282.71 L80.1 283.25 L81.1 283.81 L82.1 284.37 L83.1 284.94 L84.1 285.52 L85.1 286.11 L86.1 286.71 L87.1 287.32 L88.1 287.93 L89.1 288.56 L90.1 289.19 L91.1 289.83 L92.1 290.47 L93.1 291.13 L94.1 291.79 L95.1 292.45 L96.1 293.12 L97.1 293.8 L98.1 294.48 L99.1 295.17 L100.1 295.86 L101.1 296.56 L102.1 297.26 L103.1 297.96 L104.1 298.67 L105.1 299.38 L106.1 300.09 L107.1 300.81 L108.1 301.53 L109.1 302.25 L110.1 302.97 L111.1 303.69 L112.1 304.41 L113.1 305.13 L114.1 305.85 L115.1 306.57 L116.1 307.3 L117.1 308.02 L118.1 308.73 L119.1 309.45 L120.1 310.17 L121.1 310.88 L122.1 311.59 L123.1 312.3 L124.1 313 L125.1 313.7 L126.1 314.4 L127.1 315.09 L128.1 315.78 L129.1 316.47 L130.1 317.15 L131.1 317.83 L132.1 318.51 L133.1 319.18 L134.1 319.85 L135.1 320.51 L136.1 321.17 L137.1 321.83 L138.1 322.49 L139.1 323.14 L140.1 323.78 L141.1 324.43 L142.1 325.07 L143.1 325.71 L144.1 326.34 L145.1 326.97 L146.1 327.6 L147.1 328.22 L148.1 328.84 L149.1 329.46 L150.1 330.07 L151.1 330.68 L152.1 331.28 L153.1 331.88 L154.1 332.48 L155.1 333.07 L156.1 333.66 L157.1 334.24 L158.1 334.82 L159.1 335.4 L160.1 335.97 L161.1 336.53 L162.1 337.09 L163.1 337.64 L164.1 338.19 L165.1 338.73 L166.1 339.26 L167.1 339.79 L168.1 340.32 L169.1 340.83 L170.1 341.34 L171.1 341.84 L172.1 342.34 L173.1 342.82 L174.1 343.3 L175.1 343.78 L176.1 344.24 L177.1 344.7 L178.1 345.14 L179.1 345.58 L180.1 346.01 L181.1 346.43 L182.1 346.85 L183.1 347.25 L184.1 347.65 L185.1 348.03 L186.1 348.41 L187.1 348.77 L188.1 349.13 L189.1 349.48 L190.1 349.82 L191.1 350.15 L192.1 350.48 L193.1 350.79 L194.1 351.1 L195.1 351.4 L196.1 351.69 L197.1 351.97 L198.1 352.25 L199.1 352.51 L200.1 352.77 L201.1 353.02 L202.1 353.27 L203.1 353.5 L204.1 353.73 L205.1 353.96 L206.1 354.17 L207.1 354.38 L208.1 354.57 L209.1 354.77 L210.1 354.95 L211.1 355.12 L212.1 355.29 L213.1 355.45 L214.1 355.61 L215.1 355.75 L216.1 355.89 L217.1 356.03 L218.1 356.15 L219.1 356.27 L220.1 356.38 L221.1 356.49 L222.1 356.59 L223.1 356.68 L224.1 356.77 L225.1 356.85 L226.1 356.92 L227.1 356.99 L228.1 357.05 L229.1 357.11 L230.1 357.16 L231.1 357.21 L232.1 357.25 L233.1 357.28 L234.1 357.31 L235.1 357.34 L236.1 357.36 L237.1 357.38 L238.1 357.39 L239.1 357.39 L240.1 357.4 L241.1 357.39 L242.1 357.39 L243.1 357.38 L244.1 357.36 L245.1 357.34 L246.1 357.32 L247.1 357.29 L248.1 357.26 L249.1 357.23" stroke="#EB6235"/><path d="M29.1 256.1 L30.1 256.13 L31.1 256.18 L32.1 256.26 L33.1 256.35 L34.1 256.46 L35.1 256.58 L36.1 256.73 L37.1 256.89 L38.1 257.08 L39.1 257.27 L40.1 257.49 L41.1 257.72 L42.1 257.97 L43.1 258.23 L44.1 258.51 L45.1 258.8 L46.1 259.11 L47.1 259.43 L48.1 259.77 L49.1 260.12 L50.1 260.48 L51.1 260.86 L52.1 261.25 L53.1 261.65 L54.1 262.07 L55.1 262.5 L56.1 262.94 L57.1 263.39 L58.1 263.85 L59.1 264.32 L60.1 264.8 L61.1 265.3 L62.1 265.8 L63.1 266.31 L64.1 266.84 L65.1 267.37 L66.1 267.92 L67.1 268.48 L68.1 269.05 L69.1 269.63 L70.1 270.22 L71.1 270.83 L72.1 271.45 L73.1 272.08 L74.1 272.72 L75.1 273.38 L76.1 274.05 L77.1 274.73 L78.1 275.43 L79.1 276.14 L80.1 276.87 L81.1 277.61 L82.1 278.36 L83.1 279.12 L84.1 279.9 L85.1 280.69 L86.1 281.49 L87.1 282.3 L88.1 283.12 L89.1 283.95 L90.1 284.79 L91.1 285.64 L92.1 286.5 L93.1 287.37 L94.1 288.25 L95.1 289.13 L96.1 290.02 L97.1 290.91 L98.1 291.81 L99.1 292.72 L100.1 293.63 L101.1 294.55 L102.1 295.47 L103.1 296.39 L104.1 297.32 L105.1 298.25 L106.1 299.18 L107.1 300.12 L108.1 301.05 L109.1 301.99 L110.1 302.92 L111.1 303.86 L112.1 304.79 L113.1 305.73 L114.1 306.66 L115.1 307.59 L116.1 308.52 L117.1 309.44 L118.1 310.37 L119.1 311.28 L120.1 312.2 L121.1 313.1 L122.1 314.01 L123.1 314.9 L124.1 315.79 L125.1 316.68 L126.1 317.55 L127.1 318.42 L128.1 319.29 L129.1 320.14 L130.1 320.99 L131.1 321.83 L132.1 322.67 L133.1 323.5 L134.1 324.32 L135.1 325.13 L136.1 325.94 L137.1 326.74 L138.1 327.53 L139.1 328.32 L140.1 329.1 L141.1 329.87 L142.1 330.63 L143.1 331.39 L144.1 332.14 L145.1 332.88 L146.1 333.61 L147.1 334.34 L148.1 335.06 L149.1 335.77 L150.1 336.47 L151.1 337.17 L152.1 337.86 L153.1 338.54 L154.1 339.21 L155.1 339.88 L156.1 340.53 L157.1 341.18 L158.1 341.82 L159.1 342.45 L160.1 343.07 L161.1 343.68 L162.1 344.28 L163.1 344.88 L164.1 345.46 L165.1 346.03 L166.1 346.6 L167.1 347.15 L168.1 347.69 L169.1 348.22 L170.1 348.74 L171.1 349.25 L172.1 349.75 L173.1 350.23 L174.1 350.71 L175.1 351.17 L176.1 351.62 L177.1 352.06 L178.1 352.48 L179.1 352.9 L180.1 353.3 L181.1 353.68 L182.1 354.06 L183.1 354.42 L184.1 354.76 L185.1 355.09 L186.1 355.41 L187.1 355.72 L188.1 356.02 L189.1 356.3 L190.1 356.57 L191.1 356.82 L192.1 357.07 L193.1 357.3 L194.1 357.52 L195.1 357.73 L196.1 357.93 L197.1 358.11 L198.1 358.29 L199.1 358.45 L200.1 358.61 L201.1 358.75 L202.1 358.88 L203.1 359 L204.1 359.11 L205.1 359.22 L206.1 359.31 L207.1 359.39 L208.1 359.46 L209.1 359.52 L210.1 359.58 L211.1 359.62 L212.1 359.65 L213.1 359.68 L214.1 359.7 L215.1 359.71 L216.1 359.71 L217.1 359.7 L218.1 359.69 L219.1 359.67 L220.1 359.65 L221.1 359.61 L222.1 359.58 L223.1 359.53 L224.1 359.48 L225.1 359.43 L226.1 359.37 L227.1 359.31 L228.1 359.24 L229.1 359.17 L230.1 359.09 L231.1 359.01 L232.1 358.93 L233.1 358.85 L234.1 358.76 L235.1 358.68 L236.1 358.59 L237.1 358.5 L238.1 358.4 L239.1 358.31 L240.1 358.22 L241.1 358.12 L242.1 358.03 L243.1 357.94 L244.1 357.84 L245.1 357.75 L246.1 357.66 L247.1 357.58 L248.1 357.49 L249.1 357.4" stroke="#8778B3"/><path d="M29.1 240.45 L30.1 240.5 L31.1 240.57 L32.1 240.66 L33.1 240.78 L34.1 240.93 L35.1 241.1 L36.1 241.3 L37.1 241.52 L38.1 241.76 L39.1 242.02 L40.1 242.31 L41.1 242.62 L42.1 242.95 L43.1 243.31 L44.1 243.68 L45.1 244.07 L46.1 244.49 L47.1 244.92 L48.1 245.37 L49.1 245.84 L50.1 246.33 L51.1 246.84 L52.1 247.37 L53.1 247.91 L54.1 248.47 L55.1 249.04 L56.1 249.63 L57.1 250.24 L58.1 250.86 L59.1 251.49 L60.1 252.14 L61.1 252.8 L62.1 253.48 L63.1 254.17 L64.1 254.88 L65.1 255.6 L66.1 256.33 L67.1 257.09 L68.1 257.85 L69.1 258.63 L70.1 259.43 L71.1 260.25 L72.1 261.08 L73.1 261.93 L74.1 262.79 L75.1 263.67 L76.1 264.57 L77.1 265.49 L78.1 266.43 L79.1 267.38 L80.1 268.35 L81.1 269.34 L82.1 270.35 L83.1 271.37 L84.1 272.41 L85.1 273.46 L86.1 274.53 L87.1 275.61 L88.1 276.71 L89.1 277.82 L90.1 278.94 L91.1 280.07 L92.1 281.21 L93.1 282.36 L94.1 283.52 L95.1 284.7 L96.1 285.87 L97.1 287.06 L98.1 288.25 L99.1 289.45 L100.1 290.66 L101.1 291.87 L102.1 293.08 L103.1 294.3 L104.1 295.52 L105.1 296.74 L106.1 297.97 L107.1 299.19 L108.1 300.42 L109.1 301.64 L110.1 302.87 L111.1 304.09 L112.1 305.31 L113.1 306.53 L114.1 307.74 L115.1 308.95 L116.1 310.15 L117.1 311.35 L118.1 312.54 L119.1 313.72 L120.1 314.9 L121.1 316.07 L122.1 317.23 L123.1 318.38 L124.1 319.51 L125.1 320.64 L126.1 321.76 L127.1 322.86 L128.1 323.96 L129.1 325.04 L130.1 326.11 L131.1 327.17 L132.1 328.22 L133.1 329.26 L134.1 330.28 L135.1 331.29 L136.1 332.29 L137.1 333.28 L138.1 334.26 L139.1 335.23 L140.1 336.18 L141.1 337.12 L142.1 338.05 L143.1 338.96 L144.1 339.86 L145.1 340.76 L146.1 341.63 L147.1 342.5 L148.1 343.35 L149.1 344.19 L150.1 345.02 L151.1 345.83 L152.1 346.63 L153.1 347.42 L154.1 348.19 L155.1 348.95 L156.1 349.69 L157.1 350.43 L158.1 351.15 L159.1 351.85 L160.1 352.54 L161.1 353.22 L162.1 353.88 L163.1 354.52 L164.1 355.15 L165.1 355.77 L166.1 356.37 L167.1 356.95 L168.1 357.52 L169.1 358.07 L170.1 358.61 L171.1 359.13 L172.1 359.63 L173.1 360.11 L174.1 360.58 L175.1 361.03 L176.1 361.46 L177.1 361.87 L178.1 362.27 L179.1 362.65 L180.1 363.01 L181.1 363.35 L182.1 363.67 L183.1 363.97 L184.1 364.25 L185.1 364.51 L186.1 364.76 L187.1 364.99 L188.1 365.19 L189.1 365.38 L190.1 365.56 L191.1 365.71 L192.1 365.85 L193.1 365.97 L194.1 366.08 L195.1 366.17 L196.1 366.24 L197.1 366.3 L198.1 366.34 L199.1 366.37 L200.1 366.38 L201.1 366.38 L202.1 366.36 L203.1 366.33 L204.1 366.29 L205.1 366.23 L206.1 366.16 L207.1 366.07 L208.1 365.98 L209.1 365.87 L210.1 365.75 L211.1 365.61 L212.1 365.47 L213.1 365.32 L214.1 365.15 L215.1 364.98 L216.1 364.8 L217.1 364.61 L218.1 364.41 L219.1 364.21 L220.1 364 L221.1 363.78 L222.1 363.56 L223.1 363.33 L224.1 363.1 L225.1 362.87 L226.1 362.63 L227.1 362.39 L228.1 362.15 L229.1 361.91 L230.1 361.67 L231.1 361.42 L232.1 361.18 L233.1 360.94 L234.1 360.7 L235.1 360.46 L236.1 360.22 L237.1 359.99 L238.1 359.76 L239.1 359.53 L240.1 359.31 L241.1 359.1 L242.1 358.89 L243.1 358.69 L244.1 358.49 L245.1 358.3 L246.1 358.12 L247.1 357.95 L248.1 357.79 L249.1 357.64" stroke="#C56E1A"/></g><path d="M27.5 233.5 V372.5 M27.5 357.5 H252.9" stroke="#404040" stroke-width="1.0" fill="none"/><path d="M27.5 365.8 h2.2 M27.5 357.5 h3.2 M27.5 349.2 h2.2 M27.5 340.9 h2.2 M27.5 332.6 h2.2 M27.5 324.3 h3.2 M27.5 316 h2.2 M27.5 307.7 h2.2 M27.5 299.4 h2.2 M27.5 291.1 h3.2 M27.5 282.8 h2.2 M27.5 274.5 h2.2 M27.5 266.2 h2.2 M27.5 257.9 h3.2 M27.5 249.6 h2.2 M27.5 241.3 h2.2" stroke="#404040" stroke-width="1.0" fill="none"/><text transform="translate(25.1 360.5) scale(1 1.13)" text-anchor="end" font-size="8.7">0.0</text><text transform="translate(25.1 327.3) scale(1 1.13)" text-anchor="end" font-size="8.7">0.2</text><text transform="translate(25.1 294.1) scale(1 1.13)" text-anchor="end" font-size="8.7">0.4</text><text transform="translate(25.1 260.9) scale(1 1.13)" text-anchor="end" font-size="8.7">0.6</text><path d="M105.8 357.5 v-3" stroke="#404040" stroke-width="0.8" fill="none"/><text x="106.2" y="365.2" text-anchor="middle" font-family="Liberation Sans" font-style="italic" font-size="9.6">π</text><rect x="101.8" y="367.1" width="6.7" height="0.95" fill="#111"/><text transform="translate(105.8 377.9) scale(1 1.08)" text-anchor="middle" font-size="8.8">6</text><path d="M184.1 357.5 v-3" stroke="#404040" stroke-width="0.8" fill="none"/><text x="184.5" y="365.2" text-anchor="middle" font-family="Liberation Sans" font-style="italic" font-size="9.6">π</text><rect x="180.1" y="367.1" width="6.7" height="0.95" fill="#111"/><text transform="translate(184.1 377.9) scale(1 1.08)" text-anchor="middle" font-size="8.8">3</text><text x="258.9" y="362.6" font-family="Liberation Serif" font-style="italic" font-size="10.6" dx="1.0">ρ</text><text x="118.2" y="206.8" font-size="8.8"><tspan font-style="italic">v</tspan>=1/2,<tspan font-style="italic" dx="5.1">β</tspan>=1</text><path d="M2.7 216 L-0.1 220.35 L2.7 224.7" fill="none" stroke="#111" stroke-width="0.95"/><text x="3.1" y="222.8" font-family="Liberation Serif" font-style="italic" font-size="8.9">T</text><path d="M5 214.3 L6.55 212.8 L8.1 214.3" fill="none" stroke="#111" stroke-width="0.9"/><text x="10.3" y="214.4" font-family="Liberation Serif" font-style="italic" font-size="7.4">ρ</text><text x="9.6" y="225" font-family="Liberation Serif" font-style="italic" font-size="7.2">ρ</text><path d="M14.8 216 L17.6 220.35 L14.8 224.7" fill="none" stroke="#111" stroke-width="0.95"/><text x="17.8" y="217.6" font-family="Liberation Serif" font-style="italic" font-size="7.1">D</text><text x="18.4" y="225.3" font-family="Liberation Serif" font-style="italic" font-size="7.1">β</text><rect x="26" y="219.6" width="4.9" height="0.95" fill="#111"/><path d="M36 216 L33.2 220.35 L36 224.7" fill="none" stroke="#111" stroke-width="0.95"/><text x="36.4" y="222.8" font-family="Liberation Serif" font-style="italic" font-size="8.9">T</text><path d="M38.3 214.3 L39.85 212.8 L41.4 214.3" fill="none" stroke="#111" stroke-width="0.9"/><text x="43.6" y="214.7" font-family="Liberation Serif" font-style="italic" font-size="7.4">t</text><text x="42.9" y="224.7" font-family="Liberation Serif" font-style="italic" font-size="7.2">t</text><path d="M46 216 L48.8 220.35 L46 224.7" fill="none" stroke="#111" stroke-width="0.95"/><text x="49" y="217.6" font-family="Liberation Serif" font-style="italic" font-size="7.1">D</text><text x="49.6" y="225.3" font-family="Liberation Serif" font-style="italic" font-size="7.1">β</text><rect x="269.8" y="233.6" width="62.3" height="109.9" fill="#fff" stroke="#2a2a2a" stroke-width="1.3"/><path d="M277 246.2 h14.8" stroke="#5E81B5" stroke-width="1.3"/><text x="296.8" y="249" font-size="8.7"><tspan font-family="Liberation Serif" font-style="italic" font-size="9.4">ξ</tspan><tspan dx="0.6">=−1</tspan></text><path d="M277 263 h14.8" stroke="#E19C24" stroke-width="1.3"/><text x="296.8" y="265.8" font-size="8.7"><tspan font-family="Liberation Serif" font-style="italic" font-size="9.4">ξ</tspan><tspan dx="0.6">=−1/2</tspan></text><path d="M277 279.8 h14.8" stroke="#8FB032" stroke-width="1.3"/><text x="296.8" y="282.6" font-size="8.7"><tspan font-family="Liberation Serif" font-style="italic" font-size="9.4">ξ</tspan><tspan dx="0.6">=0</tspan></text><path d="M277 296.6 h14.8" stroke="#EB6235" stroke-width="1.3"/><text x="296.8" y="299.4" font-size="8.7"><tspan font-family="Liberation Serif" font-style="italic" font-size="9.4">ξ</tspan><tspan dx="0.6">=1/8</tspan></text><path d="M277 313.4 h14.8" stroke="#8778B3" stroke-width="1.3"/><text x="296.8" y="316.2" font-size="8.7"><tspan font-family="Liberation Serif" font-style="italic" font-size="9.4">ξ</tspan><tspan dx="0.6">=1/2</tspan></text><path d="M277 330.2 h14.8" stroke="#C56E1A" stroke-width="1.3"/><text x="296.8" y="333" font-size="8.7"><tspan font-family="Liberation Serif" font-style="italic" font-size="9.4">ξ</tspan><tspan dx="0.6">=1</tspan></text><g fill="none" stroke-width="1.45" stroke-linejoin="round" stroke-linecap="round"><path d="M381.3 359.77 L382.3 359.73 L383.3 359.67 L384.3 359.58 L385.3 359.47 L386.3 359.34 L387.3 359.18 L388.3 359 L389.3 358.79 L390.3 358.56 L391.3 358.31 L392.3 358.02 L393.3 357.72 L394.3 357.38 L395.3 357.03 L396.3 356.65 L397.3 356.25 L398.3 355.82 L399.3 355.38 L400.3 354.91 L401.3 354.42 L402.3 353.91 L403.3 353.39 L404.3 352.84 L405.3 352.28 L406.3 351.7 L407.3 351.11 L408.3 350.49 L409.3 349.87 L410.3 349.23 L411.3 348.57 L412.3 347.9 L413.3 347.22 L414.3 346.53 L415.3 345.82 L416.3 345.1 L417.3 344.38 L418.3 343.64 L419.3 342.9 L420.3 342.14 L421.3 341.38 L422.3 340.61 L423.3 339.84 L424.3 339.06 L425.3 338.27 L426.3 337.48 L427.3 336.69 L428.3 335.89 L429.3 335.09 L430.3 334.29 L431.3 333.49 L432.3 332.68 L433.3 331.88 L434.3 331.07 L435.3 330.27 L436.3 329.47 L437.3 328.67 L438.3 327.87 L439.3 327.08 L440.3 326.29 L441.3 325.51 L442.3 324.73 L443.3 323.96 L444.3 323.19 L445.3 322.44 L446.3 321.69 L447.3 320.95 L448.3 320.21 L449.3 319.49 L450.3 318.78 L451.3 318.08 L452.3 317.39 L453.3 316.71 L454.3 316.05 L455.3 315.4 L456.3 314.76 L457.3 314.14 L458.3 313.53 L459.3 312.93 L460.3 312.35 L461.3 311.78 L462.3 311.23 L463.3 310.69 L464.3 310.17 L465.3 309.67 L466.3 309.18 L467.3 308.71 L468.3 308.26 L469.3 307.82 L470.3 307.41 L471.3 307.01 L472.3 306.63 L473.3 306.26 L474.3 305.92 L475.3 305.6 L476.3 305.3 L477.3 305.02 L478.3 304.75 L479.3 304.51 L480.3 304.3 L481.3 304.1 L482.3 303.92 L483.3 303.77 L484.3 303.64 L485.3 303.54 L486.3 303.45 L487.3 303.39 L488.3 303.36 L489.3 303.35 L490.3 303.36 L491.3 303.4 L492.3 303.46 L493.3 303.55 L494.3 303.66 L495.3 303.79 L496.3 303.94 L497.3 304.12 L498.3 304.32 L499.3 304.53 L500.3 304.77 L501.3 305.03 L502.3 305.31 L503.3 305.61 L504.3 305.93 L505.3 306.27 L506.3 306.63 L507.3 307 L508.3 307.39 L509.3 307.8 L510.3 308.23 L511.3 308.67 L512.3 309.13 L513.3 309.61 L514.3 310.1 L515.3 310.61 L516.3 311.13 L517.3 311.67 L518.3 312.22 L519.3 312.78 L520.3 313.36 L521.3 313.95 L522.3 314.55 L523.3 315.17 L524.3 315.79 L525.3 316.43 L526.3 317.07 L527.3 317.73 L528.3 318.39 L529.3 319.06 L530.3 319.74 L531.3 320.42 L532.3 321.11 L533.3 321.81 L534.3 322.51 L535.3 323.22 L536.3 323.92 L537.3 324.63 L538.3 325.35 L539.3 326.06 L540.3 326.78 L541.3 327.49 L542.3 328.21 L543.3 328.92 L544.3 329.63 L545.3 330.34 L546.3 331.05 L547.3 331.75 L548.3 332.45 L549.3 333.15 L550.3 333.84 L551.3 334.52 L552.3 335.2 L553.3 335.86 L554.3 336.52 L555.3 337.18 L556.3 337.82 L557.3 338.45 L558.3 339.08 L559.3 339.69 L560.3 340.29 L561.3 340.89 L562.3 341.47 L563.3 342.04 L564.3 342.6 L565.3 343.15 L566.3 343.68 L567.3 344.21 L568.3 344.72 L569.3 345.21 L570.3 345.7 L571.3 346.17 L572.3 346.62 L573.3 347.06 L574.3 347.49 L575.3 347.9 L576.3 348.3 L577.3 348.68 L578.3 349.04 L579.3 349.39 L580.3 349.72 L581.3 350.04 L582.3 350.33 L583.3 350.61 L584.3 350.87 L585.3 351.12 L586.3 351.34 L587.3 351.55 L588.3 351.74 L589.3 351.9 L590.3 352.05 L591.3 352.18 L592.3 352.29 L593.3 352.37 L594.3 352.44 L595.3 352.48 L596.3 352.51 L597.3 352.51 L598.3 352.48 L599.3 352.44 L600.3 352.37 L601.3 352.28" stroke="#5E81B5"/><path d="M381.3 331.42 L382.3 331.42 L383.3 331.4 L384.3 331.38 L385.3 331.35 L386.3 331.31 L387.3 331.26 L388.3 331.2 L389.3 331.13 L390.3 331.06 L391.3 330.97 L392.3 330.87 L393.3 330.77 L394.3 330.65 L395.3 330.52 L396.3 330.38 L397.3 330.23 L398.3 330.08 L399.3 329.91 L400.3 329.74 L401.3 329.56 L402.3 329.37 L403.3 329.17 L404.3 328.97 L405.3 328.76 L406.3 328.54 L407.3 328.32 L408.3 328.09 L409.3 327.86 L410.3 327.62 L411.3 327.37 L412.3 327.12 L413.3 326.87 L414.3 326.61 L415.3 326.35 L416.3 326.08 L417.3 325.81 L418.3 325.54 L419.3 325.27 L420.3 324.99 L421.3 324.72 L422.3 324.44 L423.3 324.16 L424.3 323.89 L425.3 323.61 L426.3 323.34 L427.3 323.07 L428.3 322.79 L429.3 322.53 L430.3 322.26 L431.3 322 L432.3 321.74 L433.3 321.49 L434.3 321.24 L435.3 320.99 L436.3 320.75 L437.3 320.51 L438.3 320.28 L439.3 320.06 L440.3 319.83 L441.3 319.62 L442.3 319.4 L443.3 319.2 L444.3 319 L445.3 318.8 L446.3 318.61 L447.3 318.43 L448.3 318.25 L449.3 318.08 L450.3 317.91 L451.3 317.75 L452.3 317.6 L453.3 317.46 L454.3 317.32 L455.3 317.19 L456.3 317.07 L457.3 316.96 L458.3 316.85 L459.3 316.75 L460.3 316.66 L461.3 316.58 L462.3 316.5 L463.3 316.44 L464.3 316.38 L465.3 316.32 L466.3 316.28 L467.3 316.24 L468.3 316.22 L469.3 316.2 L470.3 316.19 L471.3 316.18 L472.3 316.19 L473.3 316.2 L474.3 316.23 L475.3 316.26 L476.3 316.3 L477.3 316.35 L478.3 316.4 L479.3 316.47 L480.3 316.55 L481.3 316.63 L482.3 316.73 L483.3 316.83 L484.3 316.95 L485.3 317.08 L486.3 317.22 L487.3 317.37 L488.3 317.53 L489.3 317.7 L490.3 317.89 L491.3 318.09 L492.3 318.3 L493.3 318.52 L494.3 318.75 L495.3 319 L496.3 319.25 L497.3 319.52 L498.3 319.79 L499.3 320.08 L500.3 320.37 L501.3 320.68 L502.3 320.99 L503.3 321.31 L504.3 321.64 L505.3 321.98 L506.3 322.33 L507.3 322.69 L508.3 323.05 L509.3 323.42 L510.3 323.8 L511.3 324.19 L512.3 324.58 L513.3 324.98 L514.3 325.39 L515.3 325.8 L516.3 326.21 L517.3 326.64 L518.3 327.07 L519.3 327.5 L520.3 327.94 L521.3 328.38 L522.3 328.83 L523.3 329.28 L524.3 329.74 L525.3 330.19 L526.3 330.65 L527.3 331.12 L528.3 331.58 L529.3 332.05 L530.3 332.51 L531.3 332.98 L532.3 333.45 L533.3 333.91 L534.3 334.38 L535.3 334.85 L536.3 335.31 L537.3 335.77 L538.3 336.23 L539.3 336.68 L540.3 337.14 L541.3 337.59 L542.3 338.03 L543.3 338.48 L544.3 338.91 L545.3 339.35 L546.3 339.78 L547.3 340.21 L548.3 340.63 L549.3 341.05 L550.3 341.47 L551.3 341.88 L552.3 342.29 L553.3 342.69 L554.3 343.09 L555.3 343.49 L556.3 343.88 L557.3 344.26 L558.3 344.64 L559.3 345.02 L560.3 345.39 L561.3 345.75 L562.3 346.11 L563.3 346.46 L564.3 346.81 L565.3 347.15 L566.3 347.48 L567.3 347.8 L568.3 348.12 L569.3 348.43 L570.3 348.73 L571.3 349.02 L572.3 349.31 L573.3 349.58 L574.3 349.85 L575.3 350.11 L576.3 350.35 L577.3 350.59 L578.3 350.82 L579.3 351.04 L580.3 351.24 L581.3 351.44 L582.3 351.62 L583.3 351.8 L584.3 351.96 L585.3 352.11 L586.3 352.24 L587.3 352.37 L588.3 352.48 L589.3 352.58 L590.3 352.67 L591.3 352.74 L592.3 352.8 L593.3 352.84 L594.3 352.87 L595.3 352.89 L596.3 352.89 L597.3 352.87 L598.3 352.85 L599.3 352.8 L600.3 352.74 L601.3 352.66" stroke="#E19C24"/><path d="M381.3 303.08 L382.3 303.1 L383.3 303.13 L384.3 303.17 L385.3 303.22 L386.3 303.27 L387.3 303.33 L388.3 303.4 L389.3 303.47 L390.3 303.55 L391.3 303.63 L392.3 303.72 L393.3 303.81 L394.3 303.91 L395.3 304.01 L396.3 304.11 L397.3 304.22 L398.3 304.34 L399.3 304.45 L400.3 304.57 L401.3 304.7 L402.3 304.83 L403.3 304.96 L404.3 305.1 L405.3 305.24 L406.3 305.39 L407.3 305.53 L408.3 305.69 L409.3 305.85 L410.3 306.01 L411.3 306.17 L412.3 306.34 L413.3 306.51 L414.3 306.69 L415.3 306.87 L416.3 307.06 L417.3 307.25 L418.3 307.44 L419.3 307.64 L420.3 307.84 L421.3 308.05 L422.3 308.27 L423.3 308.49 L424.3 308.72 L425.3 308.95 L426.3 309.19 L427.3 309.44 L428.3 309.7 L429.3 309.96 L430.3 310.23 L431.3 310.51 L432.3 310.8 L433.3 311.1 L434.3 311.4 L435.3 311.71 L436.3 312.03 L437.3 312.36 L438.3 312.69 L439.3 313.03 L440.3 313.37 L441.3 313.72 L442.3 314.08 L443.3 314.44 L444.3 314.8 L445.3 315.17 L446.3 315.54 L447.3 315.91 L448.3 316.28 L449.3 316.66 L450.3 317.04 L451.3 317.43 L452.3 317.82 L453.3 318.2 L454.3 318.6 L455.3 318.99 L456.3 319.38 L457.3 319.78 L458.3 320.18 L459.3 320.58 L460.3 320.98 L461.3 321.38 L462.3 321.78 L463.3 322.18 L464.3 322.58 L465.3 322.98 L466.3 323.38 L467.3 323.78 L468.3 324.18 L469.3 324.57 L470.3 324.97 L471.3 325.36 L472.3 325.75 L473.3 326.14 L474.3 326.53 L475.3 326.92 L476.3 327.3 L477.3 327.68 L478.3 328.05 L479.3 328.43 L480.3 328.8 L481.3 329.16 L482.3 329.53 L483.3 329.9 L484.3 330.26 L485.3 330.62 L486.3 330.98 L487.3 331.34 L488.3 331.7 L489.3 332.06 L490.3 332.42 L491.3 332.78 L492.3 333.13 L493.3 333.49 L494.3 333.85 L495.3 334.21 L496.3 334.56 L497.3 334.91 L498.3 335.27 L499.3 335.62 L500.3 335.97 L501.3 336.32 L502.3 336.67 L503.3 337.01 L504.3 337.36 L505.3 337.7 L506.3 338.04 L507.3 338.37 L508.3 338.71 L509.3 339.04 L510.3 339.37 L511.3 339.7 L512.3 340.03 L513.3 340.35 L514.3 340.67 L515.3 340.98 L516.3 341.3 L517.3 341.61 L518.3 341.91 L519.3 342.22 L520.3 342.52 L521.3 342.81 L522.3 343.11 L523.3 343.39 L524.3 343.68 L525.3 343.96 L526.3 344.23 L527.3 344.51 L528.3 344.77 L529.3 345.03 L530.3 345.29 L531.3 345.54 L532.3 345.78 L533.3 346.02 L534.3 346.25 L535.3 346.47 L536.3 346.69 L537.3 346.91 L538.3 347.11 L539.3 347.31 L540.3 347.5 L541.3 347.68 L542.3 347.86 L543.3 348.03 L544.3 348.2 L545.3 348.36 L546.3 348.51 L547.3 348.67 L548.3 348.82 L549.3 348.96 L550.3 349.1 L551.3 349.25 L552.3 349.39 L553.3 349.52 L554.3 349.66 L555.3 349.8 L556.3 349.94 L557.3 350.07 L558.3 350.21 L559.3 350.35 L560.3 350.48 L561.3 350.62 L562.3 350.75 L563.3 350.89 L564.3 351.02 L565.3 351.15 L566.3 351.28 L567.3 351.4 L568.3 351.53 L569.3 351.65 L570.3 351.77 L571.3 351.88 L572.3 351.99 L573.3 352.1 L574.3 352.21 L575.3 352.31 L576.3 352.41 L577.3 352.51 L578.3 352.6 L579.3 352.68 L580.3 352.76 L581.3 352.84 L582.3 352.91 L583.3 352.98 L584.3 353.04 L585.3 353.09 L586.3 353.14 L587.3 353.19 L588.3 353.22 L589.3 353.25 L590.3 353.28 L591.3 353.3 L592.3 353.31 L593.3 353.31 L594.3 353.3 L595.3 353.29 L596.3 353.27 L597.3 353.24 L598.3 353.21 L599.3 353.16 L600.3 353.11 L601.3 353.05" stroke="#8FB032"/><path d="M381.3 295.99 L382.3 296.02 L383.3 296.07 L384.3 296.12 L385.3 296.19 L386.3 296.26 L387.3 296.35 L388.3 296.45 L389.3 296.56 L390.3 296.67 L391.3 296.8 L392.3 296.93 L393.3 297.08 L394.3 297.23 L395.3 297.38 L396.3 297.55 L397.3 297.72 L398.3 297.9 L399.3 298.09 L400.3 298.28 L401.3 298.48 L402.3 298.69 L403.3 298.91 L404.3 299.13 L405.3 299.36 L406.3 299.6 L407.3 299.84 L408.3 300.09 L409.3 300.34 L410.3 300.6 L411.3 300.87 L412.3 301.15 L413.3 301.43 L414.3 301.71 L415.3 302 L416.3 302.3 L417.3 302.6 L418.3 302.91 L419.3 303.23 L420.3 303.56 L421.3 303.89 L422.3 304.22 L423.3 304.57 L424.3 304.92 L425.3 305.29 L426.3 305.66 L427.3 306.03 L428.3 306.42 L429.3 306.82 L430.3 307.22 L431.3 307.64 L432.3 308.06 L433.3 308.5 L434.3 308.94 L435.3 309.39 L436.3 309.85 L437.3 310.32 L438.3 310.79 L439.3 311.27 L440.3 311.76 L441.3 312.25 L442.3 312.75 L443.3 313.25 L444.3 313.75 L445.3 314.26 L446.3 314.77 L447.3 315.28 L448.3 315.79 L449.3 316.31 L450.3 316.83 L451.3 317.35 L452.3 317.87 L453.3 318.39 L454.3 318.91 L455.3 319.44 L456.3 319.96 L457.3 320.49 L458.3 321.01 L459.3 321.53 L460.3 322.06 L461.3 322.58 L462.3 323.1 L463.3 323.61 L464.3 324.13 L465.3 324.64 L466.3 325.15 L467.3 325.66 L468.3 326.17 L469.3 326.67 L470.3 327.16 L471.3 327.66 L472.3 328.15 L473.3 328.63 L474.3 329.11 L475.3 329.58 L476.3 330.05 L477.3 330.51 L478.3 330.96 L479.3 331.41 L480.3 331.86 L481.3 332.3 L482.3 332.73 L483.3 333.16 L484.3 333.59 L485.3 334.01 L486.3 334.42 L487.3 334.83 L488.3 335.24 L489.3 335.65 L490.3 336.05 L491.3 336.45 L492.3 336.84 L493.3 337.23 L494.3 337.62 L495.3 338.01 L496.3 338.39 L497.3 338.76 L498.3 339.14 L499.3 339.5 L500.3 339.87 L501.3 340.23 L502.3 340.59 L503.3 340.94 L504.3 341.28 L505.3 341.63 L506.3 341.96 L507.3 342.3 L508.3 342.62 L509.3 342.95 L510.3 343.27 L511.3 343.58 L512.3 343.89 L513.3 344.19 L514.3 344.49 L515.3 344.78 L516.3 345.07 L517.3 345.35 L518.3 345.63 L519.3 345.9 L520.3 346.16 L521.3 346.42 L522.3 346.67 L523.3 346.92 L524.3 347.16 L525.3 347.4 L526.3 347.63 L527.3 347.85 L528.3 348.07 L529.3 348.28 L530.3 348.48 L531.3 348.68 L532.3 348.86 L533.3 349.04 L534.3 349.22 L535.3 349.38 L536.3 349.54 L537.3 349.69 L538.3 349.83 L539.3 349.96 L540.3 350.09 L541.3 350.2 L542.3 350.31 L543.3 350.42 L544.3 350.52 L545.3 350.61 L546.3 350.7 L547.3 350.78 L548.3 350.86 L549.3 350.94 L550.3 351.01 L551.3 351.09 L552.3 351.16 L553.3 351.23 L554.3 351.3 L555.3 351.38 L556.3 351.45 L557.3 351.53 L558.3 351.6 L559.3 351.68 L560.3 351.76 L561.3 351.84 L562.3 351.91 L563.3 351.99 L564.3 352.07 L565.3 352.15 L566.3 352.22 L567.3 352.3 L568.3 352.38 L569.3 352.45 L570.3 352.52 L571.3 352.6 L572.3 352.67 L573.3 352.73 L574.3 352.8 L575.3 352.86 L576.3 352.93 L577.3 352.98 L578.3 353.04 L579.3 353.09 L580.3 353.14 L581.3 353.19 L582.3 353.23 L583.3 353.27 L584.3 353.31 L585.3 353.34 L586.3 353.37 L587.3 353.39 L588.3 353.41 L589.3 353.42 L590.3 353.43 L591.3 353.43 L592.3 353.43 L593.3 353.43 L594.3 353.41 L595.3 353.39 L596.3 353.37 L597.3 353.34 L598.3 353.3 L599.3 353.25 L600.3 353.2 L601.3 353.14" stroke="#EB6235"/><path d="M381.3 274.74 L382.3 274.79 L383.3 274.87 L384.3 274.97 L385.3 275.09 L386.3 275.24 L387.3 275.41 L388.3 275.6 L389.3 275.81 L390.3 276.05 L391.3 276.3 L392.3 276.57 L393.3 276.86 L394.3 277.17 L395.3 277.5 L396.3 277.85 L397.3 278.21 L398.3 278.59 L399.3 278.99 L400.3 279.41 L401.3 279.84 L402.3 280.29 L403.3 280.75 L404.3 281.23 L405.3 281.72 L406.3 282.23 L407.3 282.75 L408.3 283.28 L409.3 283.83 L410.3 284.4 L411.3 284.97 L412.3 285.56 L413.3 286.16 L414.3 286.77 L415.3 287.4 L416.3 288.03 L417.3 288.68 L418.3 289.34 L419.3 290.01 L420.3 290.69 L421.3 291.39 L422.3 292.09 L423.3 292.81 L424.3 293.55 L425.3 294.29 L426.3 295.05 L427.3 295.82 L428.3 296.6 L429.3 297.39 L430.3 298.2 L431.3 299.02 L432.3 299.86 L433.3 300.71 L434.3 301.57 L435.3 302.44 L436.3 303.31 L437.3 304.2 L438.3 305.1 L439.3 306.01 L440.3 306.92 L441.3 307.83 L442.3 308.75 L443.3 309.68 L444.3 310.6 L445.3 311.53 L446.3 312.46 L447.3 313.39 L448.3 314.32 L449.3 315.25 L450.3 316.18 L451.3 317.1 L452.3 318.03 L453.3 318.95 L454.3 319.87 L455.3 320.78 L456.3 321.7 L457.3 322.6 L458.3 323.5 L459.3 324.4 L460.3 325.29 L461.3 326.18 L462.3 327.05 L463.3 327.92 L464.3 328.78 L465.3 329.64 L466.3 330.48 L467.3 331.31 L468.3 332.14 L469.3 332.95 L470.3 333.75 L471.3 334.54 L472.3 335.32 L473.3 336.08 L474.3 336.84 L475.3 337.57 L476.3 338.3 L477.3 339.01 L478.3 339.7 L479.3 340.38 L480.3 341.05 L481.3 341.7 L482.3 342.33 L483.3 342.96 L484.3 343.57 L485.3 344.16 L486.3 344.74 L487.3 345.31 L488.3 345.87 L489.3 346.41 L490.3 346.95 L491.3 347.46 L492.3 347.97 L493.3 348.46 L494.3 348.94 L495.3 349.41 L496.3 349.87 L497.3 350.31 L498.3 350.74 L499.3 351.16 L500.3 351.57 L501.3 351.96 L502.3 352.34 L503.3 352.71 L504.3 353.07 L505.3 353.41 L506.3 353.74 L507.3 354.06 L508.3 354.37 L509.3 354.66 L510.3 354.95 L511.3 355.22 L512.3 355.47 L513.3 355.72 L514.3 355.95 L515.3 356.17 L516.3 356.38 L517.3 356.58 L518.3 356.76 L519.3 356.93 L520.3 357.1 L521.3 357.25 L522.3 357.38 L523.3 357.51 L524.3 357.62 L525.3 357.72 L526.3 357.82 L527.3 357.89 L528.3 357.96 L529.3 358.02 L530.3 358.06 L531.3 358.09 L532.3 358.11 L533.3 358.12 L534.3 358.12 L535.3 358.1 L536.3 358.08 L537.3 358.04 L538.3 357.99 L539.3 357.93 L540.3 357.86 L541.3 357.78 L542.3 357.68 L543.3 357.58 L544.3 357.48 L545.3 357.36 L546.3 357.24 L547.3 357.12 L548.3 357 L549.3 356.87 L550.3 356.74 L551.3 356.61 L552.3 356.48 L553.3 356.35 L554.3 356.23 L555.3 356.11 L556.3 355.99 L557.3 355.88 L558.3 355.78 L559.3 355.68 L560.3 355.58 L561.3 355.48 L562.3 355.39 L563.3 355.31 L564.3 355.23 L565.3 355.15 L566.3 355.07 L567.3 355 L568.3 354.93 L569.3 354.86 L570.3 354.8 L571.3 354.74 L572.3 354.68 L573.3 354.62 L574.3 354.57 L575.3 354.52 L576.3 354.47 L577.3 354.42 L578.3 354.37 L579.3 354.33 L580.3 354.28 L581.3 354.24 L582.3 354.2 L583.3 354.16 L584.3 354.12 L585.3 354.08 L586.3 354.04 L587.3 354 L588.3 353.97 L589.3 353.93 L590.3 353.89 L591.3 353.85 L592.3 353.81 L593.3 353.78 L594.3 353.74 L595.3 353.7 L596.3 353.66 L597.3 353.61 L598.3 353.57 L599.3 353.53 L600.3 353.48 L601.3 353.43" stroke="#8778B3"/><path d="M381.3 246.39 L382.3 246.48 L383.3 246.6 L384.3 246.76 L385.3 246.96 L386.3 247.21 L387.3 247.48 L388.3 247.8 L389.3 248.15 L390.3 248.54 L391.3 248.96 L392.3 249.42 L393.3 249.91 L394.3 250.44 L395.3 250.99 L396.3 251.58 L397.3 252.2 L398.3 252.85 L399.3 253.53 L400.3 254.24 L401.3 254.98 L402.3 255.74 L403.3 256.53 L404.3 257.35 L405.3 258.2 L406.3 259.07 L407.3 259.96 L408.3 260.88 L409.3 261.82 L410.3 262.79 L411.3 263.77 L412.3 264.78 L413.3 265.81 L414.3 266.86 L415.3 267.92 L416.3 269.01 L417.3 270.11 L418.3 271.24 L419.3 272.38 L420.3 273.54 L421.3 274.72 L422.3 275.92 L423.3 277.14 L424.3 278.37 L425.3 279.63 L426.3 280.9 L427.3 282.19 L428.3 283.5 L429.3 284.83 L430.3 286.17 L431.3 287.54 L432.3 288.92 L433.3 290.32 L434.3 291.73 L435.3 293.16 L436.3 294.6 L437.3 296.05 L438.3 297.51 L439.3 298.98 L440.3 300.46 L441.3 301.94 L442.3 303.43 L443.3 304.92 L444.3 306.41 L445.3 307.9 L446.3 309.39 L447.3 310.87 L448.3 312.36 L449.3 313.83 L450.3 315.31 L451.3 316.78 L452.3 318.24 L453.3 319.69 L454.3 321.14 L455.3 322.58 L456.3 324.01 L457.3 325.42 L458.3 326.83 L459.3 328.23 L460.3 329.61 L461.3 330.97 L462.3 332.33 L463.3 333.67 L464.3 334.99 L465.3 336.29 L466.3 337.58 L467.3 338.85 L468.3 340.1 L469.3 341.33 L470.3 342.53 L471.3 343.72 L472.3 344.88 L473.3 346.02 L474.3 347.14 L475.3 348.23 L476.3 349.3 L477.3 350.34 L478.3 351.35 L479.3 352.34 L480.3 353.3 L481.3 354.23 L482.3 355.14 L483.3 356.02 L484.3 356.87 L485.3 357.7 L486.3 358.51 L487.3 359.29 L488.3 360.04 L489.3 360.77 L490.3 361.47 L491.3 362.15 L492.3 362.8 L493.3 363.43 L494.3 364.04 L495.3 364.62 L496.3 365.18 L497.3 365.71 L498.3 366.22 L499.3 366.7 L500.3 367.17 L501.3 367.6 L502.3 368.02 L503.3 368.41 L504.3 368.78 L505.3 369.13 L506.3 369.45 L507.3 369.75 L508.3 370.03 L509.3 370.28 L510.3 370.52 L511.3 370.73 L512.3 370.92 L513.3 371.09 L514.3 371.23 L515.3 371.36 L516.3 371.46 L517.3 371.55 L518.3 371.61 L519.3 371.65 L520.3 371.67 L521.3 371.68 L522.3 371.66 L523.3 371.62 L524.3 371.57 L525.3 371.49 L526.3 371.4 L527.3 371.28 L528.3 371.15 L529.3 371 L530.3 370.83 L531.3 370.65 L532.3 370.45 L533.3 370.23 L534.3 369.99 L535.3 369.73 L536.3 369.46 L537.3 369.18 L538.3 368.87 L539.3 368.55 L540.3 368.22 L541.3 367.87 L542.3 367.51 L543.3 367.14 L544.3 366.76 L545.3 366.37 L546.3 365.98 L547.3 365.58 L548.3 365.18 L549.3 364.77 L550.3 364.37 L551.3 363.97 L552.3 363.58 L553.3 363.18 L554.3 362.8 L555.3 362.42 L556.3 362.05 L557.3 361.69 L558.3 361.34 L559.3 361 L560.3 360.67 L561.3 360.35 L562.3 360.04 L563.3 359.73 L564.3 359.44 L565.3 359.15 L566.3 358.87 L567.3 358.6 L568.3 358.33 L569.3 358.08 L570.3 357.83 L571.3 357.6 L572.3 357.37 L573.3 357.14 L574.3 356.93 L575.3 356.72 L576.3 356.53 L577.3 356.33 L578.3 356.15 L579.3 355.97 L580.3 355.81 L581.3 355.64 L582.3 355.49 L583.3 355.34 L584.3 355.2 L585.3 355.07 L586.3 354.94 L587.3 354.82 L588.3 354.71 L589.3 354.6 L590.3 354.5 L591.3 354.41 L592.3 354.32 L593.3 354.24 L594.3 354.17 L595.3 354.1 L596.3 354.04 L597.3 353.98 L598.3 353.93 L599.3 353.89 L600.3 353.85 L601.3 353.82" stroke="#C56E1A"/></g><path d="M379.5 239.5 V378.2 M379.5 353.5 H605" stroke="#404040" stroke-width="1.0" fill="none"/><path d="M379.5 376.64 h2.2 M379.5 370.86 h2.2 M379.5 365.07 h2.2 M379.5 359.29 h2.2 M379.5 353.5 h3.2 M379.5 347.71 h2.2 M379.5 341.93 h2.2 M379.5 336.14 h2.2 M379.5 330.36 h2.2 M379.5 324.57 h3.2 M379.5 318.79 h2.2 M379.5 313 h2.2 M379.5 307.22 h2.2 M379.5 301.44 h2.2 M379.5 295.65 h3.2 M379.5 289.87 h2.2 M379.5 284.08 h2.2 M379.5 278.29 h2.2 M379.5 272.51 h2.2 M379.5 266.73 h3.2 M379.5 260.94 h2.2 M379.5 255.15 h2.2 M379.5 249.37 h2.2 M379.5 243.59 h2.2" stroke="#404040" stroke-width="1.0" fill="none"/><text transform="translate(377.1 356.5) scale(1 1.13)" text-anchor="end" font-size="8.7">0.000</text><text transform="translate(377.1 327.57) scale(1 1.13)" text-anchor="end" font-size="8.7">0.005</text><text transform="translate(377.1 298.65) scale(1 1.13)" text-anchor="end" font-size="8.7">0.010</text><text transform="translate(377.1 269.73) scale(1 1.13)" text-anchor="end" font-size="8.7">0.015</text><path d="M457.9 353.5 v-3" stroke="#404040" stroke-width="0.8" fill="none"/><text x="458.3" y="361.2" text-anchor="middle" font-family="Liberation Sans" font-style="italic" font-size="9.6">π</text><rect x="453.9" y="363.1" width="6.7" height="0.95" fill="#111"/><text transform="translate(457.9 373.9) scale(1 1.08)" text-anchor="middle" font-size="8.8">6</text><path d="M536.4 353.5 v-3" stroke="#404040" stroke-width="0.8" fill="none"/><text x="536.8" y="361.2" text-anchor="middle" font-family="Liberation Sans" font-style="italic" font-size="9.6">π</text><rect x="532.4" y="363.1" width="6.7" height="0.95" fill="#111"/><text transform="translate(536.4 373.9) scale(1 1.08)" text-anchor="middle" font-size="8.8">3</text><text x="611" y="358.6" font-family="Liberation Serif" font-style="italic" font-size="10.6" dx="1.0">ρ</text><text x="470.4" y="212.2" font-size="8.8"><tspan font-style="italic">v</tspan>=1/2,<tspan font-style="italic" dx="5.1">β</tspan>=3</text><path d="M354.7 222.1 L351.9 226.45 L354.7 230.8" fill="none" stroke="#111" stroke-width="0.95"/><text x="355.1" y="228.9" font-family="Liberation Serif" font-style="italic" font-size="8.9">T</text><path d="M357 220.4 L358.55 218.9 L360.1 220.4" fill="none" stroke="#111" stroke-width="0.9"/><text x="362.3" y="220.5" font-family="Liberation Serif" font-style="italic" font-size="7.4">ρ</text><text x="361.6" y="231.1" font-family="Liberation Serif" font-style="italic" font-size="7.2">ρ</text><path d="M366.8 222.1 L369.6 226.45 L366.8 230.8" fill="none" stroke="#111" stroke-width="0.95"/><text x="369.8" y="223.7" font-family="Liberation Serif" font-style="italic" font-size="7.1">D</text><text x="370.4" y="231.4" font-family="Liberation Serif" font-style="italic" font-size="7.1">β</text><rect x="378" y="225.7" width="4.9" height="0.95" fill="#111"/><path d="M388 222.1 L385.2 226.45 L388 230.8" fill="none" stroke="#111" stroke-width="0.95"/><text x="388.4" y="228.9" font-family="Liberation Serif" font-style="italic" font-size="8.9">T</text><path d="M390.3 220.4 L391.85 218.9 L393.4 220.4" fill="none" stroke="#111" stroke-width="0.9"/><text x="395.6" y="220.8" font-family="Liberation Serif" font-style="italic" font-size="7.4">t</text><text x="394.9" y="230.8" font-family="Liberation Serif" font-style="italic" font-size="7.2">t</text><path d="M398 222.1 L400.8 226.45 L398 230.8" fill="none" stroke="#111" stroke-width="0.95"/><text x="401" y="223.7" font-family="Liberation Serif" font-style="italic" font-size="7.1">D</text><text x="401.6" y="231.4" font-family="Liberation Serif" font-style="italic" font-size="7.1">β</text><rect x="621.9" y="236.2" width="62.2" height="110.1" fill="#fff" stroke="#2a2a2a" stroke-width="1.3"/><path d="M629.1 249 h14.8" stroke="#5E81B5" stroke-width="1.3"/><text x="648.9" y="251.8" font-size="8.7"><tspan font-family="Liberation Serif" font-style="italic" font-size="9.4">ξ</tspan><tspan dx="0.6">=−1</tspan></text><path d="M629.1 265.8 h14.8" stroke="#E19C24" stroke-width="1.3"/><text x="648.9" y="268.6" font-size="8.7"><tspan font-family="Liberation Serif" font-style="italic" font-size="9.4">ξ</tspan><tspan dx="0.6">=−1/2</tspan></text><path d="M629.1 282.6 h14.8" stroke="#8FB032" stroke-width="1.3"/><text x="648.9" y="285.4" font-size="8.7"><tspan font-family="Liberation Serif" font-style="italic" font-size="9.4">ξ</tspan><tspan dx="0.6">=0</tspan></text><path d="M629.1 299.4 h14.8" stroke="#EB6235" stroke-width="1.3"/><text x="648.9" y="302.2" font-size="8.7"><tspan font-family="Liberation Serif" font-style="italic" font-size="9.4">ξ</tspan><tspan dx="0.6">=1/8</tspan></text><path d="M629.1 316.2 h14.8" stroke="#8778B3" stroke-width="1.3"/><text x="648.9" y="319" font-size="8.7"><tspan font-family="Liberation Serif" font-style="italic" font-size="9.4">ξ</tspan><tspan dx="0.6">=1/2</tspan></text><path d="M629.1 333 h14.8" stroke="#C56E1A" stroke-width="1.3"/><text x="648.9" y="335.8" font-size="8.7"><tspan font-family="Liberation Serif" font-style="italic" font-size="9.4">ξ</tspan><tspan dx="0.6">=1</tspan></text><g fill="none" stroke-width="1.45" stroke-linejoin="round" stroke-linecap="round"><path d="M29.1 501.26 L30.1 501.24 L31.1 501.22 L32.1 501.19 L33.1 501.17 L34.1 501.15 L35.1 501.13 L36.1 501.11 L37.1 501.09 L38.1 501.07 L39.1 501.05 L40.1 501.04 L41.1 501.02 L42.1 501 L43.1 500.99 L44.1 500.98 L45.1 500.96 L46.1 500.95 L47.1 500.94 L48.1 500.93 L49.1 500.93 L50.1 500.92 L51.1 500.92 L52.1 500.91 L53.1 500.91 L54.1 500.91 L55.1 500.91 L56.1 500.92 L57.1 500.92 L58.1 500.93 L59.1 500.94 L60.1 500.95 L61.1 500.96 L62.1 500.97 L63.1 500.99 L64.1 501.01 L65.1 501.03 L66.1 501.06 L67.1 501.08 L68.1 501.11 L69.1 501.14 L70.1 501.17 L71.1 501.21 L72.1 501.25 L73.1 501.29 L74.1 501.33 L75.1 501.38 L76.1 501.43 L77.1 501.48 L78.1 501.54 L79.1 501.6 L80.1 501.66 L81.1 501.72 L82.1 501.79 L83.1 501.86 L84.1 501.93 L85.1 502.01 L86.1 502.09 L87.1 502.18 L88.1 502.26 L89.1 502.36 L90.1 502.45 L91.1 502.55 L92.1 502.65 L93.1 502.76 L94.1 502.87 L95.1 502.98 L96.1 503.1 L97.1 503.22 L98.1 503.35 L99.1 503.48 L100.1 503.61 L101.1 503.75 L102.1 503.9 L103.1 504.04 L104.1 504.19 L105.1 504.35 L106.1 504.51 L107.1 504.68 L108.1 504.85 L109.1 505.02 L110.1 505.2 L111.1 505.39 L112.1 505.57 L113.1 505.77 L114.1 505.97 L115.1 506.17 L116.1 506.38 L117.1 506.6 L118.1 506.81 L119.1 507.04 L120.1 507.27 L121.1 507.5 L122.1 507.75 L123.1 507.99 L124.1 508.24 L125.1 508.5 L126.1 508.76 L127.1 509.03 L128.1 509.31 L129.1 509.59 L130.1 509.87 L131.1 510.17 L132.1 510.46 L133.1 510.77 L134.1 511.08 L135.1 511.4 L136.1 511.72 L137.1 512.05 L138.1 512.38 L139.1 512.72 L140.1 513.07 L141.1 513.43 L142.1 513.79 L143.1 514.15 L144.1 514.53 L145.1 514.9 L146.1 515.29 L147.1 515.68 L148.1 516.08 L149.1 516.48 L150.1 516.89 L151.1 517.3 L152.1 517.72 L153.1 518.15 L154.1 518.58 L155.1 519.02 L156.1 519.46 L157.1 519.91 L158.1 520.36 L159.1 520.82 L160.1 521.29 L161.1 521.76 L162.1 522.23 L163.1 522.72 L164.1 523.2 L165.1 523.69 L166.1 524.19 L167.1 524.69 L168.1 525.2 L169.1 525.71 L170.1 526.23 L171.1 526.75 L172.1 527.28 L173.1 527.81 L174.1 528.35 L175.1 528.89 L176.1 529.44 L177.1 529.99 L178.1 530.54 L179.1 531.1 L180.1 531.67 L181.1 532.24 L182.1 532.81 L183.1 533.39 L184.1 533.97 L185.1 534.56 L186.1 535.15 L187.1 535.74 L188.1 536.33 L189.1 536.93 L190.1 537.52 L191.1 538.12 L192.1 538.72 L193.1 539.32 L194.1 539.91 L195.1 540.51 L196.1 541.1 L197.1 541.7 L198.1 542.29 L199.1 542.88 L200.1 543.47 L201.1 544.05 L202.1 544.63 L203.1 545.21 L204.1 545.78 L205.1 546.35 L206.1 546.91 L207.1 547.47 L208.1 548.02 L209.1 548.56 L210.1 549.1 L211.1 549.63 L212.1 550.15 L213.1 550.66 L214.1 551.17 L215.1 551.67 L216.1 552.15 L217.1 552.63 L218.1 553.1 L219.1 553.56 L220.1 554 L221.1 554.44 L222.1 554.86 L223.1 555.28 L224.1 555.67 L225.1 556.06 L226.1 556.43 L227.1 556.79 L228.1 557.14 L229.1 557.47 L230.1 557.78 L231.1 558.09 L232.1 558.37 L233.1 558.64 L234.1 558.89 L235.1 559.13 L236.1 559.34 L237.1 559.54 L238.1 559.72 L239.1 559.89 L240.1 560.03 L241.1 560.16 L242.1 560.26 L243.1 560.35 L244.1 560.41 L245.1 560.45 L246.1 560.47 L247.1 560.47 L248.1 560.45 L249.1 560.41" stroke="#5E81B5"/><path d="M29.1 486.72 L30.1 486.72 L31.1 486.72 L32.1 486.73 L33.1 486.75 L34.1 486.78 L35.1 486.81 L36.1 486.84 L37.1 486.89 L38.1 486.94 L39.1 487 L40.1 487.06 L41.1 487.14 L42.1 487.21 L43.1 487.3 L44.1 487.39 L45.1 487.48 L46.1 487.59 L47.1 487.7 L48.1 487.81 L49.1 487.93 L50.1 488.06 L51.1 488.19 L52.1 488.33 L53.1 488.47 L54.1 488.62 L55.1 488.78 L56.1 488.94 L57.1 489.11 L58.1 489.28 L59.1 489.46 L60.1 489.64 L61.1 489.82 L62.1 490.02 L63.1 490.21 L64.1 490.42 L65.1 490.62 L66.1 490.84 L67.1 491.05 L68.1 491.28 L69.1 491.51 L70.1 491.74 L71.1 491.98 L72.1 492.22 L73.1 492.47 L74.1 492.73 L75.1 492.99 L76.1 493.26 L77.1 493.53 L78.1 493.81 L79.1 494.09 L80.1 494.38 L81.1 494.68 L82.1 494.98 L83.1 495.29 L84.1 495.6 L85.1 495.92 L86.1 496.25 L87.1 496.58 L88.1 496.92 L89.1 497.26 L90.1 497.61 L91.1 497.97 L92.1 498.33 L93.1 498.7 L94.1 499.07 L95.1 499.44 L96.1 499.83 L97.1 500.21 L98.1 500.61 L99.1 501 L100.1 501.4 L101.1 501.81 L102.1 502.22 L103.1 502.63 L104.1 503.04 L105.1 503.46 L106.1 503.89 L107.1 504.31 L108.1 504.74 L109.1 505.18 L110.1 505.61 L111.1 506.05 L112.1 506.49 L113.1 506.94 L114.1 507.39 L115.1 507.84 L116.1 508.29 L117.1 508.74 L118.1 509.2 L119.1 509.67 L120.1 510.13 L121.1 510.6 L122.1 511.07 L123.1 511.54 L124.1 512.01 L125.1 512.49 L126.1 512.97 L127.1 513.46 L128.1 513.94 L129.1 514.43 L130.1 514.92 L131.1 515.41 L132.1 515.91 L133.1 516.41 L134.1 516.91 L135.1 517.41 L136.1 517.91 L137.1 518.42 L138.1 518.92 L139.1 519.43 L140.1 519.94 L141.1 520.46 L142.1 520.97 L143.1 521.48 L144.1 522 L145.1 522.52 L146.1 523.03 L147.1 523.55 L148.1 524.07 L149.1 524.59 L150.1 525.11 L151.1 525.62 L152.1 526.14 L153.1 526.66 L154.1 527.18 L155.1 527.7 L156.1 528.21 L157.1 528.73 L158.1 529.24 L159.1 529.76 L160.1 530.27 L161.1 530.78 L162.1 531.29 L163.1 531.8 L164.1 532.31 L165.1 532.81 L166.1 533.31 L167.1 533.82 L168.1 534.32 L169.1 534.81 L170.1 535.31 L171.1 535.8 L172.1 536.3 L173.1 536.79 L174.1 537.28 L175.1 537.77 L176.1 538.25 L177.1 538.74 L178.1 539.23 L179.1 539.71 L180.1 540.19 L181.1 540.68 L182.1 541.16 L183.1 541.64 L184.1 542.12 L185.1 542.6 L186.1 543.07 L187.1 543.55 L188.1 544.02 L189.1 544.49 L190.1 544.96 L191.1 545.42 L192.1 545.88 L193.1 546.34 L194.1 546.8 L195.1 547.25 L196.1 547.7 L197.1 548.14 L198.1 548.58 L199.1 549.02 L200.1 549.45 L201.1 549.88 L202.1 550.3 L203.1 550.72 L204.1 551.13 L205.1 551.53 L206.1 551.93 L207.1 552.33 L208.1 552.71 L209.1 553.09 L210.1 553.47 L211.1 553.83 L212.1 554.19 L213.1 554.55 L214.1 554.89 L215.1 555.23 L216.1 555.56 L217.1 555.88 L218.1 556.19 L219.1 556.5 L220.1 556.79 L221.1 557.08 L222.1 557.36 L223.1 557.63 L224.1 557.89 L225.1 558.13 L226.1 558.37 L227.1 558.6 L228.1 558.82 L229.1 559.03 L230.1 559.22 L231.1 559.41 L232.1 559.58 L233.1 559.75 L234.1 559.9 L235.1 560.04 L236.1 560.16 L237.1 560.28 L238.1 560.38 L239.1 560.47 L240.1 560.55 L241.1 560.61 L242.1 560.66 L243.1 560.7 L244.1 560.72 L245.1 560.73 L246.1 560.72 L247.1 560.7 L248.1 560.67 L249.1 560.62" stroke="#E19C24"/><path d="M29.1 472.18 L30.1 472.2 L31.1 472.23 L32.1 472.27 L33.1 472.33 L34.1 472.4 L35.1 472.48 L36.1 472.58 L37.1 472.69 L38.1 472.81 L39.1 472.95 L40.1 473.09 L41.1 473.25 L42.1 473.42 L43.1 473.61 L44.1 473.8 L45.1 474.01 L46.1 474.22 L47.1 474.45 L48.1 474.69 L49.1 474.94 L50.1 475.2 L51.1 475.47 L52.1 475.75 L53.1 476.04 L54.1 476.34 L55.1 476.65 L56.1 476.97 L57.1 477.29 L58.1 477.63 L59.1 477.97 L60.1 478.33 L61.1 478.69 L62.1 479.06 L63.1 479.44 L64.1 479.82 L65.1 480.22 L66.1 480.62 L67.1 481.03 L68.1 481.45 L69.1 481.87 L70.1 482.3 L71.1 482.75 L72.1 483.2 L73.1 483.66 L74.1 484.12 L75.1 484.6 L76.1 485.08 L77.1 485.58 L78.1 486.08 L79.1 486.59 L80.1 487.1 L81.1 487.63 L82.1 488.17 L83.1 488.71 L84.1 489.26 L85.1 489.83 L86.1 490.4 L87.1 490.98 L88.1 491.57 L89.1 492.16 L90.1 492.77 L91.1 493.38 L92.1 494 L93.1 494.63 L94.1 495.27 L95.1 495.91 L96.1 496.55 L97.1 497.2 L98.1 497.86 L99.1 498.52 L100.1 499.19 L101.1 499.86 L102.1 500.54 L103.1 501.21 L104.1 501.89 L105.1 502.58 L106.1 503.26 L107.1 503.95 L108.1 504.64 L109.1 505.33 L110.1 506.02 L111.1 506.72 L112.1 507.41 L113.1 508.11 L114.1 508.8 L115.1 509.5 L116.1 510.2 L117.1 510.89 L118.1 511.59 L119.1 512.29 L120.1 512.99 L121.1 513.69 L122.1 514.39 L123.1 515.09 L124.1 515.79 L125.1 516.48 L126.1 517.18 L127.1 517.88 L128.1 518.58 L129.1 519.27 L130.1 519.97 L131.1 520.66 L132.1 521.36 L133.1 522.05 L134.1 522.73 L135.1 523.42 L136.1 524.11 L137.1 524.79 L138.1 525.47 L139.1 526.14 L140.1 526.82 L141.1 527.49 L142.1 528.15 L143.1 528.81 L144.1 529.47 L145.1 530.13 L146.1 530.78 L147.1 531.42 L148.1 532.06 L149.1 532.69 L150.1 533.32 L151.1 533.95 L152.1 534.56 L153.1 535.17 L154.1 535.78 L155.1 536.38 L156.1 536.97 L157.1 537.55 L158.1 538.13 L159.1 538.7 L160.1 539.26 L161.1 539.81 L162.1 540.35 L163.1 540.89 L164.1 541.41 L165.1 541.93 L166.1 542.44 L167.1 542.94 L168.1 543.43 L169.1 543.91 L170.1 544.39 L171.1 544.85 L172.1 545.31 L173.1 545.76 L174.1 546.21 L175.1 546.64 L176.1 547.07 L177.1 547.49 L178.1 547.91 L179.1 548.32 L180.1 548.72 L181.1 549.11 L182.1 549.5 L183.1 549.89 L184.1 550.26 L185.1 550.63 L186.1 551 L187.1 551.36 L188.1 551.71 L189.1 552.05 L190.1 552.39 L191.1 552.73 L192.1 553.05 L193.1 553.37 L194.1 553.69 L195.1 553.99 L196.1 554.29 L197.1 554.59 L198.1 554.88 L199.1 555.16 L200.1 555.44 L201.1 555.71 L202.1 555.97 L203.1 556.22 L204.1 556.47 L205.1 556.72 L206.1 556.95 L207.1 557.19 L208.1 557.41 L209.1 557.63 L210.1 557.84 L211.1 558.04 L212.1 558.24 L213.1 558.43 L214.1 558.62 L215.1 558.79 L216.1 558.97 L217.1 559.13 L218.1 559.29 L219.1 559.44 L220.1 559.58 L221.1 559.72 L222.1 559.85 L223.1 559.98 L224.1 560.1 L225.1 560.21 L226.1 560.31 L227.1 560.41 L228.1 560.5 L229.1 560.59 L230.1 560.66 L231.1 560.74 L232.1 560.8 L233.1 560.86 L234.1 560.91 L235.1 560.95 L236.1 560.99 L237.1 561.02 L238.1 561.04 L239.1 561.06 L240.1 561.06 L241.1 561.07 L242.1 561.06 L243.1 561.05 L244.1 561.03 L245.1 561.01 L246.1 560.97 L247.1 560.93 L248.1 560.89 L249.1 560.83" stroke="#8FB032"/><path d="M29.1 468.55 L30.1 468.57 L31.1 468.61 L32.1 468.66 L33.1 468.72 L34.1 468.81 L35.1 468.9 L36.1 469.01 L37.1 469.14 L38.1 469.28 L39.1 469.43 L40.1 469.6 L41.1 469.78 L42.1 469.98 L43.1 470.18 L44.1 470.4 L45.1 470.64 L46.1 470.88 L47.1 471.14 L48.1 471.41 L49.1 471.69 L50.1 471.98 L51.1 472.29 L52.1 472.6 L53.1 472.93 L54.1 473.27 L55.1 473.61 L56.1 473.97 L57.1 474.34 L58.1 474.72 L59.1 475.1 L60.1 475.5 L61.1 475.91 L62.1 476.32 L63.1 476.74 L64.1 477.17 L65.1 477.61 L66.1 478.06 L67.1 478.52 L68.1 478.99 L69.1 479.46 L70.1 479.95 L71.1 480.44 L72.1 480.94 L73.1 481.45 L74.1 481.97 L75.1 482.5 L76.1 483.04 L77.1 483.59 L78.1 484.14 L79.1 484.71 L80.1 485.29 L81.1 485.87 L82.1 486.46 L83.1 487.07 L84.1 487.68 L85.1 488.3 L86.1 488.94 L87.1 489.58 L88.1 490.23 L89.1 490.89 L90.1 491.56 L91.1 492.24 L92.1 492.92 L93.1 493.62 L94.1 494.32 L95.1 495.02 L96.1 495.73 L97.1 496.45 L98.1 497.18 L99.1 497.9 L100.1 498.64 L101.1 499.37 L102.1 500.12 L103.1 500.86 L104.1 501.61 L105.1 502.36 L106.1 503.11 L107.1 503.86 L108.1 504.62 L109.1 505.37 L110.1 506.13 L111.1 506.88 L112.1 507.64 L113.1 508.4 L114.1 509.16 L115.1 509.92 L116.1 510.67 L117.1 511.43 L118.1 512.19 L119.1 512.95 L120.1 513.7 L121.1 514.46 L122.1 515.22 L123.1 515.97 L124.1 516.73 L125.1 517.48 L126.1 518.24 L127.1 518.99 L128.1 519.74 L129.1 520.48 L130.1 521.23 L131.1 521.97 L132.1 522.72 L133.1 523.46 L134.1 524.19 L135.1 524.92 L136.1 525.65 L137.1 526.38 L138.1 527.1 L139.1 527.82 L140.1 528.53 L141.1 529.24 L142.1 529.95 L143.1 530.65 L144.1 531.34 L145.1 532.03 L146.1 532.71 L147.1 533.39 L148.1 534.06 L149.1 534.72 L150.1 535.38 L151.1 536.03 L152.1 536.67 L153.1 537.3 L154.1 537.93 L155.1 538.55 L156.1 539.16 L157.1 539.76 L158.1 540.35 L159.1 540.93 L160.1 541.5 L161.1 542.06 L162.1 542.62 L163.1 543.16 L164.1 543.69 L165.1 544.21 L166.1 544.72 L167.1 545.22 L168.1 545.71 L169.1 546.19 L170.1 546.66 L171.1 547.12 L172.1 547.57 L173.1 548.01 L174.1 548.44 L175.1 548.86 L176.1 549.28 L177.1 549.68 L178.1 550.08 L179.1 550.47 L180.1 550.85 L181.1 551.22 L182.1 551.59 L183.1 551.95 L184.1 552.3 L185.1 552.64 L186.1 552.98 L187.1 553.31 L188.1 553.63 L189.1 553.94 L190.1 554.25 L191.1 554.55 L192.1 554.84 L193.1 555.13 L194.1 555.41 L195.1 555.68 L196.1 555.94 L197.1 556.2 L198.1 556.45 L199.1 556.7 L200.1 556.93 L201.1 557.16 L202.1 557.39 L203.1 557.6 L204.1 557.81 L205.1 558.01 L206.1 558.21 L207.1 558.4 L208.1 558.58 L209.1 558.76 L210.1 558.93 L211.1 559.09 L212.1 559.25 L213.1 559.4 L214.1 559.55 L215.1 559.68 L216.1 559.82 L217.1 559.94 L218.1 560.06 L219.1 560.17 L220.1 560.28 L221.1 560.38 L222.1 560.48 L223.1 560.57 L224.1 560.65 L225.1 560.73 L226.1 560.8 L227.1 560.86 L228.1 560.92 L229.1 560.98 L230.1 561.02 L231.1 561.07 L232.1 561.1 L233.1 561.13 L234.1 561.16 L235.1 561.18 L236.1 561.19 L237.1 561.2 L238.1 561.2 L239.1 561.2 L240.1 561.19 L241.1 561.18 L242.1 561.16 L243.1 561.14 L244.1 561.11 L245.1 561.07 L246.1 561.03 L247.1 560.99 L248.1 560.94 L249.1 560.89" stroke="#EB6235"/><path d="M29.1 457.65 L30.1 457.68 L31.1 457.74 L32.1 457.81 L33.1 457.91 L34.1 458.02 L35.1 458.16 L36.1 458.31 L37.1 458.49 L38.1 458.68 L39.1 458.89 L40.1 459.12 L41.1 459.37 L42.1 459.63 L43.1 459.91 L44.1 460.21 L45.1 460.53 L46.1 460.86 L47.1 461.21 L48.1 461.57 L49.1 461.95 L50.1 462.34 L51.1 462.75 L52.1 463.17 L53.1 463.6 L54.1 464.05 L55.1 464.52 L56.1 464.99 L57.1 465.48 L58.1 465.98 L59.1 466.49 L60.1 467.02 L61.1 467.55 L62.1 468.1 L63.1 468.66 L64.1 469.23 L65.1 469.81 L66.1 470.4 L67.1 471 L68.1 471.61 L69.1 472.24 L70.1 472.87 L71.1 473.52 L72.1 474.17 L73.1 474.84 L74.1 475.52 L75.1 476.21 L76.1 476.91 L77.1 477.62 L78.1 478.35 L79.1 479.08 L80.1 479.83 L81.1 480.59 L82.1 481.36 L83.1 482.14 L84.1 482.93 L85.1 483.73 L86.1 484.55 L87.1 485.38 L88.1 486.22 L89.1 487.07 L90.1 487.93 L91.1 488.8 L92.1 489.68 L93.1 490.57 L94.1 491.46 L95.1 492.37 L96.1 493.28 L97.1 494.2 L98.1 495.12 L99.1 496.05 L100.1 496.98 L101.1 497.92 L102.1 498.86 L103.1 499.8 L104.1 500.74 L105.1 501.69 L106.1 502.64 L107.1 503.59 L108.1 504.54 L109.1 505.49 L110.1 506.44 L111.1 507.38 L112.1 508.33 L113.1 509.28 L114.1 510.22 L115.1 511.16 L116.1 512.1 L117.1 513.04 L118.1 513.98 L119.1 514.92 L120.1 515.85 L121.1 516.78 L122.1 517.71 L123.1 518.63 L124.1 519.56 L125.1 520.48 L126.1 521.39 L127.1 522.3 L128.1 523.21 L129.1 524.12 L130.1 525.02 L131.1 525.91 L132.1 526.8 L133.1 527.68 L134.1 528.56 L135.1 529.43 L136.1 530.3 L137.1 531.16 L138.1 532.01 L139.1 532.85 L140.1 533.69 L141.1 534.51 L142.1 535.33 L143.1 536.14 L144.1 536.95 L145.1 537.74 L146.1 538.52 L147.1 539.29 L148.1 540.05 L149.1 540.8 L150.1 541.54 L151.1 542.27 L152.1 542.98 L153.1 543.69 L154.1 544.38 L155.1 545.06 L156.1 545.72 L157.1 546.37 L158.1 547.01 L159.1 547.63 L160.1 548.24 L161.1 548.83 L162.1 549.41 L163.1 549.97 L164.1 550.52 L165.1 551.05 L166.1 551.56 L167.1 552.06 L168.1 552.55 L169.1 553.01 L170.1 553.47 L171.1 553.91 L172.1 554.33 L173.1 554.74 L174.1 555.14 L175.1 555.52 L176.1 555.89 L177.1 556.25 L178.1 556.59 L179.1 556.92 L180.1 557.24 L181.1 557.55 L182.1 557.85 L183.1 558.13 L184.1 558.41 L185.1 558.67 L186.1 558.92 L187.1 559.16 L188.1 559.4 L189.1 559.62 L190.1 559.83 L191.1 560.03 L192.1 560.22 L193.1 560.4 L194.1 560.57 L195.1 560.74 L196.1 560.89 L197.1 561.04 L198.1 561.17 L199.1 561.3 L200.1 561.42 L201.1 561.53 L202.1 561.64 L203.1 561.73 L204.1 561.82 L205.1 561.9 L206.1 561.98 L207.1 562.05 L208.1 562.11 L209.1 562.16 L210.1 562.21 L211.1 562.25 L212.1 562.29 L213.1 562.31 L214.1 562.34 L215.1 562.36 L216.1 562.37 L217.1 562.38 L218.1 562.38 L219.1 562.38 L220.1 562.37 L221.1 562.36 L222.1 562.35 L223.1 562.33 L224.1 562.31 L225.1 562.28 L226.1 562.25 L227.1 562.22 L228.1 562.18 L229.1 562.15 L230.1 562.1 L231.1 562.06 L232.1 562.01 L233.1 561.97 L234.1 561.91 L235.1 561.86 L236.1 561.81 L237.1 561.75 L238.1 561.7 L239.1 561.64 L240.1 561.58 L241.1 561.52 L242.1 561.46 L243.1 561.4 L244.1 561.34 L245.1 561.28 L246.1 561.22 L247.1 561.16 L248.1 561.1 L249.1 561.04" stroke="#8778B3"/><path d="M29.1 443.11 L30.1 443.16 L31.1 443.24 L32.1 443.35 L33.1 443.49 L34.1 443.65 L35.1 443.83 L36.1 444.05 L37.1 444.29 L38.1 444.55 L39.1 444.84 L40.1 445.15 L41.1 445.48 L42.1 445.84 L43.1 446.22 L44.1 446.62 L45.1 447.05 L46.1 447.49 L47.1 447.96 L48.1 448.45 L49.1 448.95 L50.1 449.48 L51.1 450.02 L52.1 450.59 L53.1 451.17 L54.1 451.77 L55.1 452.38 L56.1 453.02 L57.1 453.67 L58.1 454.33 L59.1 455.01 L60.1 455.71 L61.1 456.42 L62.1 457.14 L63.1 457.88 L64.1 458.63 L65.1 459.4 L66.1 460.18 L67.1 460.97 L68.1 461.78 L69.1 462.6 L70.1 463.44 L71.1 464.28 L72.1 465.15 L73.1 466.02 L74.1 466.91 L75.1 467.82 L76.1 468.74 L77.1 469.67 L78.1 470.62 L79.1 471.58 L80.1 472.55 L81.1 473.54 L82.1 474.54 L83.1 475.56 L84.1 476.6 L85.1 477.64 L86.1 478.7 L87.1 479.78 L88.1 480.87 L89.1 481.97 L90.1 483.09 L91.1 484.22 L92.1 485.35 L93.1 486.5 L94.1 487.66 L95.1 488.83 L96.1 490 L97.1 491.19 L98.1 492.37 L99.1 493.57 L100.1 494.77 L101.1 495.97 L102.1 497.18 L103.1 498.38 L104.1 499.59 L105.1 500.81 L106.1 502.02 L107.1 503.23 L108.1 504.44 L109.1 505.64 L110.1 506.85 L111.1 508.05 L112.1 509.25 L113.1 510.45 L114.1 511.64 L115.1 512.83 L116.1 514.01 L117.1 515.19 L118.1 516.37 L119.1 517.54 L120.1 518.71 L121.1 519.87 L122.1 521.03 L123.1 522.18 L124.1 523.33 L125.1 524.47 L126.1 525.6 L127.1 526.73 L128.1 527.85 L129.1 528.96 L130.1 530.06 L131.1 531.16 L132.1 532.25 L133.1 533.32 L134.1 534.39 L135.1 535.45 L136.1 536.49 L137.1 537.53 L138.1 538.55 L139.1 539.56 L140.1 540.56 L141.1 541.54 L142.1 542.52 L143.1 543.47 L144.1 544.42 L145.1 545.35 L146.1 546.26 L147.1 547.16 L148.1 548.04 L149.1 548.91 L150.1 549.76 L151.1 550.59 L152.1 551.4 L153.1 552.2 L154.1 552.98 L155.1 553.74 L156.1 554.47 L157.1 555.19 L158.1 555.89 L159.1 556.57 L160.1 557.22 L161.1 557.86 L162.1 558.47 L163.1 559.06 L164.1 559.63 L165.1 560.17 L166.1 560.69 L167.1 561.19 L168.1 561.66 L169.1 562.12 L170.1 562.55 L171.1 562.96 L172.1 563.35 L173.1 563.72 L174.1 564.07 L175.1 564.4 L176.1 564.71 L177.1 565 L178.1 565.28 L179.1 565.53 L180.1 565.77 L181.1 565.99 L182.1 566.19 L183.1 566.38 L184.1 566.55 L185.1 566.71 L186.1 566.85 L187.1 566.97 L188.1 567.08 L189.1 567.18 L190.1 567.26 L191.1 567.33 L192.1 567.39 L193.1 567.43 L194.1 567.46 L195.1 567.48 L196.1 567.48 L197.1 567.48 L198.1 567.47 L199.1 567.44 L200.1 567.4 L201.1 567.36 L202.1 567.3 L203.1 567.24 L204.1 567.17 L205.1 567.09 L206.1 567 L207.1 566.91 L208.1 566.8 L209.1 566.69 L210.1 566.58 L211.1 566.46 L212.1 566.33 L213.1 566.2 L214.1 566.06 L215.1 565.92 L216.1 565.78 L217.1 565.63 L218.1 565.48 L219.1 565.32 L220.1 565.16 L221.1 565.01 L222.1 564.84 L223.1 564.68 L224.1 564.52 L225.1 564.36 L226.1 564.19 L227.1 564.03 L228.1 563.87 L229.1 563.7 L230.1 563.54 L231.1 563.39 L232.1 563.23 L233.1 563.07 L234.1 562.92 L235.1 562.77 L236.1 562.63 L237.1 562.49 L238.1 562.35 L239.1 562.22 L240.1 562.1 L241.1 561.98 L242.1 561.86 L243.1 561.75 L244.1 561.65 L245.1 561.56 L246.1 561.47 L247.1 561.39 L248.1 561.32 L249.1 561.26" stroke="#C56E1A"/></g><path d="M27.5 436.4 V573.7 M27.5 561.5 H252.9" stroke="#404040" stroke-width="1.0" fill="none"/><path d="M27.5 572.79 h2.2 M27.5 569.02 h2.2 M27.5 565.26 h2.2 M27.5 561.5 h3.2 M27.5 557.74 h2.2 M27.5 553.98 h2.2 M27.5 550.21 h2.2 M27.5 546.45 h2.2 M27.5 542.69 h3.2 M27.5 538.93 h2.2 M27.5 535.17 h2.2 M27.5 531.4 h2.2 M27.5 527.64 h2.2 M27.5 523.88 h3.2 M27.5 520.12 h2.2 M27.5 516.36 h2.2 M27.5 512.59 h2.2 M27.5 508.83 h2.2 M27.5 505.07 h3.2 M27.5 501.31 h2.2 M27.5 497.55 h2.2 M27.5 493.78 h2.2 M27.5 490.02 h2.2 M27.5 486.26 h3.2 M27.5 482.5 h2.2 M27.5 478.74 h2.2 M27.5 474.97 h2.2 M27.5 471.21 h2.2 M27.5 467.45 h3.2 M27.5 463.69 h2.2 M27.5 459.93 h2.2 M27.5 456.16 h2.2 M27.5 452.4 h2.2 M27.5 448.64 h3.2 M27.5 444.88 h2.2 M27.5 441.12 h2.2 M27.5 437.35 h2.2" stroke="#404040" stroke-width="1.0" fill="none"/><text transform="translate(25.1 564.5) scale(1 1.13)" text-anchor="end" font-size="8.7">0.0</text><text transform="translate(25.1 545.69) scale(1 1.13)" text-anchor="end" font-size="8.7">0.1</text><text transform="translate(25.1 526.88) scale(1 1.13)" text-anchor="end" font-size="8.7">0.2</text><text transform="translate(25.1 508.07) scale(1 1.13)" text-anchor="end" font-size="8.7">0.3</text><text transform="translate(25.1 489.26) scale(1 1.13)" text-anchor="end" font-size="8.7">0.4</text><text transform="translate(25.1 470.45) scale(1 1.13)" text-anchor="end" font-size="8.7">0.5</text><text transform="translate(25.1 451.64) scale(1 1.13)" text-anchor="end" font-size="8.7">0.6</text><path d="M105.8 561.5 v-3" stroke="#404040" stroke-width="0.8" fill="none"/><text x="106.2" y="569.2" text-anchor="middle" font-family="Liberation Sans" font-style="italic" font-size="9.6">π</text><rect x="101.8" y="571.1" width="6.7" height="0.95" fill="#111"/><text transform="translate(105.8 581.9) scale(1 1.08)" text-anchor="middle" font-size="8.8">6</text><path d="M184.1 561.5 v-3" stroke="#404040" stroke-width="0.8" fill="none"/><text x="184.5" y="569.2" text-anchor="middle" font-family="Liberation Sans" font-style="italic" font-size="9.6">π</text><rect x="180.1" y="571.1" width="6.7" height="0.95" fill="#111"/><text transform="translate(184.1 581.9) scale(1 1.08)" text-anchor="middle" font-size="8.8">3</text><text x="258.9" y="566.6" font-family="Liberation Serif" font-style="italic" font-size="10.6" dx="1.0">ρ</text><text x="118.2" y="408.7" font-size="8.8"><tspan font-style="italic">v</tspan>=3/4,<tspan font-style="italic" dx="5.1">β</tspan>=1</text><path d="M2.7 418.8 L-0.1 423.15 L2.7 427.5" fill="none" stroke="#111" stroke-width="0.95"/><text x="3.1" y="425.6" font-family="Liberation Serif" font-style="italic" font-size="8.9">T</text><path d="M5 417.1 L6.55 415.6 L8.1 417.1" fill="none" stroke="#111" stroke-width="0.9"/><text x="10.3" y="417.2" font-family="Liberation Serif" font-style="italic" font-size="7.4">ρ</text><text x="9.6" y="427.8" font-family="Liberation Serif" font-style="italic" font-size="7.2">ρ</text><path d="M14.8 418.8 L17.6 423.15 L14.8 427.5" fill="none" stroke="#111" stroke-width="0.95"/><text x="17.8" y="420.4" font-family="Liberation Serif" font-style="italic" font-size="7.1">D</text><text x="18.4" y="428.1" font-family="Liberation Serif" font-style="italic" font-size="7.1">β</text><rect x="26" y="422.4" width="4.9" height="0.95" fill="#111"/><path d="M36 418.8 L33.2 423.15 L36 427.5" fill="none" stroke="#111" stroke-width="0.95"/><text x="36.4" y="425.6" font-family="Liberation Serif" font-style="italic" font-size="8.9">T</text><path d="M38.3 417.1 L39.85 415.6 L41.4 417.1" fill="none" stroke="#111" stroke-width="0.9"/><text x="43.6" y="417.5" font-family="Liberation Serif" font-style="italic" font-size="7.4">t</text><text x="42.9" y="427.5" font-family="Liberation Serif" font-style="italic" font-size="7.2">t</text><path d="M46 418.8 L48.8 423.15 L46 427.5" fill="none" stroke="#111" stroke-width="0.95"/><text x="49" y="420.4" font-family="Liberation Serif" font-style="italic" font-size="7.1">D</text><text x="49.6" y="428.1" font-family="Liberation Serif" font-style="italic" font-size="7.1">β</text><rect x="270" y="436.1" width="62.3" height="110.1" fill="#fff" stroke="#2a2a2a" stroke-width="1.3"/><path d="M277.2 449 h14.8" stroke="#5E81B5" stroke-width="1.3"/><text x="297" y="451.8" font-size="8.7"><tspan font-family="Liberation Serif" font-style="italic" font-size="9.4">ξ</tspan><tspan dx="0.6">=−1</tspan></text><path d="M277.2 465.8 h14.8" stroke="#E19C24" stroke-width="1.3"/><text x="297" y="468.6" font-size="8.7"><tspan font-family="Liberation Serif" font-style="italic" font-size="9.4">ξ</tspan><tspan dx="0.6">=−1/2</tspan></text><path d="M277.2 482.6 h14.8" stroke="#8FB032" stroke-width="1.3"/><text x="297" y="485.4" font-size="8.7"><tspan font-family="Liberation Serif" font-style="italic" font-size="9.4">ξ</tspan><tspan dx="0.6">=0</tspan></text><path d="M277.2 499.4 h14.8" stroke="#EB6235" stroke-width="1.3"/><text x="297" y="502.2" font-size="8.7"><tspan font-family="Liberation Serif" font-style="italic" font-size="9.4">ξ</tspan><tspan dx="0.6">=1/8</tspan></text><path d="M277.2 516.2 h14.8" stroke="#8778B3" stroke-width="1.3"/><text x="297" y="519" font-size="8.7"><tspan font-family="Liberation Serif" font-style="italic" font-size="9.4">ξ</tspan><tspan dx="0.6">=1/2</tspan></text><path d="M277.2 533 h14.8" stroke="#C56E1A" stroke-width="1.3"/><text x="297" y="535.8" font-size="8.7"><tspan font-family="Liberation Serif" font-style="italic" font-size="9.4">ξ</tspan><tspan dx="0.6">=1</tspan></text><g fill="none" stroke-width="1.45" stroke-linejoin="round" stroke-linecap="round"><path d="M383.3 556.09 L384.3 556.04 L385.3 555.97 L386.3 555.87 L387.3 555.74 L388.3 555.6 L389.3 555.43 L390.3 555.24 L391.3 555.03 L392.3 554.8 L393.3 554.54 L394.3 554.27 L395.3 553.97 L396.3 553.66 L397.3 553.32 L398.3 552.97 L399.3 552.6 L400.3 552.21 L401.3 551.8 L402.3 551.37 L403.3 550.92 L404.3 550.46 L405.3 549.98 L406.3 549.49 L407.3 548.98 L408.3 548.46 L409.3 547.92 L410.3 547.36 L411.3 546.79 L412.3 546.21 L413.3 545.61 L414.3 545 L415.3 544.38 L416.3 543.74 L417.3 543.09 L418.3 542.43 L419.3 541.75 L420.3 541.06 L421.3 540.36 L422.3 539.65 L423.3 538.93 L424.3 538.19 L425.3 537.45 L426.3 536.7 L427.3 535.94 L428.3 535.17 L429.3 534.4 L430.3 533.62 L431.3 532.84 L432.3 532.06 L433.3 531.28 L434.3 530.49 L435.3 529.71 L436.3 528.93 L437.3 528.15 L438.3 527.38 L439.3 526.61 L440.3 525.84 L441.3 525.09 L442.3 524.34 L443.3 523.6 L444.3 522.87 L445.3 522.15 L446.3 521.44 L447.3 520.75 L448.3 520.07 L449.3 519.41 L450.3 518.76 L451.3 518.13 L452.3 517.52 L453.3 516.93 L454.3 516.35 L455.3 515.8 L456.3 515.27 L457.3 514.77 L458.3 514.29 L459.3 513.82 L460.3 513.39 L461.3 512.97 L462.3 512.58 L463.3 512.2 L464.3 511.85 L465.3 511.53 L466.3 511.22 L467.3 510.93 L468.3 510.67 L469.3 510.42 L470.3 510.2 L471.3 510 L472.3 509.82 L473.3 509.65 L474.3 509.51 L475.3 509.39 L476.3 509.29 L477.3 509.21 L478.3 509.15 L479.3 509.11 L480.3 509.08 L481.3 509.08 L482.3 509.09 L483.3 509.13 L484.3 509.18 L485.3 509.25 L486.3 509.34 L487.3 509.45 L488.3 509.58 L489.3 509.72 L490.3 509.88 L491.3 510.06 L492.3 510.26 L493.3 510.48 L494.3 510.71 L495.3 510.96 L496.3 511.23 L497.3 511.51 L498.3 511.81 L499.3 512.13 L500.3 512.46 L501.3 512.81 L502.3 513.17 L503.3 513.55 L504.3 513.95 L505.3 514.36 L506.3 514.79 L507.3 515.23 L508.3 515.69 L509.3 516.17 L510.3 516.65 L511.3 517.16 L512.3 517.67 L513.3 518.21 L514.3 518.75 L515.3 519.31 L516.3 519.89 L517.3 520.48 L518.3 521.08 L519.3 521.69 L520.3 522.32 L521.3 522.97 L522.3 523.62 L523.3 524.29 L524.3 524.97 L525.3 525.66 L526.3 526.37 L527.3 527.09 L528.3 527.81 L529.3 528.55 L530.3 529.3 L531.3 530.05 L532.3 530.81 L533.3 531.57 L534.3 532.33 L535.3 533.1 L536.3 533.87 L537.3 534.64 L538.3 535.41 L539.3 536.18 L540.3 536.95 L541.3 537.71 L542.3 538.47 L543.3 539.22 L544.3 539.96 L545.3 540.69 L546.3 541.42 L547.3 542.13 L548.3 542.84 L549.3 543.53 L550.3 544.21 L551.3 544.87 L552.3 545.52 L553.3 546.14 L554.3 546.76 L555.3 547.35 L556.3 547.92 L557.3 548.47 L558.3 549 L559.3 549.5 L560.3 549.99 L561.3 550.45 L562.3 550.89 L563.3 551.31 L564.3 551.7 L565.3 552.08 L566.3 552.44 L567.3 552.78 L568.3 553.11 L569.3 553.41 L570.3 553.7 L571.3 553.97 L572.3 554.23 L573.3 554.47 L574.3 554.7 L575.3 554.91 L576.3 555.11 L577.3 555.29 L578.3 555.47 L579.3 555.63 L580.3 555.78 L581.3 555.92 L582.3 556.04 L583.3 556.16 L584.3 556.27 L585.3 556.37 L586.3 556.47 L587.3 556.55 L588.3 556.63 L589.3 556.7 L590.3 556.77 L591.3 556.83 L592.3 556.89 L593.3 556.94 L594.3 556.99 L595.3 557.03 L596.3 557.08 L597.3 557.12 L598.3 557.16 L599.3 557.19 L600.3 557.23 L601.3 557.27" stroke="#5E81B5"/><path d="M383.3 529.31 L384.3 529.29 L385.3 529.27 L386.3 529.25 L387.3 529.21 L388.3 529.18 L389.3 529.13 L390.3 529.08 L391.3 529.03 L392.3 528.96 L393.3 528.9 L394.3 528.82 L395.3 528.74 L396.3 528.66 L397.3 528.57 L398.3 528.48 L399.3 528.38 L400.3 528.27 L401.3 528.16 L402.3 528.05 L403.3 527.93 L404.3 527.81 L405.3 527.68 L406.3 527.54 L407.3 527.41 L408.3 527.26 L409.3 527.12 L410.3 526.97 L411.3 526.81 L412.3 526.66 L413.3 526.49 L414.3 526.33 L415.3 526.15 L416.3 525.98 L417.3 525.8 L418.3 525.61 L419.3 525.42 L420.3 525.23 L421.3 525.03 L422.3 524.83 L423.3 524.62 L424.3 524.41 L425.3 524.19 L426.3 523.98 L427.3 523.76 L428.3 523.53 L429.3 523.31 L430.3 523.09 L431.3 522.86 L432.3 522.64 L433.3 522.42 L434.3 522.2 L435.3 521.98 L436.3 521.77 L437.3 521.55 L438.3 521.35 L439.3 521.14 L440.3 520.95 L441.3 520.75 L442.3 520.57 L443.3 520.39 L444.3 520.22 L445.3 520.05 L446.3 519.9 L447.3 519.75 L448.3 519.61 L449.3 519.49 L450.3 519.37 L451.3 519.26 L452.3 519.17 L453.3 519.09 L454.3 519.02 L455.3 518.96 L456.3 518.92 L457.3 518.89 L458.3 518.88 L459.3 518.87 L460.3 518.89 L461.3 518.91 L462.3 518.94 L463.3 518.99 L464.3 519.05 L465.3 519.12 L466.3 519.2 L467.3 519.29 L468.3 519.39 L469.3 519.5 L470.3 519.62 L471.3 519.75 L472.3 519.89 L473.3 520.04 L474.3 520.19 L475.3 520.36 L476.3 520.53 L477.3 520.72 L478.3 520.91 L479.3 521.11 L480.3 521.31 L481.3 521.53 L482.3 521.75 L483.3 521.98 L484.3 522.21 L485.3 522.46 L486.3 522.71 L487.3 522.96 L488.3 523.23 L489.3 523.5 L490.3 523.78 L491.3 524.06 L492.3 524.35 L493.3 524.65 L494.3 524.95 L495.3 525.26 L496.3 525.58 L497.3 525.9 L498.3 526.23 L499.3 526.57 L500.3 526.91 L501.3 527.26 L502.3 527.61 L503.3 527.97 L504.3 528.34 L505.3 528.71 L506.3 529.09 L507.3 529.47 L508.3 529.86 L509.3 530.26 L510.3 530.66 L511.3 531.06 L512.3 531.47 L513.3 531.89 L514.3 532.31 L515.3 532.74 L516.3 533.17 L517.3 533.61 L518.3 534.05 L519.3 534.5 L520.3 534.96 L521.3 535.42 L522.3 535.89 L523.3 536.36 L524.3 536.84 L525.3 537.33 L526.3 537.82 L527.3 538.31 L528.3 538.82 L529.3 539.32 L530.3 539.83 L531.3 540.34 L532.3 540.85 L533.3 541.37 L534.3 541.88 L535.3 542.4 L536.3 542.91 L537.3 543.43 L538.3 543.94 L539.3 544.44 L540.3 544.95 L541.3 545.45 L542.3 545.95 L543.3 546.44 L544.3 546.92 L545.3 547.4 L546.3 547.87 L547.3 548.34 L548.3 548.79 L549.3 549.24 L550.3 549.67 L551.3 550.1 L552.3 550.51 L553.3 550.91 L554.3 551.3 L555.3 551.68 L556.3 552.04 L557.3 552.38 L558.3 552.71 L559.3 553.02 L560.3 553.32 L561.3 553.6 L562.3 553.87 L563.3 554.12 L564.3 554.36 L565.3 554.58 L566.3 554.79 L567.3 554.99 L568.3 555.18 L569.3 555.35 L570.3 555.52 L571.3 555.67 L572.3 555.81 L573.3 555.94 L574.3 556.07 L575.3 556.18 L576.3 556.29 L577.3 556.39 L578.3 556.48 L579.3 556.56 L580.3 556.64 L581.3 556.71 L582.3 556.77 L583.3 556.83 L584.3 556.89 L585.3 556.94 L586.3 556.99 L587.3 557.03 L588.3 557.07 L589.3 557.11 L590.3 557.15 L591.3 557.18 L592.3 557.22 L593.3 557.25 L594.3 557.29 L595.3 557.32 L596.3 557.36 L597.3 557.4 L598.3 557.44 L599.3 557.48 L600.3 557.52 L601.3 557.57" stroke="#E19C24"/><path d="M383.3 502.53 L384.3 502.55 L385.3 502.58 L386.3 502.63 L387.3 502.68 L388.3 502.75 L389.3 502.83 L390.3 502.92 L391.3 503.02 L392.3 503.13 L393.3 503.25 L394.3 503.38 L395.3 503.52 L396.3 503.66 L397.3 503.82 L398.3 503.98 L399.3 504.16 L400.3 504.34 L401.3 504.53 L402.3 504.73 L403.3 504.94 L404.3 505.15 L405.3 505.37 L406.3 505.6 L407.3 505.83 L408.3 506.07 L409.3 506.32 L410.3 506.58 L411.3 506.84 L412.3 507.1 L413.3 507.37 L414.3 507.65 L415.3 507.93 L416.3 508.22 L417.3 508.51 L418.3 508.8 L419.3 509.1 L420.3 509.4 L421.3 509.7 L422.3 510.01 L423.3 510.32 L424.3 510.63 L425.3 510.94 L426.3 511.26 L427.3 511.58 L428.3 511.9 L429.3 512.22 L430.3 512.55 L431.3 512.89 L432.3 513.22 L433.3 513.56 L434.3 513.91 L435.3 514.25 L436.3 514.6 L437.3 514.96 L438.3 515.32 L439.3 515.68 L440.3 516.05 L441.3 516.42 L442.3 516.8 L443.3 517.18 L444.3 517.56 L445.3 517.96 L446.3 518.35 L447.3 518.75 L448.3 519.16 L449.3 519.57 L450.3 519.98 L451.3 520.4 L452.3 520.82 L453.3 521.25 L454.3 521.69 L455.3 522.12 L456.3 522.57 L457.3 523.02 L458.3 523.47 L459.3 523.92 L460.3 524.38 L461.3 524.85 L462.3 525.31 L463.3 525.77 L464.3 526.24 L465.3 526.71 L466.3 527.17 L467.3 527.64 L468.3 528.1 L469.3 528.57 L470.3 529.03 L471.3 529.5 L472.3 529.96 L473.3 530.42 L474.3 530.87 L475.3 531.33 L476.3 531.78 L477.3 532.23 L478.3 532.67 L479.3 533.11 L480.3 533.55 L481.3 533.98 L482.3 534.41 L483.3 534.83 L484.3 535.25 L485.3 535.66 L486.3 536.07 L487.3 536.48 L488.3 536.88 L489.3 537.27 L490.3 537.67 L491.3 538.06 L492.3 538.44 L493.3 538.82 L494.3 539.2 L495.3 539.57 L496.3 539.94 L497.3 540.3 L498.3 540.66 L499.3 541.01 L500.3 541.37 L501.3 541.71 L502.3 542.06 L503.3 542.4 L504.3 542.73 L505.3 543.06 L506.3 543.39 L507.3 543.71 L508.3 544.03 L509.3 544.35 L510.3 544.66 L511.3 544.97 L512.3 545.27 L513.3 545.57 L514.3 545.87 L515.3 546.16 L516.3 546.45 L517.3 546.74 L518.3 547.03 L519.3 547.31 L520.3 547.59 L521.3 547.88 L522.3 548.15 L523.3 548.43 L524.3 548.71 L525.3 548.99 L526.3 549.26 L527.3 549.54 L528.3 549.82 L529.3 550.09 L530.3 550.36 L531.3 550.63 L532.3 550.9 L533.3 551.17 L534.3 551.43 L535.3 551.69 L536.3 551.95 L537.3 552.21 L538.3 552.46 L539.3 552.71 L540.3 552.95 L541.3 553.19 L542.3 553.43 L543.3 553.66 L544.3 553.89 L545.3 554.11 L546.3 554.33 L547.3 554.54 L548.3 554.75 L549.3 554.95 L550.3 555.14 L551.3 555.33 L552.3 555.51 L553.3 555.68 L554.3 555.85 L555.3 556 L556.3 556.15 L557.3 556.29 L558.3 556.42 L559.3 556.54 L560.3 556.65 L561.3 556.76 L562.3 556.85 L563.3 556.93 L564.3 557.01 L565.3 557.08 L566.3 557.14 L567.3 557.2 L568.3 557.25 L569.3 557.29 L570.3 557.33 L571.3 557.37 L572.3 557.39 L573.3 557.42 L574.3 557.44 L575.3 557.46 L576.3 557.47 L577.3 557.48 L578.3 557.49 L579.3 557.49 L580.3 557.5 L581.3 557.5 L582.3 557.5 L583.3 557.5 L584.3 557.5 L585.3 557.51 L586.3 557.51 L587.3 557.51 L588.3 557.51 L589.3 557.52 L590.3 557.53 L591.3 557.54 L592.3 557.55 L593.3 557.57 L594.3 557.59 L595.3 557.62 L596.3 557.64 L597.3 557.68 L598.3 557.72 L599.3 557.76 L600.3 557.81 L601.3 557.87" stroke="#8FB032"/><path d="M383.3 495.83 L384.3 495.86 L385.3 495.91 L386.3 495.97 L387.3 496.05 L388.3 496.15 L389.3 496.26 L390.3 496.38 L391.3 496.52 L392.3 496.67 L393.3 496.84 L394.3 497.02 L395.3 497.21 L396.3 497.41 L397.3 497.63 L398.3 497.86 L399.3 498.1 L400.3 498.36 L401.3 498.62 L402.3 498.9 L403.3 499.19 L404.3 499.48 L405.3 499.79 L406.3 500.11 L407.3 500.44 L408.3 500.78 L409.3 501.12 L410.3 501.48 L411.3 501.84 L412.3 502.21 L413.3 502.59 L414.3 502.98 L415.3 503.37 L416.3 503.77 L417.3 504.18 L418.3 504.6 L419.3 505.01 L420.3 505.44 L421.3 505.87 L422.3 506.3 L423.3 506.74 L424.3 507.18 L425.3 507.63 L426.3 508.08 L427.3 508.53 L428.3 508.99 L429.3 509.45 L430.3 509.92 L431.3 510.39 L432.3 510.87 L433.3 511.35 L434.3 511.83 L435.3 512.32 L436.3 512.81 L437.3 513.31 L438.3 513.81 L439.3 514.31 L440.3 514.82 L441.3 515.34 L442.3 515.86 L443.3 516.38 L444.3 516.9 L445.3 517.43 L446.3 517.96 L447.3 518.5 L448.3 519.04 L449.3 519.58 L450.3 520.13 L451.3 520.68 L452.3 521.24 L453.3 521.79 L454.3 522.35 L455.3 522.91 L456.3 523.48 L457.3 524.05 L458.3 524.62 L459.3 525.19 L460.3 525.76 L461.3 526.33 L462.3 526.9 L463.3 527.47 L464.3 528.04 L465.3 528.6 L466.3 529.17 L467.3 529.73 L468.3 530.28 L469.3 530.84 L470.3 531.39 L471.3 531.93 L472.3 532.48 L473.3 533.01 L474.3 533.54 L475.3 534.07 L476.3 534.59 L477.3 535.1 L478.3 535.61 L479.3 536.11 L480.3 536.6 L481.3 537.09 L482.3 537.57 L483.3 538.04 L484.3 538.5 L485.3 538.96 L486.3 539.41 L487.3 539.85 L488.3 540.29 L489.3 540.72 L490.3 541.14 L491.3 541.55 L492.3 541.96 L493.3 542.36 L494.3 542.76 L495.3 543.14 L496.3 543.52 L497.3 543.9 L498.3 544.27 L499.3 544.63 L500.3 544.98 L501.3 545.33 L502.3 545.67 L503.3 546 L504.3 546.33 L505.3 546.65 L506.3 546.96 L507.3 547.27 L508.3 547.57 L509.3 547.87 L510.3 548.16 L511.3 548.44 L512.3 548.72 L513.3 548.99 L514.3 549.26 L515.3 549.52 L516.3 549.77 L517.3 550.02 L518.3 550.27 L519.3 550.51 L520.3 550.75 L521.3 550.99 L522.3 551.22 L523.3 551.45 L524.3 551.68 L525.3 551.9 L526.3 552.13 L527.3 552.35 L528.3 552.57 L529.3 552.78 L530.3 552.99 L531.3 553.2 L532.3 553.41 L533.3 553.62 L534.3 553.82 L535.3 554.02 L536.3 554.21 L537.3 554.4 L538.3 554.59 L539.3 554.77 L540.3 554.95 L541.3 555.13 L542.3 555.3 L543.3 555.47 L544.3 555.63 L545.3 555.79 L546.3 555.94 L547.3 556.09 L548.3 556.24 L549.3 556.37 L550.3 556.51 L551.3 556.64 L552.3 556.76 L553.3 556.87 L554.3 556.98 L555.3 557.09 L556.3 557.18 L557.3 557.27 L558.3 557.35 L559.3 557.42 L560.3 557.49 L561.3 557.54 L562.3 557.59 L563.3 557.64 L564.3 557.67 L565.3 557.71 L566.3 557.73 L567.3 557.75 L568.3 557.77 L569.3 557.78 L570.3 557.79 L571.3 557.79 L572.3 557.79 L573.3 557.79 L574.3 557.78 L575.3 557.77 L576.3 557.76 L577.3 557.75 L578.3 557.74 L579.3 557.73 L580.3 557.71 L581.3 557.7 L582.3 557.68 L583.3 557.67 L584.3 557.66 L585.3 557.65 L586.3 557.64 L587.3 557.63 L588.3 557.63 L589.3 557.62 L590.3 557.62 L591.3 557.63 L592.3 557.64 L593.3 557.65 L594.3 557.67 L595.3 557.69 L596.3 557.72 L597.3 557.75 L598.3 557.79 L599.3 557.83 L600.3 557.88 L601.3 557.94" stroke="#EB6235"/><path d="M383.3 475.74 L384.3 475.8 L385.3 475.89 L386.3 476.01 L387.3 476.15 L388.3 476.33 L389.3 476.53 L390.3 476.76 L391.3 477.01 L392.3 477.29 L393.3 477.6 L394.3 477.93 L395.3 478.29 L396.3 478.67 L397.3 479.07 L398.3 479.49 L399.3 479.94 L400.3 480.41 L401.3 480.9 L402.3 481.41 L403.3 481.94 L404.3 482.49 L405.3 483.06 L406.3 483.65 L407.3 484.26 L408.3 484.88 L409.3 485.52 L410.3 486.18 L411.3 486.86 L412.3 487.55 L413.3 488.25 L414.3 488.97 L415.3 489.71 L416.3 490.45 L417.3 491.21 L418.3 491.98 L419.3 492.77 L420.3 493.56 L421.3 494.37 L422.3 495.18 L423.3 496.01 L424.3 496.84 L425.3 497.69 L426.3 498.54 L427.3 499.4 L428.3 500.26 L429.3 501.14 L430.3 502.02 L431.3 502.91 L432.3 503.8 L433.3 504.7 L434.3 505.61 L435.3 506.52 L436.3 507.44 L437.3 508.36 L438.3 509.29 L439.3 510.22 L440.3 511.15 L441.3 512.09 L442.3 513.03 L443.3 513.97 L444.3 514.91 L445.3 515.86 L446.3 516.8 L447.3 517.75 L448.3 518.7 L449.3 519.64 L450.3 520.59 L451.3 521.53 L452.3 522.47 L453.3 523.41 L454.3 524.35 L455.3 525.28 L456.3 526.21 L457.3 527.14 L458.3 528.06 L459.3 528.98 L460.3 529.88 L461.3 530.78 L462.3 531.68 L463.3 532.56 L464.3 533.43 L465.3 534.3 L466.3 535.15 L467.3 535.99 L468.3 536.82 L469.3 537.64 L470.3 538.45 L471.3 539.25 L472.3 540.03 L473.3 540.8 L474.3 541.55 L475.3 542.3 L476.3 543.02 L477.3 543.73 L478.3 544.43 L479.3 545.11 L480.3 545.78 L481.3 546.43 L482.3 547.06 L483.3 547.68 L484.3 548.28 L485.3 548.86 L486.3 549.43 L487.3 549.99 L488.3 550.53 L489.3 551.05 L490.3 551.56 L491.3 552.05 L492.3 552.53 L493.3 552.99 L494.3 553.44 L495.3 553.87 L496.3 554.29 L497.3 554.69 L498.3 555.08 L499.3 555.46 L500.3 555.82 L501.3 556.17 L502.3 556.5 L503.3 556.82 L504.3 557.12 L505.3 557.41 L506.3 557.69 L507.3 557.95 L508.3 558.2 L509.3 558.44 L510.3 558.66 L511.3 558.87 L512.3 559.07 L513.3 559.25 L514.3 559.42 L515.3 559.58 L516.3 559.73 L517.3 559.87 L518.3 560 L519.3 560.12 L520.3 560.23 L521.3 560.33 L522.3 560.42 L523.3 560.51 L524.3 560.58 L525.3 560.65 L526.3 560.71 L527.3 560.77 L528.3 560.82 L529.3 560.86 L530.3 560.89 L531.3 560.92 L532.3 560.95 L533.3 560.97 L534.3 560.98 L535.3 560.99 L536.3 560.99 L537.3 560.99 L538.3 560.98 L539.3 560.97 L540.3 560.95 L541.3 560.94 L542.3 560.91 L543.3 560.88 L544.3 560.85 L545.3 560.82 L546.3 560.78 L547.3 560.74 L548.3 560.7 L549.3 560.66 L550.3 560.61 L551.3 560.56 L552.3 560.51 L553.3 560.45 L554.3 560.39 L555.3 560.33 L556.3 560.27 L557.3 560.2 L558.3 560.13 L559.3 560.06 L560.3 559.99 L561.3 559.91 L562.3 559.83 L563.3 559.75 L564.3 559.66 L565.3 559.58 L566.3 559.49 L567.3 559.41 L568.3 559.32 L569.3 559.23 L570.3 559.15 L571.3 559.06 L572.3 558.98 L573.3 558.89 L574.3 558.81 L575.3 558.73 L576.3 558.65 L577.3 558.57 L578.3 558.5 L579.3 558.43 L580.3 558.36 L581.3 558.29 L582.3 558.23 L583.3 558.17 L584.3 558.12 L585.3 558.07 L586.3 558.03 L587.3 557.99 L588.3 557.96 L589.3 557.93 L590.3 557.91 L591.3 557.89 L592.3 557.89 L593.3 557.89 L594.3 557.89 L595.3 557.91 L596.3 557.93 L597.3 557.96 L598.3 558 L599.3 558.04 L600.3 558.1 L601.3 558.17" stroke="#8778B3"/><path d="M383.3 448.96 L384.3 449.05 L385.3 449.2 L386.3 449.39 L387.3 449.62 L388.3 449.9 L389.3 450.23 L390.3 450.6 L391.3 451.01 L392.3 451.46 L393.3 451.95 L394.3 452.48 L395.3 453.06 L396.3 453.67 L397.3 454.32 L398.3 455 L399.3 455.72 L400.3 456.48 L401.3 457.27 L402.3 458.09 L403.3 458.95 L404.3 459.83 L405.3 460.75 L406.3 461.7 L407.3 462.68 L408.3 463.69 L409.3 464.73 L410.3 465.79 L411.3 466.88 L412.3 467.99 L413.3 469.13 L414.3 470.3 L415.3 471.48 L416.3 472.69 L417.3 473.92 L418.3 475.17 L419.3 476.44 L420.3 477.73 L421.3 479.04 L422.3 480.36 L423.3 481.7 L424.3 483.06 L425.3 484.43 L426.3 485.82 L427.3 487.22 L428.3 488.63 L429.3 490.05 L430.3 491.49 L431.3 492.93 L432.3 494.39 L433.3 495.85 L434.3 497.32 L435.3 498.79 L436.3 500.28 L437.3 501.77 L438.3 503.26 L439.3 504.76 L440.3 506.25 L441.3 507.76 L442.3 509.26 L443.3 510.76 L444.3 512.26 L445.3 513.76 L446.3 515.26 L447.3 516.75 L448.3 518.24 L449.3 519.72 L450.3 521.2 L451.3 522.67 L452.3 524.13 L453.3 525.58 L454.3 527.02 L455.3 528.45 L456.3 529.86 L457.3 531.26 L458.3 532.65 L459.3 534.03 L460.3 535.38 L461.3 536.72 L462.3 538.04 L463.3 539.34 L464.3 540.62 L465.3 541.89 L466.3 543.13 L467.3 544.35 L468.3 545.54 L469.3 546.72 L470.3 547.87 L471.3 549 L472.3 550.1 L473.3 551.18 L474.3 552.23 L475.3 553.26 L476.3 554.27 L477.3 555.24 L478.3 556.19 L479.3 557.12 L480.3 558.01 L481.3 558.88 L482.3 559.72 L483.3 560.53 L484.3 561.31 L485.3 562.07 L486.3 562.8 L487.3 563.5 L488.3 564.18 L489.3 564.83 L490.3 565.45 L491.3 566.05 L492.3 566.62 L493.3 567.16 L494.3 567.68 L495.3 568.18 L496.3 568.65 L497.3 569.09 L498.3 569.51 L499.3 569.9 L500.3 570.27 L501.3 570.62 L502.3 570.94 L503.3 571.24 L504.3 571.51 L505.3 571.76 L506.3 571.99 L507.3 572.19 L508.3 572.37 L509.3 572.53 L510.3 572.66 L511.3 572.77 L512.3 572.86 L513.3 572.93 L514.3 572.98 L515.3 573.01 L516.3 573.02 L517.3 573 L518.3 572.98 L519.3 572.93 L520.3 572.87 L521.3 572.79 L522.3 572.69 L523.3 572.58 L524.3 572.45 L525.3 572.31 L526.3 572.16 L527.3 571.99 L528.3 571.82 L529.3 571.63 L530.3 571.43 L531.3 571.21 L532.3 570.99 L533.3 570.77 L534.3 570.53 L535.3 570.28 L536.3 570.03 L537.3 569.77 L538.3 569.5 L539.3 569.23 L540.3 568.96 L541.3 568.68 L542.3 568.39 L543.3 568.11 L544.3 567.82 L545.3 567.53 L546.3 567.24 L547.3 566.95 L548.3 566.65 L549.3 566.36 L550.3 566.07 L551.3 565.79 L552.3 565.5 L553.3 565.22 L554.3 564.94 L555.3 564.66 L556.3 564.39 L557.3 564.11 L558.3 563.85 L559.3 563.58 L560.3 563.32 L561.3 563.06 L562.3 562.81 L563.3 562.56 L564.3 562.32 L565.3 562.08 L566.3 561.85 L567.3 561.62 L568.3 561.39 L569.3 561.18 L570.3 560.96 L571.3 560.76 L572.3 560.56 L573.3 560.37 L574.3 560.18 L575.3 560 L576.3 559.83 L577.3 559.67 L578.3 559.51 L579.3 559.36 L580.3 559.22 L581.3 559.08 L582.3 558.96 L583.3 558.84 L584.3 558.74 L585.3 558.64 L586.3 558.55 L587.3 558.47 L588.3 558.4 L589.3 558.34 L590.3 558.29 L591.3 558.25 L592.3 558.22 L593.3 558.2 L594.3 558.19 L595.3 558.2 L596.3 558.21 L597.3 558.24 L598.3 558.28 L599.3 558.33 L600.3 558.39 L601.3 558.47" stroke="#C56E1A"/></g><path d="M381.5 442.2 V580.5 M381.5 557.5 H605" stroke="#404040" stroke-width="1.0" fill="none"/><path d="M381.5 577.48 h3.2 M381.5 572.49 h2.2 M381.5 567.49 h2.2 M381.5 562.5 h2.2 M381.5 557.5 h3.2 M381.5 552.5 h2.2 M381.5 547.51 h2.2 M381.5 542.51 h2.2 M381.5 537.52 h3.2 M381.5 532.52 h2.2 M381.5 527.53 h2.2 M381.5 522.53 h2.2 M381.5 517.54 h3.2 M381.5 512.54 h2.2 M381.5 507.55 h2.2 M381.5 502.56 h2.2 M381.5 497.56 h3.2 M381.5 492.56 h2.2 M381.5 487.57 h2.2 M381.5 482.57 h2.2 M381.5 477.58 h3.2 M381.5 472.58 h2.2 M381.5 467.59 h2.2 M381.5 462.6 h2.2 M381.5 457.6 h3.2 M381.5 452.61 h2.2 M381.5 447.61 h2.2 M381.5 442.62 h2.2" stroke="#404040" stroke-width="1.0" fill="none"/><text transform="translate(379.1 580.48) scale(1 1.13)" text-anchor="end" font-size="8.7">−0.002</text><text transform="translate(379.1 560.5) scale(1 1.13)" text-anchor="end" font-size="8.7">0.000</text><text transform="translate(379.1 540.52) scale(1 1.13)" text-anchor="end" font-size="8.7">0.002</text><text transform="translate(379.1 520.54) scale(1 1.13)" text-anchor="end" font-size="8.7">0.004</text><text transform="translate(379.1 500.56) scale(1 1.13)" text-anchor="end" font-size="8.7">0.006</text><text transform="translate(379.1 480.58) scale(1 1.13)" text-anchor="end" font-size="8.7">0.008</text><text transform="translate(379.1 460.6) scale(1 1.13)" text-anchor="end" font-size="8.7">0.010</text><path d="M459.2 557.5 v-3" stroke="#404040" stroke-width="0.8" fill="none"/><text x="459.6" y="565.2" text-anchor="middle" font-family="Liberation Sans" font-style="italic" font-size="9.6">π</text><rect x="455.2" y="567.1" width="6.7" height="0.95" fill="#111"/><text transform="translate(459.2 577.9) scale(1 1.08)" text-anchor="middle" font-size="8.8">6</text><path d="M537.2 557.5 v-3" stroke="#404040" stroke-width="0.8" fill="none"/><text x="537.6" y="565.2" text-anchor="middle" font-family="Liberation Sans" font-style="italic" font-size="9.6">π</text><rect x="533.2" y="567.1" width="6.7" height="0.95" fill="#111"/><text transform="translate(537.2 577.9) scale(1 1.08)" text-anchor="middle" font-size="8.8">3</text><text x="611" y="562.6" font-family="Liberation Serif" font-style="italic" font-size="10.6" dx="1.0">ρ</text><text x="471.6" y="415.6" font-size="8.8"><tspan font-style="italic">v</tspan>=3/4,<tspan font-style="italic" dx="5.1">β</tspan>=3</text><path d="M356.5 425 L353.7 429.35 L356.5 433.7" fill="none" stroke="#111" stroke-width="0.95"/><text x="356.9" y="431.8" font-family="Liberation Serif" font-style="italic" font-size="8.9">T</text><path d="M358.8 423.3 L360.35 421.8 L361.9 423.3" fill="none" stroke="#111" stroke-width="0.9"/><text x="364.1" y="423.4" font-family="Liberation Serif" font-style="italic" font-size="7.4">ρ</text><text x="363.4" y="434" font-family="Liberation Serif" font-style="italic" font-size="7.2">ρ</text><path d="M368.6 425 L371.4 429.35 L368.6 433.7" fill="none" stroke="#111" stroke-width="0.95"/><text x="371.6" y="426.6" font-family="Liberation Serif" font-style="italic" font-size="7.1">D</text><text x="372.2" y="434.3" font-family="Liberation Serif" font-style="italic" font-size="7.1">β</text><rect x="379.8" y="428.6" width="4.9" height="0.95" fill="#111"/><path d="M389.8 425 L387 429.35 L389.8 433.7" fill="none" stroke="#111" stroke-width="0.95"/><text x="390.2" y="431.8" font-family="Liberation Serif" font-style="italic" font-size="8.9">T</text><path d="M392.1 423.3 L393.65 421.8 L395.2 423.3" fill="none" stroke="#111" stroke-width="0.9"/><text x="397.4" y="423.7" font-family="Liberation Serif" font-style="italic" font-size="7.4">t</text><text x="396.7" y="433.7" font-family="Liberation Serif" font-style="italic" font-size="7.2">t</text><path d="M399.8 425 L402.6 429.35 L399.8 433.7" fill="none" stroke="#111" stroke-width="0.95"/><text x="402.8" y="426.6" font-family="Liberation Serif" font-style="italic" font-size="7.1">D</text><text x="403.4" y="434.3" font-family="Liberation Serif" font-style="italic" font-size="7.1">β</text><rect x="621.9" y="439.7" width="62.2" height="110.1" fill="#fff" stroke="#2a2a2a" stroke-width="1.3"/><path d="M629.1 452.5 h14.8" stroke="#5E81B5" stroke-width="1.3"/><text x="648.9" y="455.3" font-size="8.7"><tspan font-family="Liberation Serif" font-style="italic" font-size="9.4">ξ</tspan><tspan dx="0.6">=−1</tspan></text><path d="M629.1 469.3 h14.8" stroke="#E19C24" stroke-width="1.3"/><text x="648.9" y="472.1" font-size="8.7"><tspan font-family="Liberation Serif" font-style="italic" font-size="9.4">ξ</tspan><tspan dx="0.6">=−1/2</tspan></text><path d="M629.1 486.1 h14.8" stroke="#8FB032" stroke-width="1.3"/><text x="648.9" y="488.9" font-size="8.7"><tspan font-family="Liberation Serif" font-style="italic" font-size="9.4">ξ</tspan><tspan dx="0.6">=0</tspan></text><path d="M629.1 502.9 h14.8" stroke="#EB6235" stroke-width="1.3"/><text x="648.9" y="505.7" font-size="8.7"><tspan font-family="Liberation Serif" font-style="italic" font-size="9.4">ξ</tspan><tspan dx="0.6">=1/8</tspan></text><path d="M629.1 519.7 h14.8" stroke="#8778B3" stroke-width="1.3"/><text x="648.9" y="522.5" font-size="8.7"><tspan font-family="Liberation Serif" font-style="italic" font-size="9.4">ξ</tspan><tspan dx="0.6">=1/2</tspan></text><path d="M629.1 536.5 h14.8" stroke="#C56E1A" stroke-width="1.3"/><text x="648.9" y="539.3" font-size="8.7"><tspan font-family="Liberation Serif" font-style="italic" font-size="9.4">ξ</tspan><tspan dx="0.6">=1</tspan></text>
</svg>
</body></html>
